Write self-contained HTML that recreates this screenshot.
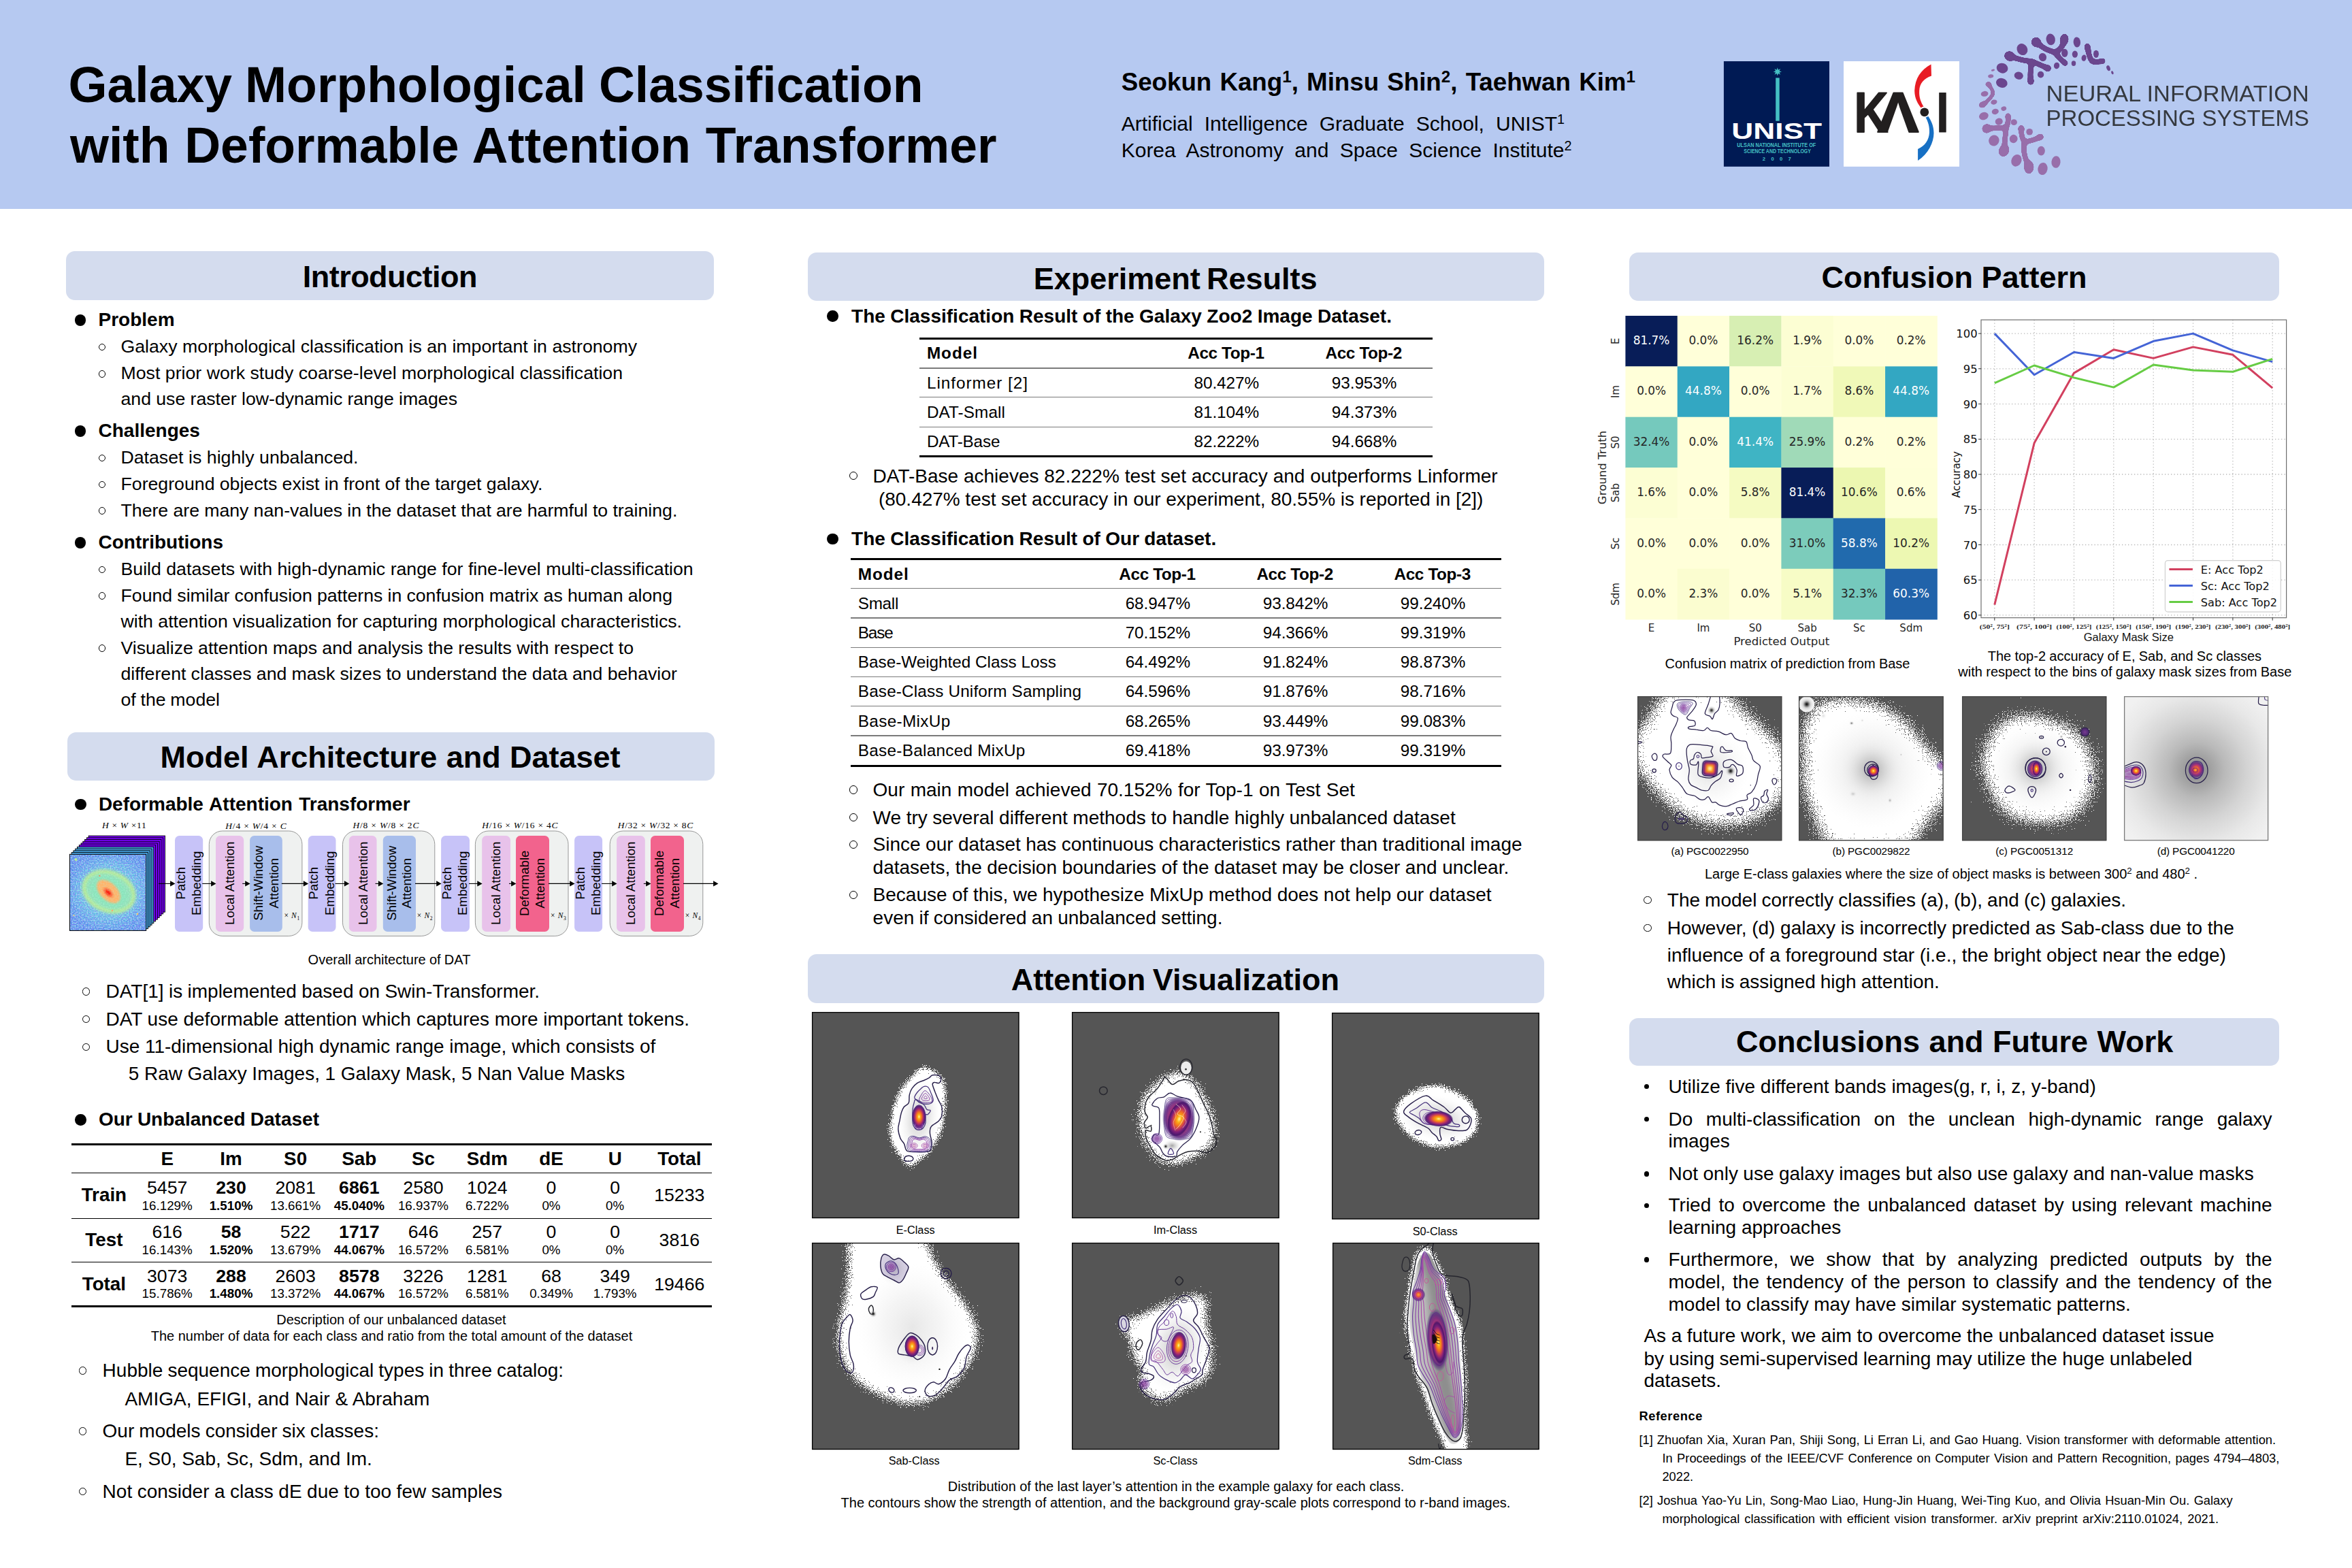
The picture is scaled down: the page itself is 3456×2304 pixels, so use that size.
<!DOCTYPE html>
<html lang="en"><head><meta charset="utf-8"><title>Galaxy Morphological Classification with Deformable Attention Transformer</title>
<style>
html,body{margin:0;padding:0;background:#fff;}
body{width:3456px;height:2304px;position:relative;overflow:hidden;font-family:'Liberation Sans',sans-serif;color:#000;}
.t{position:absolute;white-space:nowrap;line-height:1;}
.b{position:absolute;}
sup{font-size:66%;vertical-align:baseline;position:relative;top:-0.5em;line-height:0;}
svg{position:absolute;overflow:visible;}

</style></head><body>
<div class="b" style="left:0;top:0;width:3456px;height:307px;background:#b6c9f1"></div>
<div class="t" style="font-size:73.3px;top:89.10px;font-weight:bold;left:100.60px;word-spacing:-1.34px;">Galaxy Morphological Classification</div>
<div class="t" style="font-size:73.3px;top:177.50px;font-weight:bold;left:102.90px;word-spacing:1.37px;">with Deformable Attention Transformer</div>
<div class="t" style="font-size:36.7px;top:103.00px;font-weight:bold;left:1647.70px;word-spacing:2.04px;">Seokun Kang<sup>1</sup>, Minsu Shin<sup>2</sup>, Taehwan Kim<sup>1</sup></div>
<div class="t" style="font-size:30px;top:166.50px;left:1647.70px;word-spacing:8.75px;">Artificial Intelligence Graduate School, UNIST<sup>1</sup></div>
<div class="t" style="font-size:30px;top:205.70px;left:1647.70px;word-spacing:8.10px;">Korea Astronomy and Space Science Institute<sup>2</sup></div>
<div class="b" style="left:96.7px;top:369px;width:951.8999999999999px;height:71.5px;background:#d4dcee;border-radius:13px"></div>
<div class="t" style="font-size:45px;top:384.35px;font-weight:bold;left:444.80px;letter-spacing:-0.532px;">Introduction</div>
<div class="b" style="left:98.5px;top:1076.4px;width:951.0999999999999px;height:70.29999999999995px;background:#d4dcee;border-radius:13px"></div>
<div class="t" style="font-size:45px;top:1090.25px;font-weight:bold;left:235.50px;word-spacing:0.87px;">Model Architecture and Dataset</div>
<div class="b" style="left:1187.1px;top:371px;width:1081.9px;height:70.80000000000001px;background:#d4dcee;border-radius:13px"></div>
<div class="t" style="font-size:45px;top:386.55px;font-weight:bold;left:1518.70px;word-spacing:-3.34px;">Experiment Results</div>
<div class="b" style="left:1187.1px;top:1402.3px;width:1081.9px;height:71.29999999999995px;background:#d4dcee;border-radius:13px"></div>
<div class="t" style="font-size:45px;top:1417.35px;font-weight:bold;left:1485.70px;word-spacing:-1.90px;">Attention Visualization</div>
<div class="b" style="left:2394px;top:371.4px;width:954.6999999999998px;height:70.30000000000001px;background:#d4dcee;border-radius:13px"></div>
<div class="t" style="font-size:45px;top:384.85px;font-weight:bold;left:2676.60px;word-spacing:0.00px;">Confusion Pattern</div>
<div class="b" style="left:2394px;top:1495.5px;width:954.9000000000001px;height:70.0px;background:#d4dcee;border-radius:13px"></div>
<div class="t" style="font-size:45px;top:1507.85px;font-weight:bold;left:2551.10px;word-spacing:0.99px;">Conclusions and Future Work</div>
<div class="b" style="left:110.1px;top:462.2px;width:16.4px;height:16.4px;border-radius:50%;background:#000"></div>
<div class="t" style="font-size:28px;top:456.20px;font-weight:bold;left:144.50px;">Problem</div>
<div class="b" style="left:144.6px;top:504.7px;width:8.8px;height:8.8px;border-radius:50%;border:1.4px solid #000"></div>
<div class="t" style="font-size:26.7px;top:496.31px;left:177.50px;word-spacing:0.08px;">Galaxy morphological classification is an important in astronomy</div>
<div class="b" style="left:144.6px;top:543.8000000000001px;width:8.8px;height:8.8px;border-radius:50%;border:1.4px solid #000"></div>
<div class="t" style="font-size:26.7px;top:535.40px;left:177.50px;word-spacing:0.06px;">Most prior work study coarse-level morphological classification</div>
<div class="t" style="font-size:26.7px;top:573.00px;left:177.50px;word-spacing:-0.19px;">and use raster low-dynamic range images</div>
<div class="b" style="left:110.1px;top:625.1999999999999px;width:16.4px;height:16.4px;border-radius:50%;background:#000"></div>
<div class="t" style="font-size:28px;top:619.20px;font-weight:bold;left:144.50px;">Challenges</div>
<div class="b" style="left:144.6px;top:667.7px;width:8.8px;height:8.8px;border-radius:50%;border:1.4px solid #000"></div>
<div class="t" style="font-size:26.7px;top:659.30px;left:177.50px;word-spacing:0.11px;">Dataset is highly unbalanced.</div>
<div class="b" style="left:144.6px;top:706.7px;width:8.8px;height:8.8px;border-radius:50%;border:1.4px solid #000"></div>
<div class="t" style="font-size:26.7px;top:698.30px;left:177.50px;word-spacing:-0.15px;">Foreground objects exist in front of the target galaxy.</div>
<div class="b" style="left:144.6px;top:744.9000000000001px;width:8.8px;height:8.8px;border-radius:50%;border:1.4px solid #000"></div>
<div class="t" style="font-size:26.7px;top:736.50px;left:177.50px;word-spacing:-0.23px;">There are many nan-values in the dataset that are harmful to training.</div>
<div class="b" style="left:110.1px;top:789.1999999999999px;width:16.4px;height:16.4px;border-radius:50%;background:#000"></div>
<div class="t" style="font-size:28px;top:783.20px;font-weight:bold;left:144.50px;">Contributions</div>
<div class="b" style="left:144.6px;top:831.7px;width:8.8px;height:8.8px;border-radius:50%;border:1.4px solid #000"></div>
<div class="t" style="font-size:26.7px;top:823.30px;left:177.50px;word-spacing:0.02px;">Build datasets with high-dynamic range for fine-level multi-classification</div>
<div class="b" style="left:144.6px;top:870.2px;width:8.8px;height:8.8px;border-radius:50%;border:1.4px solid #000"></div>
<div class="t" style="font-size:26.7px;top:861.80px;left:177.50px;word-spacing:-0.27px;">Found similar confusion patterns in confusion matrix as human along</div>
<div class="t" style="font-size:26.7px;top:899.50px;left:177.50px;word-spacing:-0.04px;">with attention visualization for capturing morphological characteristics.</div>
<div class="b" style="left:144.6px;top:946.9000000000001px;width:8.8px;height:8.8px;border-radius:50%;border:1.4px solid #000"></div>
<div class="t" style="font-size:26.7px;top:938.50px;left:177.50px;word-spacing:-0.12px;">Visualize attention maps and analysis the results with respect to</div>
<div class="t" style="font-size:26.7px;top:976.60px;left:177.50px;word-spacing:-0.24px;">different classes and mask sizes to understand the data and behavior</div>
<div class="t" style="font-size:26.7px;top:1015.30px;left:177.50px;word-spacing:-0.69px;">of the model</div>
<div class="b" style="left:110.2px;top:1173.8px;width:16.4px;height:16.4px;border-radius:50%;background:#000"></div>
<div class="t" style="font-size:28px;top:1168.00px;font-weight:bold;left:144.90px;word-spacing:1.44px;">Deformable Attention Transformer</div>
<div class="t" style="font-size:20px;top:1400.30px;left:452.60px;word-spacing:-0.31px;">Overall architecture of DAT</div>
<div class="b" style="left:120.8px;top:1451.1999999999998px;width:9.600000000000001px;height:9.600000000000001px;border-radius:50%;border:1.6px solid #000"></div>
<div class="t" style="font-size:28px;top:1443.00px;left:155.50px;word-spacing:-0.40px;">DAT[1] is implemented based on Swin-Transformer.</div>
<div class="b" style="left:120.8px;top:1491.8999999999999px;width:9.600000000000001px;height:9.600000000000001px;border-radius:50%;border:1.6px solid #000"></div>
<div class="t" style="font-size:28px;top:1483.70px;left:155.50px;word-spacing:-0.08px;">DAT use deformable attention which captures more important tokens.</div>
<div class="b" style="left:120.8px;top:1532.6px;width:9.600000000000001px;height:9.600000000000001px;border-radius:50%;border:1.6px solid #000"></div>
<div class="t" style="font-size:28px;top:1524.40px;left:155.50px;word-spacing:-0.11px;">Use 11-dimensional high dynamic range image, which consists of</div>
<div class="t" style="font-size:28px;top:1563.70px;left:188.70px;word-spacing:-0.13px;">5 Raw Galaxy Images, 1 Galaxy Mask, 5 Nan Value Masks</div>
<div class="b" style="left:110.2px;top:1637.3999999999999px;width:16.4px;height:16.4px;border-radius:50%;background:#000"></div>
<div class="t" style="font-size:28px;top:1631.40px;font-weight:bold;left:144.90px;word-spacing:-0.55px;">Our Unbalanced Dataset</div>
<div class="b" style="left:105.1px;top:1679.9px;width:940.4999999999999px;height:3.2px;background:#000"></div>
<div class="b" style="left:105.1px;top:1722.85px;width:940.4999999999999px;height:1.3px;background:#000"></div>
<div class="b" style="left:105.1px;top:1790.05px;width:940.4999999999999px;height:1.3px;background:#000"></div>
<div class="b" style="left:105.1px;top:1854.1499999999999px;width:940.4999999999999px;height:1.3px;background:#000"></div>
<div class="b" style="left:105.1px;top:1917.8000000000002px;width:940.4999999999999px;height:3.2px;background:#000"></div>
<div class="t" style="font-size:27.8px;top:1689.27px;font-weight:bold;left:236.43px;">E</div>
<div class="t" style="font-size:27.8px;top:1689.27px;font-weight:bold;left:323.27px;">Im</div>
<div class="t" style="font-size:27.8px;top:1689.27px;font-weight:bold;left:417.10px;">S0</div>
<div class="t" style="font-size:27.8px;top:1689.27px;font-weight:bold;left:502.31px;">Sab</div>
<div class="t" style="font-size:27.8px;top:1689.27px;font-weight:bold;left:605.00px;">Sc</div>
<div class="t" style="font-size:27.8px;top:1689.27px;font-weight:bold;left:685.67px;">Sdm</div>
<div class="t" style="font-size:27.8px;top:1689.27px;font-weight:bold;left:792.23px;">dE</div>
<div class="t" style="font-size:27.8px;top:1689.27px;font-weight:bold;left:893.66px;">U</div>
<div class="t" style="font-size:27.8px;top:1689.27px;font-weight:bold;left:966.13px;">Total</div>
<div class="t" style="font-size:27.8px;top:1742.27px;font-weight:bold;left:119.68px;">Train</div>
<div class="t" style="font-size:26.7px;top:1732.21px;left:216.01px;">5457</div>
<div class="t" style="font-size:18.8px;top:1763.22px;left:208.62px;">16.129%</div>
<div class="t" style="font-size:26.7px;top:1732.21px;font-weight:bold;left:317.23px;">230</div>
<div class="t" style="font-size:18.8px;top:1763.22px;font-weight:bold;left:307.65px;">1.510%</div>
<div class="t" style="font-size:26.7px;top:1732.21px;left:404.41px;">2081</div>
<div class="t" style="font-size:18.8px;top:1763.22px;left:397.02px;">13.661%</div>
<div class="t" style="font-size:26.7px;top:1732.21px;font-weight:bold;left:498.11px;">6861</div>
<div class="t" style="font-size:18.8px;top:1763.22px;font-weight:bold;left:490.72px;">45.040%</div>
<div class="t" style="font-size:26.7px;top:1732.21px;left:592.31px;">2580</div>
<div class="t" style="font-size:18.8px;top:1763.22px;left:584.92px;">16.937%</div>
<div class="t" style="font-size:26.7px;top:1732.21px;left:686.11px;">1024</div>
<div class="t" style="font-size:18.8px;top:1763.22px;left:683.95px;">6.722%</div>
<div class="t" style="font-size:26.7px;top:1732.21px;left:802.58px;">0</div>
<div class="t" style="font-size:18.8px;top:1763.22px;left:796.42px;">0%</div>
<div class="t" style="font-size:26.7px;top:1732.21px;left:896.28px;">0</div>
<div class="t" style="font-size:18.8px;top:1763.22px;left:890.12px;">0%</div>
<div class="t" style="font-size:26.7px;top:1743.21px;left:961.19px;">15233</div>
<div class="t" style="font-size:27.8px;top:1807.77px;font-weight:bold;left:125.35px;">Test</div>
<div class="t" style="font-size:26.7px;top:1797.21px;left:223.43px;">616</div>
<div class="t" style="font-size:18.8px;top:1828.22px;left:208.62px;">16.143%</div>
<div class="t" style="font-size:26.7px;top:1797.21px;font-weight:bold;left:324.66px;">58</div>
<div class="t" style="font-size:18.8px;top:1828.22px;font-weight:bold;left:307.65px;">1.520%</div>
<div class="t" style="font-size:26.7px;top:1797.21px;left:411.83px;">522</div>
<div class="t" style="font-size:18.8px;top:1828.22px;left:397.02px;">13.679%</div>
<div class="t" style="font-size:26.7px;top:1797.21px;font-weight:bold;left:498.11px;">1717</div>
<div class="t" style="font-size:18.8px;top:1828.22px;font-weight:bold;left:490.72px;">44.067%</div>
<div class="t" style="font-size:26.7px;top:1797.21px;left:599.73px;">646</div>
<div class="t" style="font-size:18.8px;top:1828.22px;left:584.92px;">16.572%</div>
<div class="t" style="font-size:26.7px;top:1797.21px;left:693.53px;">257</div>
<div class="t" style="font-size:18.8px;top:1828.22px;left:683.95px;">6.581%</div>
<div class="t" style="font-size:26.7px;top:1797.21px;left:802.58px;">0</div>
<div class="t" style="font-size:18.8px;top:1828.22px;left:796.42px;">0%</div>
<div class="t" style="font-size:26.7px;top:1797.21px;left:896.28px;">0</div>
<div class="t" style="font-size:18.8px;top:1828.22px;left:890.12px;">0%</div>
<div class="t" style="font-size:26.7px;top:1808.71px;left:968.61px;">3816</div>
<div class="t" style="font-size:27.8px;top:1872.77px;font-weight:bold;left:120.73px;">Total</div>
<div class="t" style="font-size:26.7px;top:1861.71px;left:216.01px;">3073</div>
<div class="t" style="font-size:18.8px;top:1892.32px;left:208.62px;">15.786%</div>
<div class="t" style="font-size:26.7px;top:1861.71px;font-weight:bold;left:317.23px;">288</div>
<div class="t" style="font-size:18.8px;top:1892.32px;font-weight:bold;left:307.65px;">1.480%</div>
<div class="t" style="font-size:26.7px;top:1861.71px;left:404.41px;">2603</div>
<div class="t" style="font-size:18.8px;top:1892.32px;left:397.02px;">13.372%</div>
<div class="t" style="font-size:26.7px;top:1861.71px;font-weight:bold;left:498.11px;">8578</div>
<div class="t" style="font-size:18.8px;top:1892.32px;font-weight:bold;left:490.72px;">44.067%</div>
<div class="t" style="font-size:26.7px;top:1861.71px;left:592.31px;">3226</div>
<div class="t" style="font-size:18.8px;top:1892.32px;left:584.92px;">16.572%</div>
<div class="t" style="font-size:26.7px;top:1861.71px;left:686.11px;">1281</div>
<div class="t" style="font-size:18.8px;top:1892.32px;left:683.95px;">6.581%</div>
<div class="t" style="font-size:26.7px;top:1861.71px;left:795.16px;">68</div>
<div class="t" style="font-size:18.8px;top:1892.32px;left:778.15px;">0.349%</div>
<div class="t" style="font-size:26.7px;top:1861.71px;left:881.43px;">349</div>
<div class="t" style="font-size:18.8px;top:1892.32px;left:871.85px;">1.793%</div>
<div class="t" style="font-size:26.7px;top:1873.71px;left:961.19px;">19466</div>
<div class="t" style="font-size:20px;top:1929.30px;left:406.20px;word-spacing:0.13px;">Description of our unbalanced dataset</div>
<div class="t" style="font-size:20px;top:1953.20px;left:221.75px;word-spacing:-0.05px;">The number of data for each class and ratio from the total amount of the dataset</div>
<div class="b" style="left:115.89999999999999px;top:2008.1px;width:9.600000000000001px;height:9.600000000000001px;border-radius:50%;border:1.6px solid #000"></div>
<div class="t" style="font-size:28px;top:1999.90px;left:150.60px;word-spacing:-0.71px;">Hubble sequence morphological types in three catalog:</div>
<div class="t" style="font-size:28px;top:2041.90px;left:183.40px;word-spacing:0.26px;">AMIGA, EFIGI, and Nair &amp; Abraham</div>
<div class="b" style="left:115.89999999999999px;top:2097.4px;width:9.600000000000001px;height:9.600000000000001px;border-radius:50%;border:1.6px solid #000"></div>
<div class="t" style="font-size:28px;top:2089.20px;left:150.60px;word-spacing:-0.72px;">Our models consider six classes:</div>
<div class="t" style="font-size:28px;top:2129.50px;left:183.40px;word-spacing:-0.13px;">E, S0, Sab, Sc, Sdm, and Im.</div>
<div class="b" style="left:115.89999999999999px;top:2185.9px;width:9.600000000000001px;height:9.600000000000001px;border-radius:50%;border:1.6px solid #000"></div>
<div class="t" style="font-size:28px;top:2177.70px;left:150.60px;word-spacing:-0.28px;">Not consider a class dE due to too few samples</div>
<div class="b" style="left:1215.3px;top:456.40000000000003px;width:16.4px;height:16.4px;border-radius:50%;background:#000"></div>
<div class="t" style="font-size:28px;top:450.50px;font-weight:bold;left:1251.10px;word-spacing:-0.35px;">The Classification Result of the Galaxy Zoo2 Image Dataset.</div>
<div class="b" style="left:1350.9px;top:495.7px;width:754.1999999999998px;height:3px;background:#000"></div>
<div class="b" style="left:1350.9px;top:540.3px;width:754.1999999999998px;height:1.4px;background:#7a7a7a"></div>
<div class="b" style="left:1350.9px;top:583.0999999999999px;width:754.1999999999998px;height:1.4px;background:#7a7a7a"></div>
<div class="b" style="left:1350.9px;top:626.5px;width:754.1999999999998px;height:1.4px;background:#7a7a7a"></div>
<div class="b" style="left:1350.9px;top:669.2px;width:754.1999999999998px;height:3px;background:#000"></div>
<div class="t" style="font-size:24.3px;top:507.45px;font-weight:bold;left:1361.90px;letter-spacing:0.953px;">Model</div>
<div class="t" style="font-size:24.3px;top:507.45px;font-weight:bold;left:1745.20px;letter-spacing:-0.357px;">Acc Top-1</div>
<div class="t" style="font-size:24.3px;top:507.45px;font-weight:bold;left:1947.50px;letter-spacing:-0.357px;">Acc Top-2</div>
<div class="t" style="font-size:24.3px;top:550.55px;left:1361.90px;letter-spacing:0.984px;">Linformer [2]</div>
<div class="t" style="font-size:24.3px;top:550.55px;left:1754.55px;letter-spacing:-0.070px;">80.427%</div>
<div class="t" style="font-size:24.3px;top:550.55px;left:1956.85px;letter-spacing:-0.070px;">93.953%</div>
<div class="t" style="font-size:24.3px;top:593.64px;left:1361.90px;letter-spacing:0.088px;">DAT-Small</div>
<div class="t" style="font-size:24.3px;top:593.64px;left:1754.55px;letter-spacing:-0.070px;">81.104%</div>
<div class="t" style="font-size:24.3px;top:593.64px;left:1956.85px;letter-spacing:-0.070px;">94.373%</div>
<div class="t" style="font-size:24.3px;top:636.75px;left:1361.90px;letter-spacing:-0.203px;">DAT-Base</div>
<div class="t" style="font-size:24.3px;top:636.75px;left:1754.55px;letter-spacing:-0.070px;">82.222%</div>
<div class="t" style="font-size:24.3px;top:636.75px;left:1956.85px;letter-spacing:-0.070px;">94.668%</div>
<div class="b" style="left:1248.1px;top:693.1px;width:10.4px;height:10.4px;border-radius:50%;border:1.7px solid #000"></div>
<div class="t" style="font-size:28px;top:685.60px;left:1282.60px;word-spacing:0.05px;">DAT-Base achieves 82.222% test set accuracy and outperforms Linformer</div>
<div class="t" style="font-size:28px;top:719.50px;left:1290.90px;word-spacing:-0.16px;">(80.427% test set accuracy in our experiment, 80.55% is reported in [2])</div>
<div class="b" style="left:1215.3px;top:784.0px;width:16.4px;height:16.4px;border-radius:50%;background:#000"></div>
<div class="t" style="font-size:28px;top:778.20px;font-weight:bold;left:1251.10px;word-spacing:-0.45px;">The Classification Result of Our dataset.</div>
<div class="b" style="left:1250.2px;top:820.3px;width:955.8px;height:3px;background:#000"></div>
<div class="b" style="left:1250.2px;top:863.8px;width:955.8px;height:1.4px;background:#7a7a7a"></div>
<div class="b" style="left:1250.2px;top:907.4px;width:955.8px;height:1.4px;background:#7a7a7a"></div>
<div class="b" style="left:1250.2px;top:950.5px;width:955.8px;height:1.4px;background:#7a7a7a"></div>
<div class="b" style="left:1250.2px;top:993.6999999999999px;width:955.8px;height:1.4px;background:#7a7a7a"></div>
<div class="b" style="left:1250.2px;top:1036.7px;width:955.8px;height:1.4px;background:#7a7a7a"></div>
<div class="b" style="left:1250.2px;top:1080.3px;width:955.8px;height:1.4px;background:#7a7a7a"></div>
<div class="b" style="left:1250.2px;top:1123.5px;width:955.8px;height:3px;background:#000"></div>
<div class="t" style="font-size:24.3px;top:831.64px;font-weight:bold;left:1260.80px;letter-spacing:0.953px;">Model</div>
<div class="t" style="font-size:24.3px;top:831.64px;font-weight:bold;left:1644.30px;letter-spacing:-0.357px;">Acc Top-1</div>
<div class="t" style="font-size:24.3px;top:831.64px;font-weight:bold;left:1846.40px;letter-spacing:-0.357px;">Acc Top-2</div>
<div class="t" style="font-size:24.3px;top:831.64px;font-weight:bold;left:2048.50px;letter-spacing:-0.357px;">Acc Top-3</div>
<div class="t" style="font-size:24.3px;top:875.35px;left:1260.80px;letter-spacing:-0.316px;">Small</div>
<div class="t" style="font-size:24.3px;top:875.35px;left:1653.65px;letter-spacing:-0.070px;">68.947%</div>
<div class="t" style="font-size:24.3px;top:875.35px;left:1855.75px;letter-spacing:-0.070px;">93.842%</div>
<div class="t" style="font-size:24.3px;top:875.35px;left:2057.85px;letter-spacing:-0.070px;">99.240%</div>
<div class="t" style="font-size:24.3px;top:917.95px;left:1260.80px;letter-spacing:-1.130px;">Base</div>
<div class="t" style="font-size:24.3px;top:917.95px;left:1653.65px;letter-spacing:-0.070px;">70.152%</div>
<div class="t" style="font-size:24.3px;top:917.95px;left:1855.75px;letter-spacing:-0.070px;">94.366%</div>
<div class="t" style="font-size:24.3px;top:917.95px;left:2057.85px;letter-spacing:-0.070px;">99.319%</div>
<div class="t" style="font-size:24.3px;top:961.14px;left:1260.80px;letter-spacing:-0.012px;">Base-Weighted Class Loss</div>
<div class="t" style="font-size:24.3px;top:961.14px;left:1653.65px;letter-spacing:-0.070px;">64.492%</div>
<div class="t" style="font-size:24.3px;top:961.14px;left:1855.75px;letter-spacing:-0.070px;">91.824%</div>
<div class="t" style="font-size:24.3px;top:961.14px;left:2057.85px;letter-spacing:-0.070px;">98.873%</div>
<div class="t" style="font-size:24.3px;top:1004.35px;left:1260.80px;letter-spacing:0.155px;">Base-Class Uniform Sampling</div>
<div class="t" style="font-size:24.3px;top:1004.35px;left:1653.65px;letter-spacing:-0.070px;">64.596%</div>
<div class="t" style="font-size:24.3px;top:1004.35px;left:1855.75px;letter-spacing:-0.070px;">91.876%</div>
<div class="t" style="font-size:24.3px;top:1004.35px;left:2057.85px;letter-spacing:-0.070px;">98.716%</div>
<div class="t" style="font-size:24.3px;top:1047.64px;left:1260.80px;letter-spacing:0.352px;">Base-MixUp</div>
<div class="t" style="font-size:24.3px;top:1047.64px;left:1653.65px;letter-spacing:-0.070px;">68.265%</div>
<div class="t" style="font-size:24.3px;top:1047.64px;left:1855.75px;letter-spacing:-0.070px;">93.449%</div>
<div class="t" style="font-size:24.3px;top:1047.64px;left:2057.85px;letter-spacing:-0.070px;">99.083%</div>
<div class="t" style="font-size:24.3px;top:1091.35px;left:1260.80px;letter-spacing:0.284px;">Base-Balanced MixUp</div>
<div class="t" style="font-size:24.3px;top:1091.35px;left:1653.65px;letter-spacing:-0.070px;">69.418%</div>
<div class="t" style="font-size:24.3px;top:1091.35px;left:1855.75px;letter-spacing:-0.070px;">93.973%</div>
<div class="t" style="font-size:24.3px;top:1091.35px;left:2057.85px;letter-spacing:-0.070px;">99.319%</div>
<div class="t" style="font-size:28px;top:1146.80px;left:1282.60px;word-spacing:0.63px;">Our main model achieved 70.152% for Top-1 on Test Set</div>
<div class="t" style="font-size:28px;top:1187.50px;left:1282.60px;word-spacing:-0.23px;">We try several different methods to handle highly unbalanced dataset</div>
<div class="t" style="font-size:28px;top:1227.30px;left:1282.60px;word-spacing:-0.36px;">Since our dataset has continuous characteristics rather than traditional image</div>
<div class="t" style="font-size:28px;top:1261.20px;left:1282.60px;word-spacing:-0.22px;">datasets, the decision boundaries of the dataset may be closer and unclear.</div>
<div class="t" style="font-size:28px;top:1301.40px;left:1282.60px;word-spacing:-0.29px;">Because of this, we hypothesize MixUp method does not help our dataset</div>
<div class="t" style="font-size:28px;top:1335.40px;left:1282.60px;word-spacing:-0.60px;">even if considered an unbalanced setting.</div>
<div class="b" style="left:1248.1px;top:1154.2999999999997px;width:10.4px;height:10.4px;border-radius:50%;border:1.7px solid #000"></div>
<div class="b" style="left:1248.1px;top:1194.9999999999998px;width:10.4px;height:10.4px;border-radius:50%;border:1.7px solid #000"></div>
<div class="b" style="left:1248.1px;top:1234.7999999999997px;width:10.4px;height:10.4px;border-radius:50%;border:1.7px solid #000"></div>
<div class="b" style="left:1248.1px;top:1308.8999999999999px;width:10.4px;height:10.4px;border-radius:50%;border:1.7px solid #000"></div>
<div class="t" style="font-size:16.3px;top:1799.24px;left:1316.70px;">E-Class</div>
<div class="t" style="font-size:16.3px;top:1799.24px;left:1694.89px;">Im-Class</div>
<div class="t" style="font-size:16.3px;top:1801.35px;left:2075.67px;">S0-Class</div>
<div class="t" style="font-size:16.3px;top:2138.14px;left:1305.65px;">Sab-Class</div>
<div class="t" style="font-size:16.3px;top:2138.14px;left:1694.43px;">Sc-Class</div>
<div class="t" style="font-size:16.3px;top:2138.14px;left:2068.89px;">Sdm-Class</div>
<div class="t" style="font-size:20px;top:2173.80px;left:1392.75px;word-spacing:-0.11px;">Distribution of the last layer’s attention in the example galaxy for each class.</div>
<div class="t" style="font-size:20px;top:2198.30px;left:1235.55px;word-spacing:-0.08px;">The contours show the strength of attention, and the background gray-scale plots correspond to r-band images.</div>
<div class="t" style="font-size:20px;top:964.90px;left:2446.50px;word-spacing:-0.26px;">Confusion matrix of prediction from Base</div>
<div class="t" style="font-size:20px;top:953.60px;left:2920.70px;word-spacing:-0.28px;">The top-2 accuracy of E, Sab, and Sc classes</div>
<div class="t" style="font-size:20px;top:977.40px;left:2877.30px;word-spacing:-0.13px;">with respect to the bins of galaxy mask sizes from Base</div>
<div class="t" style="font-size:15.3px;top:1242.59px;left:2455.60px;letter-spacing:-0.127px;">(a) PGC0022950</div>
<div class="t" style="font-size:15.3px;top:1242.59px;left:2692.60px;letter-spacing:-0.127px;">(b) PGC0029822</div>
<div class="t" style="font-size:15.3px;top:1242.59px;left:2932.20px;letter-spacing:-0.061px;">(c) PGC0051312</div>
<div class="t" style="font-size:15.3px;top:1242.59px;left:3169.70px;letter-spacing:-0.127px;">(d) PGC0041220</div>
<div class="t" style="font-size:20px;top:1273.50px;left:2505.00px;word-spacing:0.00px;">Large E-class galaxies where the size of object masks is between 300<sup>2</sup> and 480<sup>2</sup> .</div>
<div class="b" style="left:2415.1px;top:1316.8px;width:9.600000000000001px;height:9.600000000000001px;border-radius:50%;border:1.6px solid #000"></div>
<div class="t" style="font-size:28px;top:1308.70px;left:2449.80px;word-spacing:-0.71px;">The model correctly classifies (a), (b), and (c) galaxies.</div>
<div class="b" style="left:2415.1px;top:1357.8999999999999px;width:9.600000000000001px;height:9.600000000000001px;border-radius:50%;border:1.6px solid #000"></div>
<div class="t" style="font-size:28px;top:1349.80px;left:2449.80px;word-spacing:-0.12px;">However, (d) galaxy is incorrectly predicted as Sab-class due to the</div>
<div class="t" style="font-size:28px;top:1389.60px;left:2449.80px;word-spacing:-0.21px;">influence of a foreground star (i.e., the bright object near the edge)</div>
<div class="t" style="font-size:28px;top:1429.40px;left:2449.80px;word-spacing:-0.76px;">which is assigned high attention.</div>
<div class="t" style="font-size:28px;top:1582.60px;left:2451.50px;word-spacing:-0.00px;">Utilize five different bands images(g, r, i, z, y-band)</div>
<div class="t" style="font-size:28px;top:1630.50px;left:2451.50px;word-spacing:11.78px;">Do multi-classification on the unclean high-dynamic range galaxy</div>
<div class="t" style="font-size:28px;top:1662.80px;left:2451.50px;">images</div>
<div class="t" style="font-size:28px;top:1710.70px;left:2451.50px;word-spacing:-0.33px;">Not only use galaxy images but also use galaxy and nan-value masks</div>
<div class="t" style="font-size:28px;top:1757.00px;left:2451.50px;word-spacing:3.39px;">Tried to overcome the unbalanced dataset by using relevant machine</div>
<div class="t" style="font-size:28px;top:1790.40px;left:2451.50px;">learning approaches</div>
<div class="t" style="font-size:28px;top:1836.70px;left:2451.50px;word-spacing:9.33px;">Furthermore, we show that by analyzing predicted outputs by the</div>
<div class="t" style="font-size:28px;top:1870.10px;left:2451.50px;word-spacing:2.71px;">model, the tendency of the person to classify and the tendency of the</div>
<div class="t" style="font-size:28px;top:1903.40px;left:2451.50px;word-spacing:-0.32px;">model to classify may have similar systematic patterns.</div>
<div class="b" style="left:2416.2000000000003px;top:1593.3000000000002px;width:7.2px;height:7.2px;border-radius:50%;background:#000"></div>
<div class="b" style="left:2416.2000000000003px;top:1641.2px;width:7.2px;height:7.2px;border-radius:50%;background:#000"></div>
<div class="b" style="left:2416.2000000000003px;top:1721.4px;width:7.2px;height:7.2px;border-radius:50%;background:#000"></div>
<div class="b" style="left:2416.2000000000003px;top:1767.7px;width:7.2px;height:7.2px;border-radius:50%;background:#000"></div>
<div class="b" style="left:2416.2000000000003px;top:1847.4px;width:7.2px;height:7.2px;border-radius:50%;background:#000"></div>
<div class="t" style="font-size:28px;top:1948.70px;left:2415.40px;word-spacing:-0.20px;">As a future work, we aim to overcome the unbalanced dataset issue</div>
<div class="t" style="font-size:28px;top:1982.60px;left:2415.40px;word-spacing:-0.43px;">by using semi-supervised learning may utilize the huge unlabeled</div>
<div class="t" style="font-size:28px;top:2015.40px;left:2415.40px;">datasets.</div>
<div class="t" style="font-size:18.3px;top:2071.55px;font-weight:bold;left:2408.40px;letter-spacing:0.585px;">Reference</div>
<div class="t" style="font-size:18.3px;top:2107.05px;left:2408.40px;word-spacing:1.02px;">[1] Zhuofan Xia, Xuran Pan, Shiji Song, Li Erran Li, and Gao Huang. Vision transformer with deformable attention.</div>
<div class="t" style="font-size:18.3px;top:2134.05px;left:2442.40px;word-spacing:1.39px;">In Proceedings of the IEEE/CVF Conference on Computer Vision and Pattern Recognition, pages 4794–4803,</div>
<div class="t" style="font-size:18.3px;top:2160.95px;left:2442.40px;">2022.</div>
<div class="t" style="font-size:18.3px;top:2196.45px;left:2408.40px;word-spacing:1.23px;">[2] Joshua Yao-Yu Lin, Song-Mao Liao, Hung-Jin Huang, Wei-Ting Kuo, and Olivia Hsuan-Min Ou. Galaxy</div>
<div class="t" style="font-size:18.3px;top:2222.85px;left:2442.40px;word-spacing:2.06px;">morphological classification with efficient vision transformer. arXiv preprint arXiv:2110.01024, 2021.</div>
<svg style="left:2520px;top:40px" width="936" height="240" viewBox="2520 40 936 240" font-family="Liberation Sans, sans-serif">
<rect x="2532.9" y="90" width="155.1" height="154.8" fill="#001a54"/>
<rect x="2609.2" y="114.4" width="5.5" height="63.3" fill="#45c0c4"/>
<polygon points="2611.80,99.20 2612.91,102.72 2616.18,101.02 2614.48,104.29 2618.00,105.40 2614.48,106.51 2616.18,109.78 2612.91,108.08 2611.80,111.60 2610.69,108.08 2607.42,109.78 2609.12,106.51 2605.60,105.40 2609.12,104.29 2607.42,101.02 2610.69,102.72" fill="#45c0c4"/>
<text x="2544.2" y="204.4" font-size="32.8" font-weight="bold" fill="#fff" textLength="133" lengthAdjust="spacingAndGlyphs">UNIST</text>
<text x="2552.3" y="215.7" font-size="8.2" font-weight="bold" fill="#45c0c4" textLength="116" lengthAdjust="spacingAndGlyphs">ULSAN NATIONAL INSTITUTE OF</text>
<text x="2562.3" y="224.9" font-size="8.2" font-weight="bold" fill="#45c0c4" textLength="98.6" lengthAdjust="spacingAndGlyphs">SCIENCE AND TECHNOLOGY</text>
<text x="2589.8" y="236.4" font-size="7.6" font-weight="bold" fill="#45c0c4" textLength="42" lengthAdjust="spacing">2 0 0 7</text>
<rect x="2709" y="90" width="170" height="154.8" fill="#fff"/>
<text x="2724.6" y="193.9" font-size="83.4" font-weight="bold" fill="#221f1f" stroke="#221f1f" stroke-width="1.8" stroke-linejoin="round" textLength="50" lengthAdjust="spacingAndGlyphs">K</text>
<text x="2758.5" y="193.9" font-size="83.4" font-weight="bold" fill="#221f1f" stroke="#221f1f" stroke-width="1.8" stroke-linejoin="round" textLength="61" lengthAdjust="spacingAndGlyphs">Λ</text>
<text x="2845.3" y="193.9" font-size="83.4" font-weight="bold" fill="#221f1f" stroke="#221f1f" stroke-width="1" textLength="18.4" lengthAdjust="spacingAndGlyphs">I</text>
<path d="M2837.5 94.5C2822.1 102.6 2814.0 115.5 2813.2 133.3C2813.2 144.6 2818.1 152.7 2823.4 159.5L2827.0 157.6C2822.1 149.5 2819.7 143.0 2820.2 133.3C2820.8 122.0 2827.0 115.5 2838.0 111.5Z" fill="#e81c24"/>
<path d="M2828.9 171.4C2833.4 178.6 2835.4 186.6 2835.0 194.7C2834.4 206.0 2828.6 214.1 2818.1 218.9L2818.1 235.9C2833.4 226.2 2841.5 209.3 2841.5 195.5C2841.5 185.0 2837.5 176.9 2832.6 169.8Z" fill="#1770c4"/>
<circle cx="2827.8" cy="164.8" r="8.2" fill="#fff"/><circle cx="2827.8" cy="164.8" r="6.4" fill="#221f1f"/>
<g transform="translate(2890,40) scale(0.14670)">
<defs><filter id="goo" x="-5%" y="-5%" width="110%" height="110%"><feGaussianBlur in="SourceGraphic" stdDeviation="13"/><feColorMatrix type="matrix" values="1 0 0 0 0  0 1 0 0 0  0 0 1 0 0  0 0 0 22 -9"/></filter></defs>
<ellipse cx="840" cy="122" rx="45" ry="58" transform="rotate(-10 840 122)" fill="#6b468e"/>
<ellipse cx="1103" cy="150" rx="35" ry="52" transform="rotate(-5 1103 150)" fill="#6b468e"/>
<ellipse cx="555" cy="222" rx="52" ry="60" transform="rotate(-30 555 222)" fill="#6b468e"/>
<ellipse cx="1295" cy="268" rx="27" ry="38" transform="rotate(0 1295 268)" fill="#6b468e"/>
<ellipse cx="980" cy="258" rx="32" ry="42" transform="rotate(0 980 258)" fill="#6b468e"/>
<ellipse cx="1083" cy="270" rx="28" ry="35" transform="rotate(0 1083 270)" fill="#6b468e"/>
<ellipse cx="760" cy="300" rx="38" ry="42" transform="rotate(-20 760 300)" fill="#6b468e"/>
<ellipse cx="1173" cy="308" rx="24" ry="32" transform="rotate(10 1173 308)" fill="#6b468e"/>
<ellipse cx="900" cy="385" rx="28" ry="33" transform="rotate(10 900 385)" fill="#6b468e"/>
<ellipse cx="1070" cy="362" rx="22" ry="27" transform="rotate(0 1070 362)" fill="#6b468e"/>
<ellipse cx="355" cy="410" rx="58" ry="50" transform="rotate(20 355 410)" fill="#6b468e"/>
<ellipse cx="520" cy="485" rx="45" ry="38" transform="rotate(15 520 485)" fill="#6b468e"/>
<ellipse cx="740" cy="475" rx="32" ry="33" transform="rotate(0 740 475)" fill="#6b468e"/>
<ellipse cx="350" cy="558" rx="58" ry="47" transform="rotate(15 350 558)" fill="#6b468e"/>
<ellipse cx="1418" cy="410" rx="18" ry="28" transform="rotate(-20 1418 410)" fill="#6b468e"/>
<ellipse cx="1458" cy="455" rx="11" ry="18" transform="rotate(-20 1458 455)" fill="#6b468e"/>
<g filter="url(#goo)">
<ellipse cx="975" cy="125" rx="42" ry="60" transform="rotate(10 975 125)" fill="#6b468e"/>
<ellipse cx="695" cy="150" rx="48" ry="50" transform="rotate(-30 695 150)" fill="#6b468e"/>
<ellipse cx="1210" cy="205" rx="30" ry="48" transform="rotate(-10 1210 205)" fill="#6b468e"/>
<ellipse cx="430" cy="290" rx="55" ry="48" transform="rotate(20 430 290)" fill="#6b468e"/>
<ellipse cx="985" cy="360" rx="28" ry="30" transform="rotate(0 985 360)" fill="#6b468e"/>
<ellipse cx="640" cy="540" rx="33" ry="38" transform="rotate(0 640 540)" fill="#6b468e"/>
<ellipse cx="1360" cy="340" rx="28" ry="30" transform="rotate(0 1360 340)" fill="#6b468e"/>
<ellipse cx="810" cy="410" rx="35" ry="35" transform="rotate(0 810 410)" fill="#6b468e"/>
<path d="M695 150Q780 230 880 250Q950 230 975 140M880 250Q940 330 985 360M430 290Q560 340 650 340Q740 380 810 410M650 340Q630 440 640 540M1210 205Q1230 330 1260 345Q1310 350 1360 340" fill="none" stroke="#6b468e" stroke-width="50" stroke-linecap="round" stroke-linejoin="round"/>
</g>
<ellipse cx="262" cy="430" rx="18" ry="10" transform="rotate(-15 262 430)" fill="#986eaa"/>
<ellipse cx="240" cy="490" rx="28" ry="18" transform="rotate(-10 240 490)" fill="#986eaa"/>
<ellipse cx="178" cy="667" rx="37" ry="27" transform="rotate(-10 178 667)" fill="#986eaa"/>
<ellipse cx="272" cy="750" rx="32" ry="24" transform="rotate(-15 272 750)" fill="#986eaa"/>
<ellipse cx="370" cy="815" rx="27" ry="22" transform="rotate(-15 370 815)" fill="#986eaa"/>
<ellipse cx="285" cy="845" rx="35" ry="28" transform="rotate(-15 285 845)" fill="#986eaa"/>
<ellipse cx="170" cy="890" rx="48" ry="38" transform="rotate(-20 170 890)" fill="#986eaa"/>
<ellipse cx="322" cy="945" rx="38" ry="35" transform="rotate(-15 322 945)" fill="#986eaa"/>
<ellipse cx="472" cy="952" rx="32" ry="30" transform="rotate(0 472 952)" fill="#986eaa"/>
<ellipse cx="628" cy="1048" rx="33" ry="33" transform="rotate(0 628 1048)" fill="#986eaa"/>
<ellipse cx="272" cy="1135" rx="52" ry="55" transform="rotate(30 272 1135)" fill="#986eaa"/>
<ellipse cx="468" cy="1118" rx="40" ry="42" transform="rotate(20 468 1118)" fill="#986eaa"/>
<ellipse cx="745" cy="1238" rx="38" ry="47" transform="rotate(0 745 1238)" fill="#986eaa"/>
<ellipse cx="497" cy="1335" rx="50" ry="62" transform="rotate(25 497 1335)" fill="#986eaa"/>
<ellipse cx="893" cy="1350" rx="45" ry="60" transform="rotate(5 893 1350)" fill="#986eaa"/>
<ellipse cx="760" cy="1418" rx="48" ry="62" transform="rotate(10 760 1418)" fill="#986eaa"/>
<g filter="url(#goo)">
<ellipse cx="215" cy="570" rx="32" ry="25" transform="rotate(-10 215 570)" fill="#986eaa"/>
<ellipse cx="160" cy="775" rx="42" ry="30" transform="rotate(-25 160 775)" fill="#986eaa"/>
<ellipse cx="413" cy="890" rx="28" ry="30" transform="rotate(0 413 890)" fill="#986eaa"/>
<ellipse cx="200" cy="1015" rx="48" ry="45" transform="rotate(-20 200 1015)" fill="#986eaa"/>
<ellipse cx="545" cy="1015" rx="32" ry="35" transform="rotate(0 545 1015)" fill="#986eaa"/>
<ellipse cx="735" cy="1100" rx="35" ry="33" transform="rotate(0 735 1100)" fill="#986eaa"/>
<ellipse cx="372" cy="1235" rx="50" ry="62" transform="rotate(25 372 1235)" fill="#986eaa"/>
<ellipse cx="622" cy="1400" rx="48" ry="68" transform="rotate(0 622 1400)" fill="#986eaa"/>
<path d="M215 570Q270 640 265 665Q220 740 160 775" fill="none" stroke="#986eaa" stroke-width="34" stroke-linecap="round"/>
<path d="M200 1015Q320 1010 395 1005Q420 960 413 890M395 1005Q380 1130 372 1235M545 1015Q545 1120 580 1150Q680 1130 735 1100M580 1150Q550 1250 622 1400" fill="none" stroke="#986eaa" stroke-width="48" stroke-linecap="round" stroke-linejoin="round"/>
</g>
</g>
<text x="3006.6" y="148.6" font-size="34" fill="#35393f" textLength="386.4" lengthAdjust="spacingAndGlyphs">NEURAL INFORMATION</text>
<text x="3006.6" y="184.5" font-size="34" fill="#35393f" textLength="386.4" lengthAdjust="spacingAndGlyphs">PROCESSING SYSTEMS</text>
</svg>
<svg style="left:90px;top:1195px" width="1000" height="200" viewBox="90 1195 1000 200" font-family="Liberation Sans, sans-serif">
<defs>
<filter id="jn" x="0" y="0" width="100%" height="100%"><feTurbulence type="fractalNoise" baseFrequency="0.6" numOctaves="2" seed="7" result="n"/>
<feColorMatrix in="n" type="matrix" values="0 0 0 0 0.36  0 0 0 0 0.22  0 0 0 0 0.95  3 0 0 0 -1.15"/></filter>
<filter id="jn2" x="0" y="0" width="100%" height="100%"><feTurbulence type="fractalNoise" baseFrequency="0.5" numOctaves="2" seed="23" result="n"/>
<feColorMatrix in="n" type="matrix" values="0 0 0 0 0.45  0 0 0 0 0.92  0 0 0 0 0.9  0 3 0 0 -1.2"/></filter>
<radialGradient id="jr"><stop offset="0" stop-color="#8ef0a0" stop-opacity="0"/><stop offset="0.62" stop-color="#8ef0a0" stop-opacity="0"/><stop offset="0.8" stop-color="#9cf59a" stop-opacity="0.75"/><stop offset="1" stop-color="#6fe0c8" stop-opacity="0"/></radialGradient>
<radialGradient id="jh"><stop offset="0" stop-color="#6ee8d0" stop-opacity="0.95"/><stop offset="0.65" stop-color="#60d8e0" stop-opacity="0.7"/><stop offset="1" stop-color="#58c0e8" stop-opacity="0"/></radialGradient>
<radialGradient id="jc"><stop offset="0" stop-color="#ff0a00"/><stop offset="0.25" stop-color="#ff2a10"/><stop offset="0.6" stop-color="#ff7040" stop-opacity="0.8"/><stop offset="1" stop-color="#ffa860" stop-opacity="0"/></radialGradient>
<filter id="jb"><feGaussianBlur stdDeviation="2.2"/></filter><filter id="jb2"><feGaussianBlur stdDeviation="1.4"/></filter>
<clipPath id="jclip"><rect x="102.4" y="1255.3" width="112.3" height="112.1"/></clipPath>
</defs>
<rect x="130.20" y="1228.10" width="112.3" height="112.1" fill="#7a00ff" stroke="#000" stroke-width="0.9"/>
<rect x="127.42" y="1230.82" width="112.3" height="112.1" fill="#7a00ff" stroke="#000" stroke-width="0.9"/>
<rect x="124.64" y="1233.54" width="112.3" height="112.1" fill="#7a00ff" stroke="#000" stroke-width="0.9"/>
<rect x="121.86" y="1236.26" width="112.3" height="112.1" fill="#7a00ff" stroke="#000" stroke-width="0.9"/>
<rect x="119.08" y="1238.98" width="112.3" height="112.1" fill="#7a00ff" stroke="#000" stroke-width="0.9"/>
<rect x="116.30" y="1241.70" width="112.3" height="112.1" fill="#7a00ff" stroke="#000" stroke-width="0.9"/>
<rect x="113.52" y="1244.42" width="112.3" height="112.1" fill="#48a6e6" stroke="#000" stroke-width="0.9"/>
<rect x="110.74" y="1247.14" width="112.3" height="112.1" fill="#48a6e6" stroke="#000" stroke-width="0.9"/>
<rect x="107.96" y="1249.86" width="112.3" height="112.1" fill="#48a6e6" stroke="#000" stroke-width="0.9"/>
<rect x="105.18" y="1252.58" width="112.3" height="112.1" fill="#48a6e6" stroke="#000" stroke-width="0.9"/>
<rect x="102.4" y="1255.3" width="112.3" height="112.1" fill="#4a8ee8"/>
<g clip-path="url(#jclip)">
<ellipse cx="160" cy="1311" rx="66" ry="60" fill="url(#jh)"/>
<rect x="102.4" y="1255.3" width="112.3" height="112.1" filter="url(#jn)" opacity="0.8"/>
<rect x="102.4" y="1255.3" width="112.3" height="112.1" filter="url(#jn2)" opacity="0.55"/>
<g filter="url(#jb)">
<ellipse cx="160" cy="1310" rx="41" ry="31" fill="#9cefa8" opacity="0.72" transform="rotate(22 160 1310)"/>
<ellipse cx="160" cy="1310" rx="38" ry="28" fill="none" stroke="#d2f27c" stroke-width="4.5" opacity="0.75" transform="rotate(22 160 1310)"/>
<ellipse cx="160" cy="1310" rx="27" ry="20" fill="#86e8c0" opacity="0.5" transform="rotate(30 160 1310)"/>
</g>
<g filter="url(#jb2)"><ellipse cx="159.5" cy="1310" rx="21" ry="12.5" fill="#ffb46a" transform="rotate(44 159.5 1310)"/></g>
<ellipse cx="159" cy="1311.5" rx="12" ry="7" fill="url(#jc)" transform="rotate(44 159 1311.5)"/>
<circle cx="111.5" cy="1263" r="2" fill="#b8f090"/><circle cx="165" cy="1338" r="1.3" fill="#ffa060"/><circle cx="202" cy="1343" r="1.3" fill="#ffc060"/><circle cx="108.5" cy="1345" r="1.1" fill="#ffd070"/><circle cx="146.5" cy="1287" r="1.1" fill="#ff8050"/>
</g>
<rect x="102.4" y="1255.3" width="112.3" height="112.1" filter="url(#jn2)" opacity="0.22"/>
<rect x="102.4" y="1255.3" width="112.3" height="112.1" fill="none" stroke="#000" stroke-width="1"/>
<rect x="307.3" y="1221" width="136.6" height="154.4" rx="19.5" fill="#eff1f0" stroke="#8c8c8c" stroke-width="0.9"/>
<rect x="503.5" y="1221" width="135.3" height="154.4" rx="19.5" fill="#eff1f0" stroke="#8c8c8c" stroke-width="0.9"/>
<rect x="698.4" y="1221" width="136.6" height="154.4" rx="19.5" fill="#eff1f0" stroke="#8c8c8c" stroke-width="0.9"/>
<rect x="896.2" y="1221" width="136.6" height="154.4" rx="19.5" fill="#eff1f0" stroke="#8c8c8c" stroke-width="0.9"/>
<rect x="257" y="1228" width="41.2" height="140.9" rx="6.5" fill="#c7c3f8"/>
<rect x="452.7" y="1228" width="40.8" height="140.9" rx="6.5" fill="#c7c3f8"/>
<rect x="648.1" y="1228" width="41.9" height="140.9" rx="6.5" fill="#c7c3f8"/>
<rect x="844.1" y="1228" width="41.0" height="140.9" rx="6.5" fill="#c7c3f8"/>
<rect x="317" y="1228" width="41.2" height="140.9" rx="6.5" fill="#e8c2ea"/>
<rect x="512.8" y="1228" width="40.7" height="140.9" rx="6.5" fill="#e8c2ea"/>
<rect x="708.2" y="1228" width="41.8" height="140.9" rx="6.5" fill="#e8c2ea"/>
<rect x="906.1" y="1228" width="41.7" height="140.9" rx="6.5" fill="#e8c2ea"/>
<rect x="367.1" y="1228" width="47.7" height="140.9" rx="6.5" fill="#a8beeb"/>
<rect x="562.8" y="1228" width="48.2" height="140.9" rx="6.5" fill="#a8beeb"/>
<rect x="758" y="1228" width="49.0" height="140.9" rx="6.5" fill="#f2638d"/>
<rect x="956" y="1228" width="49.0" height="140.9" rx="6.5" fill="#f2638d"/>
<path d="M233.0 1298.4H251.5" stroke="#000" stroke-width="1.1" fill="none"/><path d="M257.5 1298.4l-7.4 -4.1v8.2z" fill="#000"/>
<path d="M297.2 1298.4H311.5" stroke="#000" stroke-width="1.1" fill="none"/><path d="M317.5 1298.4l-7.4 -4.1v8.2z" fill="#000"/>
<path d="M356.2 1298.4H361.6" stroke="#000" stroke-width="1.1" fill="none"/><path d="M367.6 1298.4l-7.4 -4.1v8.2z" fill="#000"/>
<path d="M413.8 1298.4H447.2" stroke="#000" stroke-width="1.1" fill="none"/><path d="M453.2 1298.4l-7.4 -4.1v8.2z" fill="#000"/>
<path d="M492.5 1298.4H507.3" stroke="#000" stroke-width="1.1" fill="none"/><path d="M513.3 1298.4l-7.4 -4.1v8.2z" fill="#000"/>
<path d="M551.5 1298.4H557.3" stroke="#000" stroke-width="1.1" fill="none"/><path d="M563.3 1298.4l-7.4 -4.1v8.2z" fill="#000"/>
<path d="M610.0 1298.4H642.6" stroke="#000" stroke-width="1.1" fill="none"/><path d="M648.6 1298.4l-7.4 -4.1v8.2z" fill="#000"/>
<path d="M689.0 1298.4H702.7" stroke="#000" stroke-width="1.1" fill="none"/><path d="M708.7 1298.4l-7.4 -4.1v8.2z" fill="#000"/>
<path d="M748.0 1298.4H752.5" stroke="#000" stroke-width="1.1" fill="none"/><path d="M758.5 1298.4l-7.4 -4.1v8.2z" fill="#000"/>
<path d="M806.0 1298.4H838.6" stroke="#000" stroke-width="1.1" fill="none"/><path d="M844.6 1298.4l-7.4 -4.1v8.2z" fill="#000"/>
<path d="M884.1 1298.4H900.6" stroke="#000" stroke-width="1.1" fill="none"/><path d="M906.6 1298.4l-7.4 -4.1v8.2z" fill="#000"/>
<path d="M945.8 1298.4H950.5" stroke="#000" stroke-width="1.1" fill="none"/><path d="M956.5 1298.4l-7.4 -4.1v8.2z" fill="#000"/>
<path d="M1004.0 1298.4H1049.5" stroke="#000" stroke-width="1.1" fill="none"/><path d="M1055.5 1298.4l-7.4 -4.1v8.2z" fill="#000"/>
<text transform="translate(271.7,1297.8) rotate(-90)" font-size="18.7" text-anchor="middle">Patch</text>
<text transform="translate(294.9,1297.8) rotate(-90)" font-size="18.7" text-anchor="middle">Embedding</text>
<text transform="translate(467.4,1297.8) rotate(-90)" font-size="18.7" text-anchor="middle">Patch</text>
<text transform="translate(490.6,1297.8) rotate(-90)" font-size="18.7" text-anchor="middle">Embedding</text>
<text transform="translate(662.8,1297.8) rotate(-90)" font-size="18.7" text-anchor="middle">Patch</text>
<text transform="translate(686.0,1297.8) rotate(-90)" font-size="18.7" text-anchor="middle">Embedding</text>
<text transform="translate(858.8,1297.8) rotate(-90)" font-size="18.7" text-anchor="middle">Patch</text>
<text transform="translate(882.0,1297.8) rotate(-90)" font-size="18.7" text-anchor="middle">Embedding</text>
<text transform="translate(344.1,1297.8) rotate(-90)" font-size="18.7" text-anchor="middle">Local Attention</text>
<text transform="translate(539.9,1297.8) rotate(-90)" font-size="18.7" text-anchor="middle">Local Attention</text>
<text transform="translate(735.3,1297.8) rotate(-90)" font-size="18.7" text-anchor="middle">Local Attention</text>
<text transform="translate(933.2,1297.8) rotate(-90)" font-size="18.7" text-anchor="middle">Local Attention</text>
<text transform="translate(386.0,1297.8) rotate(-90)" font-size="18.7" text-anchor="middle">Shift-Window</text>
<text transform="translate(408.7,1297.8) rotate(-90)" font-size="18.7" text-anchor="middle">Attention</text>
<text transform="translate(581.7,1297.8) rotate(-90)" font-size="18.7" text-anchor="middle">Shift-Window</text>
<text transform="translate(604.4,1297.8) rotate(-90)" font-size="18.7" text-anchor="middle">Attention</text>
<text transform="translate(776.9,1297.8) rotate(-90)" font-size="18.7" text-anchor="middle">Deformable</text>
<text transform="translate(799.6,1297.8) rotate(-90)" font-size="18.7" text-anchor="middle">Attention</text>
<text transform="translate(974.9,1297.8) rotate(-90)" font-size="18.7" text-anchor="middle">Deformable</text>
<text transform="translate(997.6,1297.8) rotate(-90)" font-size="18.7" text-anchor="middle">Attention</text>
<text x="150" y="1216.7" font-size="13.5" font-style="italic" font-family="Liberation Serif, serif" textLength="64.7" lengthAdjust="spacing">H <tspan font-style="normal">×</tspan> W <tspan font-style="normal">×11</tspan></text>
<text x="331.3" y="1217.8" font-size="13.5" font-style="italic" font-family="Liberation Serif, serif" textLength="89.4" lengthAdjust="spacing">H<tspan font-style="normal">/4 ×</tspan> W<tspan font-style="normal">/4 ×</tspan> C</text>
<text x="518.5" y="1216.7" font-size="13.5" font-style="italic" font-family="Liberation Serif, serif" textLength="96.9" lengthAdjust="spacing">H<tspan font-style="normal">/8 ×</tspan> W<tspan font-style="normal">/8 × 2</tspan>C</text>
<text x="708.2" y="1216.7" font-size="13.5" font-style="italic" font-family="Liberation Serif, serif" textLength="111.2" lengthAdjust="spacing">H<tspan font-style="normal">/16 ×</tspan> W<tspan font-style="normal">/16 × 4</tspan>C</text>
<text x="907.7" y="1216.7" font-size="13.5" font-style="italic" font-family="Liberation Serif, serif" textLength="110.5" lengthAdjust="spacing">H<tspan font-style="normal">/32 ×</tspan> W<tspan font-style="normal">/32 × 8</tspan>C</text>
<text x="417.4" y="1349" font-size="11.5" font-family="Liberation Serif, serif" textLength="22.8" lengthAdjust="spacing">× <tspan font-style="italic">N</tspan><tspan font-size="7.5" dy="2.5">1</tspan></text>
<text x="612.8" y="1349" font-size="11.5" font-family="Liberation Serif, serif" textLength="22.8" lengthAdjust="spacing">× <tspan font-style="italic">N</tspan><tspan font-size="7.5" dy="2.5">2</tspan></text>
<text x="809" y="1349" font-size="11.5" font-family="Liberation Serif, serif" textLength="22.8" lengthAdjust="spacing">× <tspan font-style="italic">N</tspan><tspan font-size="7.5" dy="2.5">3</tspan></text>
<text x="1006.8" y="1349" font-size="11.5" font-family="Liberation Serif, serif" textLength="22.8" lengthAdjust="spacing">× <tspan font-style="italic">N</tspan><tspan font-size="7.5" dy="2.5">4</tspan></text>
</svg>
<svg style="left:2330px;top:455px" width="540" height="510" viewBox="2330 455 540 510" font-family="DejaVu Sans, sans-serif">
<rect x="2388.40" y="464.00" width="76.73" height="74.75" fill="#081d58"/>
<rect x="2464.73" y="464.00" width="76.73" height="74.75" fill="#ffffd9"/>
<rect x="2541.07" y="464.00" width="76.73" height="74.75" fill="#d7efb3"/>
<rect x="2617.40" y="464.00" width="76.73" height="74.75" fill="#fcfed3"/>
<rect x="2693.73" y="464.00" width="76.73" height="74.75" fill="#ffffd9"/>
<rect x="2770.07" y="464.00" width="76.73" height="74.75" fill="#ffffd9"/>
<rect x="2388.40" y="538.35" width="76.73" height="74.75" fill="#ffffd9"/>
<rect x="2464.73" y="538.35" width="76.73" height="74.75" fill="#33a7c2"/>
<rect x="2541.07" y="538.35" width="76.73" height="74.75" fill="#ffffd9"/>
<rect x="2617.40" y="538.35" width="76.73" height="74.75" fill="#fcfed3"/>
<rect x="2693.73" y="538.35" width="76.73" height="74.75" fill="#f0f9b8"/>
<rect x="2770.07" y="538.35" width="76.73" height="74.75" fill="#33a7c2"/>
<rect x="2388.40" y="612.70" width="76.73" height="74.75" fill="#75c9bd"/>
<rect x="2464.73" y="612.70" width="76.73" height="74.75" fill="#ffffd9"/>
<rect x="2541.07" y="612.70" width="76.73" height="74.75" fill="#3fb4c4"/>
<rect x="2617.40" y="612.70" width="76.73" height="74.75" fill="#a0dab8"/>
<rect x="2693.73" y="612.70" width="76.73" height="74.75" fill="#ffffd9"/>
<rect x="2770.07" y="612.70" width="76.73" height="74.75" fill="#ffffd9"/>
<rect x="2388.40" y="687.05" width="76.73" height="74.75" fill="#fcfed3"/>
<rect x="2464.73" y="687.05" width="76.73" height="74.75" fill="#ffffd9"/>
<rect x="2541.07" y="687.05" width="76.73" height="74.75" fill="#f5fbc2"/>
<rect x="2617.40" y="687.05" width="76.73" height="74.75" fill="#081d58"/>
<rect x="2693.73" y="687.05" width="76.73" height="74.75" fill="#ecf7b1"/>
<rect x="2770.07" y="687.05" width="76.73" height="74.75" fill="#feffd8"/>
<rect x="2388.40" y="761.40" width="76.73" height="74.75" fill="#ffffd9"/>
<rect x="2464.73" y="761.40" width="76.73" height="74.75" fill="#ffffd9"/>
<rect x="2541.07" y="761.40" width="76.73" height="74.75" fill="#ffffd9"/>
<rect x="2617.40" y="761.40" width="76.73" height="74.75" fill="#7cccbb"/>
<rect x="2693.73" y="761.40" width="76.73" height="74.75" fill="#216aad"/>
<rect x="2770.07" y="761.40" width="76.73" height="74.75" fill="#edf8b2"/>
<rect x="2388.40" y="835.75" width="76.73" height="74.75" fill="#ffffd9"/>
<rect x="2464.73" y="835.75" width="76.73" height="74.75" fill="#fbfdd0"/>
<rect x="2541.07" y="835.75" width="76.73" height="74.75" fill="#ffffd9"/>
<rect x="2617.40" y="835.75" width="76.73" height="74.75" fill="#f7fcc6"/>
<rect x="2693.73" y="835.75" width="76.73" height="74.75" fill="#75c9bd"/>
<rect x="2770.07" y="835.75" width="76.73" height="74.75" fill="#2163aa"/>
<text x="2426.6" y="506.1" font-size="16.9" text-anchor="middle" fill="#fff">81.7%</text>
<text x="2502.9" y="506.1" font-size="16.9" text-anchor="middle" fill="#262626">0.0%</text>
<text x="2579.2" y="506.1" font-size="16.9" text-anchor="middle" fill="#262626">16.2%</text>
<text x="2655.6" y="506.1" font-size="16.9" text-anchor="middle" fill="#262626">1.9%</text>
<text x="2731.9" y="506.1" font-size="16.9" text-anchor="middle" fill="#262626">0.0%</text>
<text x="2808.2" y="506.1" font-size="16.9" text-anchor="middle" fill="#262626">0.2%</text>
<text x="2426.6" y="580.4" font-size="16.9" text-anchor="middle" fill="#262626">0.0%</text>
<text x="2502.9" y="580.4" font-size="16.9" text-anchor="middle" fill="#fff">44.8%</text>
<text x="2579.2" y="580.4" font-size="16.9" text-anchor="middle" fill="#262626">0.0%</text>
<text x="2655.6" y="580.4" font-size="16.9" text-anchor="middle" fill="#262626">1.7%</text>
<text x="2731.9" y="580.4" font-size="16.9" text-anchor="middle" fill="#262626">8.6%</text>
<text x="2808.2" y="580.4" font-size="16.9" text-anchor="middle" fill="#fff">44.8%</text>
<text x="2426.6" y="654.8" font-size="16.9" text-anchor="middle" fill="#262626">32.4%</text>
<text x="2502.9" y="654.8" font-size="16.9" text-anchor="middle" fill="#262626">0.0%</text>
<text x="2579.2" y="654.8" font-size="16.9" text-anchor="middle" fill="#fff">41.4%</text>
<text x="2655.6" y="654.8" font-size="16.9" text-anchor="middle" fill="#262626">25.9%</text>
<text x="2731.9" y="654.8" font-size="16.9" text-anchor="middle" fill="#262626">0.2%</text>
<text x="2808.2" y="654.8" font-size="16.9" text-anchor="middle" fill="#262626">0.2%</text>
<text x="2426.6" y="729.1" font-size="16.9" text-anchor="middle" fill="#262626">1.6%</text>
<text x="2502.9" y="729.1" font-size="16.9" text-anchor="middle" fill="#262626">0.0%</text>
<text x="2579.2" y="729.1" font-size="16.9" text-anchor="middle" fill="#262626">5.8%</text>
<text x="2655.6" y="729.1" font-size="16.9" text-anchor="middle" fill="#fff">81.4%</text>
<text x="2731.9" y="729.1" font-size="16.9" text-anchor="middle" fill="#262626">10.6%</text>
<text x="2808.2" y="729.1" font-size="16.9" text-anchor="middle" fill="#262626">0.6%</text>
<text x="2426.6" y="803.5" font-size="16.9" text-anchor="middle" fill="#262626">0.0%</text>
<text x="2502.9" y="803.5" font-size="16.9" text-anchor="middle" fill="#262626">0.0%</text>
<text x="2579.2" y="803.5" font-size="16.9" text-anchor="middle" fill="#262626">0.0%</text>
<text x="2655.6" y="803.5" font-size="16.9" text-anchor="middle" fill="#262626">31.0%</text>
<text x="2731.9" y="803.5" font-size="16.9" text-anchor="middle" fill="#fff">58.8%</text>
<text x="2808.2" y="803.5" font-size="16.9" text-anchor="middle" fill="#262626">10.2%</text>
<text x="2426.6" y="877.8" font-size="16.9" text-anchor="middle" fill="#262626">0.0%</text>
<text x="2502.9" y="877.8" font-size="16.9" text-anchor="middle" fill="#262626">2.3%</text>
<text x="2579.2" y="877.8" font-size="16.9" text-anchor="middle" fill="#262626">0.0%</text>
<text x="2655.6" y="877.8" font-size="16.9" text-anchor="middle" fill="#262626">5.1%</text>
<text x="2731.9" y="877.8" font-size="16.9" text-anchor="middle" fill="#262626">32.3%</text>
<text x="2808.2" y="877.8" font-size="16.9" text-anchor="middle" fill="#fff">60.3%</text>
<text x="2426.6" y="928.3" font-size="15" text-anchor="middle" fill="#262626">E</text>
<text transform="translate(2379.2,501.2) rotate(-90)" font-size="15" text-anchor="middle" fill="#262626">E</text>
<text x="2502.9" y="928.3" font-size="15" text-anchor="middle" fill="#262626">Im</text>
<text transform="translate(2379.2,575.5) rotate(-90)" font-size="15" text-anchor="middle" fill="#262626">Im</text>
<text x="2579.2" y="928.3" font-size="15" text-anchor="middle" fill="#262626">S0</text>
<text transform="translate(2379.2,649.9) rotate(-90)" font-size="15" text-anchor="middle" fill="#262626">S0</text>
<text x="2655.6" y="928.3" font-size="15" text-anchor="middle" fill="#262626">Sab</text>
<text transform="translate(2379.2,724.2) rotate(-90)" font-size="15" text-anchor="middle" fill="#262626">Sab</text>
<text x="2731.9" y="928.3" font-size="15" text-anchor="middle" fill="#262626">Sc</text>
<text transform="translate(2379.2,798.6) rotate(-90)" font-size="15" text-anchor="middle" fill="#262626">Sc</text>
<text x="2808.2" y="928.3" font-size="15" text-anchor="middle" fill="#262626">Sdm</text>
<text transform="translate(2379.2,872.9) rotate(-90)" font-size="15" text-anchor="middle" fill="#262626">Sdm</text>
<text x="2617.8" y="947.5" font-size="16.6" text-anchor="middle" fill="#262626">Predicted Output</text>
<text transform="translate(2360.3,687) rotate(-90)" font-size="16.6" text-anchor="middle" fill="#262626">Ground Truth</text>
</svg>
<svg style="left:2860px;top:455px" width="540" height="500" viewBox="2860 455 540 500" font-family="DejaVu Sans, sans-serif">
<rect x="2911.0" y="470.0" width="448.5999999999999" height="437.70000000000005" fill="#fff"/>
<path d="M2930.8 470.0V907.7M2989.1 470.0V907.7M3047.5 470.0V907.7M3105.8 470.0V907.7M3164.2 470.0V907.7M3222.5 470.0V907.7M3280.9 470.0V907.7M3339.2 470.0V907.7M2911.0 903.9H3359.6M2911.0 852.2H3359.6M2911.0 800.5H3359.6M2911.0 748.7H3359.6M2911.0 697.0H3359.6M2911.0 645.3H3359.6M2911.0 593.6H3359.6M2911.0 541.8H3359.6M2911.0 490.1H3359.6" stroke="#b8b8b8" stroke-width="1.3" stroke-dasharray="1.3 3.2" fill="none"/>
<polyline points="2930.8,888.6 2989.1,651.1 3047.5,548.1 3105.8,513.7 3164.2,526.4 3222.5,509.9 3280.9,521.3 3339.2,570.1" fill="none" stroke="#d2405f" stroke-width="3" stroke-linejoin="round"/>
<polyline points="2930.8,490.1 2989.1,550.7 3047.5,517.5 3105.8,526.4 3164.2,501.3 3222.5,490.1 3280.9,514.9 3339.2,531.6" fill="none" stroke="#4464d6" stroke-width="3" stroke-linejoin="round"/>
<polyline points="2930.8,562.8 2989.1,537.0 3047.5,554.9 3105.8,569.1 3164.2,536.0 3222.5,544.0 3280.9,546.2 3339.2,527.4" fill="none" stroke="#66cc44" stroke-width="3" stroke-linejoin="round"/>
<rect x="2911.0" y="470.0" width="448.5999999999999" height="437.70000000000005" fill="none" stroke="#6e6e6e" stroke-width="1.2"/>
<path d="M2930.8 907.7v4M2989.1 907.7v4M3047.5 907.7v4M3105.8 907.7v4M3164.2 907.7v4M3222.5 907.7v4M3280.9 907.7v4M3339.2 907.7v4M2911.0 903.9h-4M2911.0 852.2h-4M2911.0 800.5h-4M2911.0 748.7h-4M2911.0 697.0h-4M2911.0 645.3h-4M2911.0 593.6h-4M2911.0 541.8h-4M2911.0 490.1h-4" stroke="#333" stroke-width="1" fill="none"/>
<text x="2905.6" y="909.9" font-size="16.4" text-anchor="end" fill="#111">60</text>
<text x="2905.6" y="858.2" font-size="16.4" text-anchor="end" fill="#111">65</text>
<text x="2905.6" y="806.5" font-size="16.4" text-anchor="end" fill="#111">70</text>
<text x="2905.6" y="754.7" font-size="16.4" text-anchor="end" fill="#111">75</text>
<text x="2905.6" y="703.0" font-size="16.4" text-anchor="end" fill="#111">80</text>
<text x="2905.6" y="651.3" font-size="16.4" text-anchor="end" fill="#111">85</text>
<text x="2905.6" y="599.6" font-size="16.4" text-anchor="end" fill="#111">90</text>
<text x="2905.6" y="547.8" font-size="16.4" text-anchor="end" fill="#111">95</text>
<text x="2905.6" y="496.1" font-size="16.4" text-anchor="end" fill="#111">100</text>
<text x="2930.8" y="923.7" font-size="8.8" font-weight="bold" font-family="Liberation Serif, serif" text-anchor="middle" fill="#222" textLength="44" lengthAdjust="spacingAndGlyphs">(50<tspan font-size="5.5" dy="-3">2</tspan><tspan dy="3">, 75</tspan><tspan font-size="5.5" dy="-3">2</tspan><tspan dy="3">]</tspan></text>
<text x="2989.1" y="923.7" font-size="8.8" font-weight="bold" font-family="Liberation Serif, serif" text-anchor="middle" fill="#222" textLength="52" lengthAdjust="spacingAndGlyphs">(75<tspan font-size="5.5" dy="-3">2</tspan><tspan dy="3">, 100</tspan><tspan font-size="5.5" dy="-3">2</tspan><tspan dy="3">]</tspan></text>
<text x="3047.5" y="923.7" font-size="8.8" font-weight="bold" font-family="Liberation Serif, serif" text-anchor="middle" fill="#222" textLength="52" lengthAdjust="spacingAndGlyphs">(100<tspan font-size="5.5" dy="-3">2</tspan><tspan dy="3">, 125</tspan><tspan font-size="5.5" dy="-3">2</tspan><tspan dy="3">]</tspan></text>
<text x="3105.8" y="923.7" font-size="8.8" font-weight="bold" font-family="Liberation Serif, serif" text-anchor="middle" fill="#222" textLength="52" lengthAdjust="spacingAndGlyphs">(125<tspan font-size="5.5" dy="-3">2</tspan><tspan dy="3">, 150</tspan><tspan font-size="5.5" dy="-3">2</tspan><tspan dy="3">]</tspan></text>
<text x="3164.2" y="923.7" font-size="8.8" font-weight="bold" font-family="Liberation Serif, serif" text-anchor="middle" fill="#222" textLength="52" lengthAdjust="spacingAndGlyphs">(150<tspan font-size="5.5" dy="-3">2</tspan><tspan dy="3">, 190</tspan><tspan font-size="5.5" dy="-3">2</tspan><tspan dy="3">]</tspan></text>
<text x="3222.5" y="923.7" font-size="8.8" font-weight="bold" font-family="Liberation Serif, serif" text-anchor="middle" fill="#222" textLength="52" lengthAdjust="spacingAndGlyphs">(190<tspan font-size="5.5" dy="-3">2</tspan><tspan dy="3">, 230</tspan><tspan font-size="5.5" dy="-3">2</tspan><tspan dy="3">]</tspan></text>
<text x="3280.9" y="923.7" font-size="8.8" font-weight="bold" font-family="Liberation Serif, serif" text-anchor="middle" fill="#222" textLength="52" lengthAdjust="spacingAndGlyphs">(230<tspan font-size="5.5" dy="-3">2</tspan><tspan dy="3">, 300</tspan><tspan font-size="5.5" dy="-3">2</tspan><tspan dy="3">]</tspan></text>
<text x="3339.2" y="923.7" font-size="8.8" font-weight="bold" font-family="Liberation Serif, serif" text-anchor="middle" fill="#222" textLength="52" lengthAdjust="spacingAndGlyphs">(300<tspan font-size="5.5" dy="-3">2</tspan><tspan dy="3">, 480</tspan><tspan font-size="5.5" dy="-3">2</tspan><tspan dy="3">]</tspan></text>
<text x="3127.8" y="942.2" font-size="16.5" font-family="Liberation Sans, sans-serif" text-anchor="middle" fill="#111">Galaxy Mask Size</text>
<text transform="translate(2879.5,697.3) rotate(-90)" font-size="15" text-anchor="middle" fill="#111">Accuracy</text>
<rect x="3181.4" y="823.6" width="169.9" height="75.5" rx="4" fill="#fff" fill-opacity="0.85" stroke="#d0d0d0" stroke-width="1.2"/>
<path d="M3187.4 836.6H3221.9" stroke="#d2405f" stroke-width="3"/>
<text x="3233.7" y="843" font-size="16.2" fill="#111">E: Acc Top2</text>
<path d="M3187.4 860.6H3221.9" stroke="#4464d6" stroke-width="3"/>
<text x="3233.7" y="866.9" font-size="16.2" fill="#111">Sc: Acc Top2</text>
<path d="M3187.4 884.5H3221.9" stroke="#66cc44" stroke-width="3"/>
<text x="3233.7" y="890.8" font-size="16.2" fill="#111">Sab: Acc Top2</text>
</svg>
<svg width="0" height="0" style="left:0;top:0"><defs><filter id="spkS" x="-15%" y="-15%" width="130%" height="130%" color-interpolation-filters="sRGB"><feGaussianBlur in="SourceAlpha" stdDeviation="3" result="a"/><feTurbulence type="fractalNoise" baseFrequency="0.85" numOctaves="1" seed="3" result="n"/><feColorMatrix in="n" type="matrix" values="0 0 0 0 1  0 0 0 0 1  0 0 0 0 1  1.4 0 0 0 -0.200" result="na"/><feComposite in="a" in2="na" operator="arithmetic" k1="0" k2="1" k3="1" k4="-1" result="s"/><feComponentTransfer in="s" result="t"><feFuncA type="linear" slope="40" intercept="0"/></feComponentTransfer><feFlood flood-color="#fff" result="w"/><feComposite in="w" in2="t" operator="in" result="o"/><feGaussianBlur in="o" stdDeviation="0.45"/></filter><filter id="spkM" x="-15%" y="-15%" width="130%" height="130%" color-interpolation-filters="sRGB"><feGaussianBlur in="SourceAlpha" stdDeviation="6.5" result="a"/><feTurbulence type="fractalNoise" baseFrequency="0.85" numOctaves="1" seed="5" result="n"/><feColorMatrix in="n" type="matrix" values="0 0 0 0 1  0 0 0 0 1  0 0 0 0 1  1.4 0 0 0 -0.200" result="na"/><feComposite in="a" in2="na" operator="arithmetic" k1="0" k2="1" k3="1" k4="-1" result="s"/><feComponentTransfer in="s" result="t"><feFuncA type="linear" slope="40" intercept="0"/></feComponentTransfer><feFlood flood-color="#fff" result="w"/><feComposite in="w" in2="t" operator="in" result="o"/><feGaussianBlur in="o" stdDeviation="0.45"/></filter><filter id="spkL" x="-15%" y="-15%" width="130%" height="130%" color-interpolation-filters="sRGB"><feGaussianBlur in="SourceAlpha" stdDeviation="12" result="a"/><feTurbulence type="fractalNoise" baseFrequency="0.85" numOctaves="1" seed="7" result="n"/><feColorMatrix in="n" type="matrix" values="0 0 0 0 1  0 0 0 0 1  0 0 0 0 1  1.4 0 0 0 -0.200" result="na"/><feComposite in="a" in2="na" operator="arithmetic" k1="0" k2="1" k3="1" k4="-1" result="s"/><feComponentTransfer in="s" result="t"><feFuncA type="linear" slope="40" intercept="0"/></feComponentTransfer><feFlood flood-color="#fff" result="w"/><feComposite in="w" in2="t" operator="in" result="o"/><feGaussianBlur in="o" stdDeviation="0.45"/></filter><filter id="spkX" x="-15%" y="-15%" width="130%" height="130%" color-interpolation-filters="sRGB"><feGaussianBlur in="SourceAlpha" stdDeviation="19" result="a"/><feTurbulence type="fractalNoise" baseFrequency="0.85" numOctaves="1" seed="11" result="n"/><feColorMatrix in="n" type="matrix" values="0 0 0 0 1  0 0 0 0 1  0 0 0 0 1  1.4 0 0 0 -0.200" result="na"/><feComposite in="a" in2="na" operator="arithmetic" k1="0" k2="1" k3="1" k4="-1" result="s"/><feComponentTransfer in="s" result="t"><feFuncA type="linear" slope="40" intercept="0"/></feComponentTransfer><feFlood flood-color="#fff" result="w"/><feComposite in="w" in2="t" operator="in" result="o"/><feGaussianBlur in="o" stdDeviation="0.45"/></filter><radialGradient id="hot"><stop offset="0" stop-color="#fdf6a0"/><stop offset="0.18" stop-color="#fcb116"/><stop offset="0.38" stop-color="#f2711f"/><stop offset="0.56" stop-color="#c23a5c"/><stop offset="0.74" stop-color="#7a1f7a"/><stop offset="0.9" stop-color="#43126a" stop-opacity="0.85"/><stop offset="1" stop-color="#2a0f55" stop-opacity="0"/></radialGradient><radialGradient id="hot2"><stop offset="0" stop-color="#fca636"/><stop offset="0.3" stop-color="#e8593a"/><stop offset="0.55" stop-color="#a8327a"/><stop offset="0.8" stop-color="#5a1f7a" stop-opacity="0.8"/><stop offset="1" stop-color="#3a1a6a" stop-opacity="0"/></radialGradient><radialGradient id="pur"><stop offset="0" stop-color="#8a3fa0" stop-opacity="0.75"/><stop offset="0.6" stop-color="#7a3a9a" stop-opacity="0.4"/><stop offset="1" stop-color="#6a3a9a" stop-opacity="0"/></radialGradient><radialGradient id="gry"><stop offset="0" stop-color="#9a9a9a" stop-opacity="0.9"/><stop offset="0.35" stop-color="#b8b8b8" stop-opacity="0.6"/><stop offset="0.7" stop-color="#d8d8d8" stop-opacity="0.3"/><stop offset="1" stop-color="#eee" stop-opacity="0"/></radialGradient><radialGradient id="gry2"><stop offset="0" stop-color="#c4c4c4" stop-opacity="0.9"/><stop offset="0.5" stop-color="#d6d6d6" stop-opacity="0.55"/><stop offset="1" stop-color="#eee" stop-opacity="0"/></radialGradient><radialGradient id="blk"><stop offset="0" stop-color="#000"/><stop offset="0.25" stop-color="#333" stop-opacity="0.8"/><stop offset="0.6" stop-color="#999" stop-opacity="0.35"/><stop offset="1" stop-color="#ccc" stop-opacity="0"/></radialGradient></defs></svg>
<svg style="left:1193.2px;top:1487.3px" width="304.5" height="303.1" viewBox="1193.2 1487.3 304.5 303.1">
<defs><clipPath id="cp1193_1487"><rect x="1193.2" y="1487.3" width="304.5" height="303.1"/></clipPath></defs>
<rect x="1193.2" y="1487.3" width="304.5" height="303.1" fill="#555"/>
<g clip-path="url(#cp1193_1487)">
<path d="M1356.6 1567.6C1362.5 1566.2 1369.5 1572.3 1374.3 1575.1C1379.1 1578.0 1382.8 1579.5 1385.4 1584.6C1387.9 1589.6 1389.2 1597.0 1389.6 1605.4C1390.0 1613.8 1388.8 1625.9 1387.9 1635.1C1387.0 1644.2 1386.3 1653.0 1384.2 1660.3C1382.1 1667.5 1378.3 1673.0 1375.4 1678.5C1372.5 1684.1 1371.1 1688.8 1366.5 1693.6C1362.0 1698.3 1353.3 1703.0 1348.2 1707.0C1343.1 1711.0 1339.5 1718.0 1336.1 1717.7C1332.7 1717.4 1331.3 1709.8 1327.8 1705.2C1324.3 1700.6 1318.3 1696.1 1315.0 1690.1C1311.7 1684.2 1309.1 1676.1 1308.0 1669.6C1306.9 1663.2 1307.4 1658.9 1308.4 1651.3C1309.4 1643.7 1311.5 1632.4 1313.9 1624.2C1316.3 1616.0 1318.4 1608.9 1322.6 1602.0C1326.8 1595.1 1333.3 1588.8 1338.9 1583.0C1344.6 1577.3 1350.7 1568.9 1356.6 1567.6Z" fill="#fff" filter="url(#spkM)"/>
<ellipse cx="1351.0" cy="1642.1" rx="29.09" ry="56.23" fill="url(#gry2)" transform="rotate(8 1351.0 1642.1)"/>
<ellipse cx="1351.0" cy="1641.2" rx="13.57" ry="23.27" fill="url(#gry)"/>
<path d="M1370.4 1580.1C1372.9 1579.6 1378.0 1580.1 1380.1 1581.0C1382.2 1582.0 1383.0 1584.1 1383.0 1585.9C1383.0 1587.7 1381.7 1590.9 1380.1 1591.7C1378.5 1592.5 1375.0 1590.4 1373.3 1590.7C1371.7 1591.1 1370.3 1591.2 1370.4 1593.7C1370.6 1596.1 1372.9 1601.4 1374.3 1605.3C1375.8 1609.2 1377.5 1613.4 1379.2 1616.9C1380.8 1620.5 1383.2 1622.7 1384.0 1626.6C1384.8 1630.5 1384.8 1636.6 1384.0 1640.2C1383.2 1643.7 1381.7 1645.4 1379.2 1647.9C1376.6 1650.5 1370.6 1652.8 1368.5 1655.7C1366.4 1658.6 1366.4 1661.5 1366.6 1665.4C1366.7 1669.3 1369.3 1674.9 1369.5 1679.0C1369.6 1683.0 1368.8 1687.4 1367.5 1689.6C1366.2 1691.9 1365.3 1692.0 1361.7 1692.5C1358.1 1693.1 1350.7 1693.0 1346.2 1692.9C1341.7 1692.9 1337.1 1692.9 1334.6 1692.2C1332.0 1691.4 1332.0 1690.5 1331.1 1688.7C1330.1 1686.8 1330.0 1683.5 1328.7 1680.9C1327.4 1678.3 1324.8 1676.7 1323.3 1673.2C1321.9 1669.6 1320.2 1663.8 1320.0 1659.6C1319.8 1655.4 1321.1 1652.1 1322.0 1647.9C1322.8 1643.7 1323.7 1637.9 1324.9 1634.4C1326.0 1630.8 1327.0 1628.9 1328.7 1626.6C1330.5 1624.4 1334.2 1623.7 1335.5 1620.8C1336.8 1617.9 1335.7 1612.7 1336.5 1609.2C1337.3 1605.6 1338.4 1602.4 1340.4 1599.5C1342.3 1596.6 1345.2 1593.7 1348.1 1591.7C1351.0 1589.8 1354.9 1589.1 1357.8 1587.8C1360.7 1586.5 1363.5 1585.2 1365.6 1584.0C1367.7 1582.7 1368.0 1580.6 1370.4 1580.1Z" fill="none" stroke="#271f4a" stroke-width="1.45" stroke-linejoin="round"/>
<path d="M1358.2 1596.6C1359.9 1596.3 1362.3 1596.1 1364.0 1597.9C1365.7 1599.7 1367.3 1604.1 1368.5 1607.2C1369.7 1610.4 1371.6 1614.5 1371.4 1616.9C1371.2 1619.3 1369.4 1620.8 1367.5 1621.8C1365.6 1622.7 1362.7 1622.9 1360.2 1622.7C1357.6 1622.6 1354.3 1621.9 1352.0 1620.8C1349.7 1619.7 1347.5 1617.3 1346.2 1616.0C1344.8 1614.6 1343.5 1614.4 1343.9 1612.7C1344.2 1610.9 1346.4 1607.5 1348.1 1605.3C1349.8 1603.1 1352.3 1600.9 1353.9 1599.5C1355.6 1598.0 1356.5 1596.8 1358.2 1596.6Z" fill="none" stroke="#43307a" stroke-width="1.25" stroke-linejoin="round"/>
<path d="M1359.8 1603.0C1362.0 1603.3 1365.9 1608.5 1367.5 1611.1C1369.1 1613.8 1370.8 1617.2 1369.5 1618.9C1368.2 1620.5 1362.8 1621.1 1359.8 1620.8C1356.7 1620.5 1352.0 1619.2 1351.0 1617.3C1350.1 1615.4 1352.5 1611.6 1353.9 1609.2C1355.4 1606.8 1357.5 1602.6 1359.8 1603.0Z" fill="none" stroke="#6a3a9a" stroke-width="1.0" stroke-linejoin="round"/>
<path d="M1359.9 1606.8C1361.3 1607.0 1363.7 1610.2 1364.7 1611.8C1365.7 1613.5 1366.7 1615.6 1365.9 1616.6C1365.1 1617.7 1361.8 1618.0 1359.9 1617.9C1358.0 1617.7 1355.1 1616.9 1354.5 1615.7C1353.9 1614.5 1355.4 1612.1 1356.3 1610.6C1357.2 1609.2 1358.5 1606.6 1359.9 1606.8Z" fill="none" stroke="#8b44a8" stroke-width="1.0" stroke-linejoin="round"/>
<path d="M1360.1 1610.5C1360.6 1610.6 1361.6 1611.9 1362.0 1612.6C1362.4 1613.2 1362.8 1614.1 1362.5 1614.5C1362.2 1614.9 1360.8 1615.0 1360.1 1615.0C1359.3 1614.9 1358.1 1614.6 1357.9 1614.1C1357.6 1613.6 1358.2 1612.7 1358.6 1612.1C1359.0 1611.5 1359.5 1610.4 1360.1 1610.5Z" fill="none" stroke="#8b44a8" stroke-width="1.0" stroke-linejoin="round"/>
<path d="M1343.3 1620.8C1344.1 1618.4 1343.8 1615.5 1346.2 1616.0C1348.6 1616.4 1355.2 1621.3 1357.8 1623.7C1360.5 1626.1 1360.5 1629.1 1362.1 1630.5C1363.7 1631.9 1367.3 1630.8 1367.5 1632.0C1367.8 1633.3 1364.9 1636.8 1363.6 1637.9C1362.4 1639.0 1360.7 1636.6 1360.2 1638.6C1359.6 1640.6 1360.7 1646.7 1360.2 1649.9C1359.6 1653.1 1358.5 1655.9 1356.9 1657.6C1355.2 1659.4 1352.2 1660.6 1350.1 1660.6C1348.0 1660.6 1345.7 1659.4 1344.3 1657.6C1342.8 1655.9 1341.8 1654.4 1341.3 1649.9C1340.9 1645.4 1341.0 1635.3 1341.3 1630.5C1341.7 1625.6 1342.5 1623.2 1343.3 1620.8Z" fill="none" stroke="#43307a" stroke-width="1.25" stroke-linejoin="round"/>
<ellipse cx="1350.6" cy="1641.2" rx="9.70" ry="17.06" fill="none" stroke="#6a3a9a" stroke-width="0.9"/>
<ellipse cx="1350.6" cy="1641.2" rx="8.73" ry="15.36" fill="none" stroke="#6a3a9a" stroke-width="0.9"/>
<ellipse cx="1350.6" cy="1641.2" rx="10.08" ry="17.84" fill="url(#hot)"/>
<path d="M1343.3 1651.8C1343.8 1653.0 1345.1 1657.2 1346.2 1658.6C1347.3 1660.0 1348.7 1660.2 1350.1 1660.2C1351.4 1660.2 1353.1 1660.0 1354.3 1658.6C1355.6 1657.2 1356.9 1653.0 1357.4 1651.8" fill="none" stroke="#6a3a9a" stroke-width="0.9" stroke-linejoin="round"/>
<path d="M1344.4 1651.8C1344.7 1652.7 1345.2 1655.9 1346.2 1657.0C1347.1 1658.1 1348.7 1658.3 1350.1 1658.3C1351.4 1658.3 1353.3 1658.1 1354.3 1657.0C1355.4 1655.9 1356.0 1652.7 1356.4 1651.8" fill="none" stroke="#8b44a8" stroke-width="0.9" stroke-linejoin="round"/>
<path d="M1345.3 1651.8C1345.4 1652.5 1345.4 1654.8 1346.2 1655.6C1347.0 1656.4 1348.7 1656.6 1350.1 1656.6C1351.4 1656.6 1353.4 1656.4 1354.3 1655.6C1355.2 1654.8 1355.2 1652.5 1355.4 1651.8" fill="none" stroke="#8b44a8" stroke-width="0.9" stroke-linejoin="round"/>
<path d="M1334.6 1676.1C1335.1 1673.8 1335.2 1672.3 1336.5 1671.2C1337.8 1670.1 1339.9 1669.5 1342.3 1669.7C1344.7 1669.8 1348.1 1672.1 1351.0 1672.2C1353.9 1672.3 1357.2 1669.9 1359.8 1670.2C1362.3 1670.6 1365.1 1672.0 1366.6 1674.1C1368.0 1676.2 1368.5 1680.1 1368.5 1682.9C1368.5 1685.6 1368.0 1689.0 1366.6 1690.6C1365.1 1692.2 1363.2 1692.2 1359.8 1692.5C1356.4 1692.9 1350.1 1693.1 1346.2 1692.9C1342.3 1692.8 1338.7 1692.9 1336.5 1691.6C1334.3 1690.2 1333.3 1687.4 1333.0 1684.8C1332.7 1682.2 1334.0 1678.3 1334.6 1676.1Z" fill="none" stroke="#43307a" stroke-width="0.9" stroke-linejoin="round"/>
<path d="M1336.5 1676.8C1337.0 1674.8 1337.1 1673.4 1338.2 1672.5C1339.4 1671.6 1341.2 1671.0 1343.4 1671.1C1345.5 1671.3 1348.5 1673.3 1351.0 1673.3C1353.6 1673.4 1356.4 1671.4 1358.7 1671.6C1361.0 1671.9 1363.4 1673.2 1364.7 1675.1C1366.0 1676.9 1366.4 1680.3 1366.4 1682.7C1366.4 1685.2 1366.0 1688.1 1364.7 1689.6C1363.4 1691.0 1361.7 1690.9 1358.7 1691.3C1355.7 1691.6 1350.2 1691.7 1346.8 1691.6C1343.4 1691.5 1340.2 1691.6 1338.2 1690.4C1336.3 1689.2 1335.5 1686.7 1335.2 1684.4C1334.9 1682.2 1336.0 1678.8 1336.5 1676.8Z" fill="none" stroke="#6a3a9a" stroke-width="0.9" stroke-linejoin="round"/>
<path d="M1338.5 1677.5C1339.0 1675.7 1339.0 1674.6 1340.0 1673.8C1341.0 1673.0 1342.6 1672.5 1344.4 1672.6C1346.2 1672.7 1348.8 1674.4 1351.0 1674.5C1353.2 1674.6 1355.7 1672.8 1357.7 1673.0C1359.6 1673.3 1361.7 1674.4 1362.8 1676.0C1363.9 1677.6 1364.3 1680.5 1364.3 1682.6C1364.3 1684.7 1363.9 1687.3 1362.8 1688.5C1361.7 1689.7 1360.2 1689.7 1357.7 1690.0C1355.1 1690.3 1350.3 1690.4 1347.4 1690.3C1344.4 1690.2 1341.7 1690.3 1340.0 1689.2C1338.3 1688.2 1337.6 1686.1 1337.3 1684.1C1337.1 1682.1 1338.1 1679.2 1338.5 1677.5Z" fill="none" stroke="#8b44a8" stroke-width="0.9" stroke-linejoin="round"/>
<path d="M1340.5 1678.2C1340.9 1676.7 1340.9 1675.7 1341.7 1675.1C1342.6 1674.4 1343.9 1674.0 1345.5 1674.1C1347.0 1674.2 1349.2 1675.6 1351.0 1675.7C1352.9 1675.7 1355.0 1674.2 1356.6 1674.4C1358.3 1674.6 1360.0 1675.6 1361.0 1676.9C1361.9 1678.3 1362.2 1680.7 1362.2 1682.5C1362.2 1684.3 1361.9 1686.4 1361.0 1687.5C1360.0 1688.5 1358.8 1688.5 1356.6 1688.7C1354.5 1689.0 1350.4 1689.1 1347.9 1689.0C1345.5 1688.9 1343.1 1689.0 1341.7 1688.1C1340.3 1687.2 1339.7 1685.4 1339.5 1683.7C1339.3 1682.1 1340.1 1679.6 1340.5 1678.2Z" fill="none" stroke="#8b44a8" stroke-width="0.9" stroke-linejoin="round"/>
<ellipse cx="1343.3" cy="1683.8" rx="5.04" ry="3.88" fill="none" stroke="#a850a8" stroke-width="0.8"/>
<ellipse cx="1343.3" cy="1683.8" rx="3.03" ry="2.33" fill="none" stroke="#a850a8" stroke-width="0.8"/>
<ellipse cx="1343.3" cy="1683.8" rx="1.26" ry="0.97" fill="none" stroke="#c25a9a" stroke-width="0.8"/>
<ellipse cx="1359.4" cy="1683.8" rx="5.04" ry="3.88" fill="none" stroke="#a850a8" stroke-width="0.8"/>
<ellipse cx="1359.4" cy="1683.8" rx="3.03" ry="2.33" fill="none" stroke="#a850a8" stroke-width="0.8"/>
<ellipse cx="1359.4" cy="1683.8" rx="1.26" ry="0.97" fill="none" stroke="#c25a9a" stroke-width="0.8"/>
<path d="M1328.7 1702.6C1329.1 1701.6 1330.2 1700.0 1331.6 1699.3C1333.1 1698.7 1335.8 1698.3 1337.5 1698.8C1339.2 1699.2 1341.4 1700.7 1341.9 1701.9C1342.4 1703.0 1341.8 1704.9 1340.4 1705.7C1339.0 1706.5 1335.4 1706.7 1333.6 1706.7C1331.8 1706.7 1330.5 1706.4 1329.7 1705.7C1328.9 1705.1 1328.4 1703.7 1328.7 1702.6Z" fill="none" stroke="#271f4a" stroke-width="1.45" stroke-linejoin="round"/>
</g>
<rect x="1193.8" y="1487.8999999999999" width="303.3" height="301.9" fill="none" stroke="#000" stroke-width="1.3"/>
</svg>
<svg style="left:1575.2px;top:1487.3px" width="304.6" height="303.1" viewBox="1575.2 1487.3 304.6 303.1">
<defs><clipPath id="cp1575_1487"><rect x="1575.2" y="1487.3" width="304.6" height="303.1"/></clipPath></defs>
<rect x="1575.2" y="1487.3" width="304.6" height="303.1" fill="#555"/>
<g clip-path="url(#cp1575_1487)">
<path d="M1739.5 1575.3C1744.2 1577.2 1750.3 1582.7 1754.3 1586.8C1758.3 1590.9 1760.1 1594.4 1763.4 1600.0C1766.7 1605.6 1770.9 1614.0 1774.1 1620.4C1777.3 1626.9 1780.7 1632.0 1782.4 1638.7C1784.1 1645.4 1783.9 1654.6 1784.4 1660.7C1785.0 1666.9 1786.7 1670.9 1785.7 1675.6C1784.7 1680.2 1782.1 1685.2 1778.4 1688.6C1774.6 1691.9 1768.4 1693.4 1763.5 1695.8C1758.5 1698.3 1754.2 1700.7 1748.7 1703.2C1743.2 1705.7 1736.4 1709.6 1730.2 1710.9C1724.1 1712.2 1717.2 1712.9 1711.7 1711.0C1706.1 1709.2 1701.5 1704.4 1696.9 1699.7C1692.3 1695.1 1687.4 1689.5 1684.0 1683.0C1680.7 1676.5 1678.5 1668.2 1676.8 1660.8C1675.1 1653.4 1673.7 1646.0 1674.0 1638.6C1674.2 1631.2 1675.6 1623.2 1678.5 1616.4C1681.4 1609.6 1686.1 1603.5 1691.4 1597.9C1696.6 1592.3 1704.0 1586.7 1709.8 1582.9C1715.7 1579.1 1721.6 1576.6 1726.5 1575.3C1731.5 1574.0 1734.9 1573.4 1739.5 1575.3Z" fill="#fff" filter="url(#spkL)"/>
<ellipse cx="1743.1" cy="1569.4" rx="7.76" ry="9.70" fill="#ececec"/>
<ellipse cx="1722.4" cy="1683.8" rx="13.57" ry="9.70" fill="url(#gry)"/>
<ellipse cx="1713.1" cy="1684.8" rx="4.27" ry="4.27" fill="url(#blk)"/>
<path d="M1712.7 1583.0C1714.9 1584.0 1719.1 1592.7 1722.4 1593.7C1725.6 1594.6 1728.5 1589.9 1732.1 1588.8C1735.6 1587.7 1740.1 1586.4 1743.7 1586.9C1747.3 1587.3 1750.5 1588.6 1753.4 1591.7C1756.3 1594.8 1758.6 1600.1 1761.2 1605.3C1763.7 1610.5 1766.3 1617.2 1768.9 1622.7C1771.5 1628.2 1774.6 1632.8 1776.7 1638.3C1778.8 1643.7 1780.2 1650.5 1781.5 1655.7C1782.8 1660.9 1783.3 1666.0 1784.4 1669.3C1785.6 1672.5 1788.1 1672.5 1788.3 1675.1C1788.5 1677.7 1787.7 1681.7 1785.4 1684.8C1783.1 1687.9 1778.8 1692.4 1774.7 1693.5C1770.7 1694.6 1766.0 1691.7 1761.2 1691.6C1756.3 1691.4 1750.2 1691.6 1745.6 1692.5C1741.1 1693.5 1737.9 1695.5 1734.0 1697.4C1730.1 1699.3 1725.9 1702.9 1722.4 1704.2C1718.8 1705.5 1716.6 1706.3 1712.7 1705.2C1708.8 1704.0 1702.7 1700.5 1699.1 1697.4C1695.5 1694.3 1693.8 1690.8 1691.3 1686.7C1688.9 1682.7 1685.9 1677.4 1684.6 1673.2C1683.3 1669.0 1682.5 1663.3 1683.6 1661.5C1684.7 1659.7 1690.1 1663.6 1691.3 1662.5C1692.6 1661.4 1692.3 1655.5 1691.0 1654.7C1689.7 1653.9 1685.1 1658.4 1683.6 1657.6C1682.0 1656.8 1681.2 1652.5 1681.7 1649.9C1682.1 1647.3 1686.3 1644.7 1686.5 1642.1C1686.7 1639.5 1683.1 1637.9 1682.6 1634.4C1682.1 1630.8 1682.5 1624.7 1683.6 1620.8C1684.7 1616.9 1686.5 1614.7 1689.4 1611.1C1692.3 1607.5 1697.8 1603.3 1701.0 1599.5C1704.3 1595.6 1706.9 1590.6 1708.8 1587.8C1710.7 1585.1 1710.4 1582.0 1712.7 1583.0Z" fill="none" stroke="#26262e" stroke-width="1.5" stroke-linejoin="round"/>
<ellipse cx="1743.1" cy="1568.1" rx="9.11" ry="11.63" fill="none" stroke="#26262e" stroke-width="1.4"/>
<ellipse cx="1742.7" cy="1571.5" rx="1.36" ry="1.36" fill="#333"/>
<ellipse cx="1621.5" cy="1603.0" rx="5.82" ry="5.82" fill="none" stroke="#26262e" stroke-width="1.5"/>
<path d="M1719.5 1606.3C1722.7 1606.1 1725.1 1609.3 1730.1 1611.1C1735.1 1612.9 1745.0 1613.7 1749.5 1616.9C1754.0 1620.2 1755.2 1626.3 1757.3 1630.5C1759.4 1634.7 1762.0 1637.6 1762.1 1642.1C1762.3 1646.7 1760.3 1652.5 1758.2 1657.6C1756.1 1662.8 1752.9 1669.0 1749.5 1673.2C1746.1 1677.4 1741.1 1679.6 1737.9 1682.9C1734.7 1686.1 1731.7 1689.8 1730.1 1692.5C1728.5 1695.3 1730.8 1698.2 1728.2 1699.3C1725.6 1700.5 1717.8 1700.1 1714.6 1699.3C1711.4 1698.5 1710.4 1696.6 1708.8 1694.5C1707.2 1692.4 1706.5 1689.0 1704.9 1686.7C1703.3 1684.5 1701.0 1682.9 1699.1 1680.9C1697.2 1679.0 1693.8 1677.4 1693.3 1675.1C1692.8 1672.8 1694.6 1668.8 1696.2 1667.3C1697.8 1665.9 1701.7 1670.6 1703.0 1666.4C1704.3 1662.2 1704.0 1648.4 1704.0 1642.1C1704.0 1635.8 1704.4 1631.3 1703.0 1628.6C1701.5 1625.8 1696.8 1626.6 1695.2 1625.6C1693.6 1624.7 1692.3 1624.7 1693.3 1622.7C1694.3 1620.8 1698.1 1615.8 1701.0 1614.0C1704.0 1612.2 1707.7 1613.4 1710.7 1612.1C1713.8 1610.8 1716.2 1606.4 1719.5 1606.3Z" fill="none" stroke="#271f4a" stroke-width="1.3" stroke-linejoin="round"/>
<path d="M1714.6 1615.0C1717.8 1611.6 1725.0 1614.1 1730.1 1614.0C1735.3 1613.9 1741.9 1613.5 1745.6 1614.6C1749.4 1615.7 1751.0 1616.9 1752.4 1620.8C1753.9 1624.7 1754.2 1632.1 1754.4 1638.3C1754.5 1644.4 1754.2 1652.1 1753.4 1657.6C1752.6 1663.1 1752.1 1668.5 1749.5 1671.2C1746.9 1674.0 1742.4 1673.7 1737.9 1674.1C1733.4 1674.5 1726.4 1674.4 1722.4 1673.5C1718.3 1672.7 1715.6 1672.6 1713.6 1669.3C1711.7 1666.0 1711.2 1659.6 1710.7 1653.8C1710.3 1647.9 1710.5 1640.8 1711.1 1634.4C1711.8 1627.9 1711.4 1618.4 1714.6 1615.0Z" fill="none" stroke="#43307a" stroke-width="0.8" stroke-linejoin="round"/>
<path d="M1715.8 1617.0C1718.8 1613.9 1725.5 1616.2 1730.3 1616.1C1735.1 1616.1 1741.2 1615.6 1744.7 1616.7C1748.1 1617.7 1749.7 1618.8 1751.0 1622.4C1752.4 1626.1 1752.7 1632.9 1752.8 1638.7C1753.0 1644.4 1752.7 1651.6 1751.9 1656.7C1751.2 1661.8 1750.7 1666.8 1748.3 1669.3C1745.9 1671.9 1741.7 1671.7 1737.5 1672.0C1733.3 1672.4 1726.8 1672.2 1723.1 1671.5C1719.3 1670.7 1716.7 1670.6 1714.9 1667.5C1713.1 1664.4 1712.6 1658.5 1712.2 1653.1C1711.8 1647.7 1712.0 1641.1 1712.6 1635.1C1713.2 1629.0 1712.9 1620.2 1715.8 1617.0Z" fill="none" stroke="#6a3a9a" stroke-width="0.8" stroke-linejoin="round"/>
<path d="M1717.1 1619.1C1719.8 1616.1 1726.0 1618.3 1730.4 1618.2C1734.8 1618.2 1740.5 1617.7 1743.7 1618.7C1746.9 1619.7 1748.3 1620.7 1749.6 1624.1C1750.8 1627.4 1751.1 1633.8 1751.2 1639.1C1751.4 1644.3 1751.1 1651.0 1750.4 1655.7C1749.7 1660.5 1749.3 1665.1 1747.1 1667.4C1744.9 1669.8 1741.0 1669.6 1737.1 1669.9C1733.2 1670.2 1727.2 1670.1 1723.7 1669.4C1720.3 1668.7 1717.9 1668.6 1716.2 1665.7C1714.6 1662.9 1714.1 1657.4 1713.7 1652.4C1713.4 1647.4 1713.5 1641.3 1714.1 1635.7C1714.6 1630.2 1714.3 1622.0 1717.1 1619.1Z" fill="none" stroke="#6a3a9a" stroke-width="0.8" stroke-linejoin="round"/>
<path d="M1718.3 1621.1C1720.8 1618.4 1726.5 1620.4 1730.5 1620.3C1734.6 1620.3 1739.9 1619.9 1742.8 1620.8C1745.7 1621.7 1747.0 1622.6 1748.2 1625.7C1749.3 1628.8 1749.6 1634.6 1749.7 1639.5C1749.8 1644.3 1749.6 1650.5 1748.9 1654.8C1748.3 1659.1 1747.9 1663.3 1745.9 1665.5C1743.8 1667.7 1740.2 1667.5 1736.7 1667.8C1733.1 1668.1 1727.6 1668.0 1724.4 1667.4C1721.2 1666.7 1719.0 1666.6 1717.5 1664.0C1716.0 1661.4 1715.5 1656.3 1715.2 1651.7C1714.9 1647.1 1715.0 1641.5 1715.5 1636.4C1716.0 1631.3 1715.8 1623.8 1718.3 1621.1Z" fill="none" stroke="#8b44a8" stroke-width="0.8" stroke-linejoin="round"/>
<path d="M1719.5 1623.1C1721.8 1620.7 1726.9 1622.5 1730.7 1622.4C1734.4 1622.4 1739.2 1622.0 1741.8 1622.8C1744.5 1623.7 1745.7 1624.5 1746.7 1627.3C1747.8 1630.2 1748.0 1635.5 1748.1 1639.9C1748.2 1644.3 1748.0 1649.9 1747.4 1653.8C1746.8 1657.8 1746.5 1661.6 1744.6 1663.6C1742.8 1665.6 1739.5 1665.4 1736.3 1665.7C1733.0 1666.0 1728.0 1665.9 1725.1 1665.3C1722.2 1664.7 1720.2 1664.6 1718.8 1662.2C1717.4 1659.8 1717.0 1655.2 1716.7 1651.0C1716.4 1646.9 1716.5 1641.7 1717.0 1637.1C1717.5 1632.4 1717.2 1625.6 1719.5 1623.1Z" fill="none" stroke="#8b44a8" stroke-width="0.8" stroke-linejoin="round"/>
<path d="M1720.7 1625.2C1722.8 1623.0 1727.4 1624.6 1730.8 1624.5C1734.2 1624.5 1738.5 1624.2 1740.9 1624.9C1743.3 1625.6 1744.4 1626.4 1745.3 1628.9C1746.2 1631.5 1746.5 1636.3 1746.6 1640.3C1746.7 1644.3 1746.5 1649.3 1745.9 1652.9C1745.4 1656.5 1745.1 1659.9 1743.4 1661.7C1741.7 1663.5 1738.8 1663.4 1735.8 1663.6C1732.9 1663.9 1728.4 1663.8 1725.8 1663.2C1723.1 1662.7 1721.4 1662.6 1720.1 1660.5C1718.8 1658.3 1718.5 1654.2 1718.2 1650.4C1717.9 1646.6 1718.0 1642.0 1718.5 1637.8C1718.9 1633.6 1718.7 1627.4 1720.7 1625.2Z" fill="none" stroke="#a850a8" stroke-width="0.8" stroke-linejoin="round"/>
<path d="M1721.9 1627.2C1723.8 1625.2 1727.9 1626.7 1730.9 1626.6C1733.9 1626.6 1737.8 1626.3 1739.9 1627.0C1742.1 1627.6 1743.0 1628.3 1743.9 1630.6C1744.7 1632.9 1744.9 1637.1 1745.0 1640.7C1745.1 1644.3 1744.9 1648.8 1744.4 1651.9C1744.0 1655.1 1743.7 1658.2 1742.2 1659.8C1740.7 1661.4 1738.1 1661.3 1735.4 1661.5C1732.8 1661.7 1728.8 1661.6 1726.4 1661.2C1724.1 1660.7 1722.5 1660.6 1721.4 1658.7C1720.3 1656.8 1719.9 1653.1 1719.7 1649.7C1719.5 1646.3 1719.5 1642.2 1719.9 1638.4C1720.3 1634.7 1720.1 1629.2 1721.9 1627.2Z" fill="none" stroke="#a850a8" stroke-width="0.8" stroke-linejoin="round"/>
<ellipse cx="1732.1" cy="1644.1" rx="24.24" ry="33.35" fill="url(#hot2)" transform="rotate(-5 1732.1 1644.1)"/>
<ellipse cx="1733.0" cy="1644.5" rx="16.29" ry="27.15" fill="url(#hot)" transform="rotate(18 1733.0 1644.5)"/>
<path d="M1728.2 1622.7C1729.3 1623.9 1734.7 1627.1 1735.0 1629.5C1735.3 1631.9 1729.5 1635.2 1730.1 1637.3C1730.8 1639.4 1738.0 1639.7 1738.9 1642.1C1739.7 1644.6 1736.8 1648.9 1735.0 1651.8C1733.2 1654.7 1729.3 1658.3 1728.2 1659.6" fill="none" stroke="#fff6d8" stroke-width="0.9" stroke-linejoin="round" opacity="0.75"/>
<path d="M1736.9 1623.7C1737.8 1625.2 1741.9 1629.7 1742.2 1632.4C1742.4 1635.2 1738.1 1637.4 1738.3 1640.2C1738.5 1642.9 1743.4 1646.0 1743.3 1648.9C1743.3 1651.8 1738.8 1656.2 1737.9 1657.6" fill="none" stroke="#fff6d8" stroke-width="0.8" stroke-linejoin="round" opacity="0.65"/>
<path d="M1724.3 1630.5C1725.0 1632.1 1728.2 1637.0 1728.2 1640.2C1728.2 1643.4 1724.5 1646.3 1724.3 1649.9C1724.2 1653.4 1726.7 1659.6 1727.2 1661.5" fill="none" stroke="#fff6d8" stroke-width="0.8" stroke-linejoin="round" opacity="0.55"/>
<ellipse cx="1700.1" cy="1673.5" rx="7.76" ry="7.76" fill="none" stroke="#6a3a9a" stroke-width="0.8"/>
<ellipse cx="1700.1" cy="1673.5" rx="6.05" ry="6.05" fill="none" stroke="#6a3a9a" stroke-width="0.8"/>
<ellipse cx="1700.1" cy="1673.5" rx="4.34" ry="4.34" fill="none" stroke="#8b44a8" stroke-width="0.8"/>
<ellipse cx="1700.1" cy="1673.5" rx="2.64" ry="2.64" fill="none" stroke="#8b44a8" stroke-width="0.8"/>
<ellipse cx="1700.1" cy="1673.5" rx="1.09" ry="1.09" fill="none" stroke="#a850a8" stroke-width="0.8"/>
<ellipse cx="1700.1" cy="1673.5" rx="7.76" ry="7.76" fill="url(#pur)"/>
<path d="M1720.4 1687.7C1721.8 1687.6 1725.3 1694.1 1724.7 1695.5C1724.1 1696.8 1717.3 1697.1 1716.6 1695.8C1715.8 1694.5 1719.1 1687.8 1720.4 1687.7Z" fill="none" stroke="#43307a" stroke-width="1.25" stroke-linejoin="round"/>
<ellipse cx="1691.9" cy="1653.8" rx="0.78" ry="0.78" fill="#111"/>
<ellipse cx="1764.1" cy="1663.5" rx="0.97" ry="0.97" fill="#111"/>
</g>
<rect x="1575.8" y="1487.8999999999999" width="303.4" height="301.9" fill="none" stroke="#000" stroke-width="1.3"/>
</svg>
<svg style="left:1957.1px;top:1488.1px" width="304.7" height="303.6" viewBox="1957.1 1488.1 304.7 303.6">
<defs><clipPath id="cp1957_1488"><rect x="1957.1" y="1488.1" width="304.7" height="303.6"/></clipPath></defs>
<rect x="1957.1" y="1488.1" width="304.7" height="303.6" fill="#555"/>
<g clip-path="url(#cp1957_1488)">
<path d="M2108.4 1594.7C2117.1 1594.4 2123.9 1597.9 2130.7 1600.4C2137.5 1602.8 2143.8 1605.5 2149.4 1609.5C2155.0 1613.5 2160.7 1618.8 2164.5 1624.4C2168.3 1629.9 2171.5 1636.8 2172.2 1643.1C2172.8 1649.3 2171.6 1656.2 2168.4 1661.8C2165.3 1667.4 2159.6 1673.0 2153.3 1676.7C2147.0 1680.4 2138.2 1682.5 2130.7 1684.0C2123.2 1685.5 2115.8 1686.7 2108.4 1685.7C2101.0 1684.8 2093.0 1681.7 2086.1 1678.3C2079.3 1675.0 2072.7 1670.4 2067.4 1665.5C2062.0 1660.5 2056.9 1654.3 2054.0 1648.7C2051.1 1643.1 2049.2 1637.4 2050.1 1631.8C2051.1 1626.2 2054.9 1619.9 2059.6 1614.9C2064.4 1610.0 2070.4 1605.4 2078.5 1602.0C2086.7 1598.6 2099.7 1595.0 2108.4 1594.7Z" fill="#fff" filter="url(#spkM)"/>
<ellipse cx="2112.1" cy="1643.1" rx="58.17" ry="32.96" fill="url(#gry2)" transform="rotate(12 2112.1 1643.1)"/>
<ellipse cx="2114.1" cy="1643.1" rx="29.09" ry="15.51" fill="url(#gry)" transform="rotate(10 2114.1 1643.1)"/>
<path d="M2062.7 1633.4C2063.3 1630.2 2068.0 1625.7 2073.3 1621.8C2078.7 1617.9 2089.2 1611.0 2094.7 1610.2C2100.2 1609.4 2101.8 1614.2 2106.3 1617.0C2110.8 1619.7 2117.6 1623.6 2121.8 1626.6C2126.0 1629.7 2128.8 1634.7 2131.5 1635.4C2134.3 1636.0 2136.2 1632.0 2138.3 1630.5C2140.4 1629.1 2141.7 1625.8 2144.1 1626.6C2146.5 1627.5 2149.9 1632.6 2152.9 1635.4C2155.8 1638.1 2160.3 1640.2 2161.6 1643.1C2162.9 1646.0 2161.7 1649.9 2160.6 1652.8C2159.5 1655.7 2157.7 1659.1 2154.8 1660.6C2151.9 1662.0 2147.7 1661.7 2143.2 1661.6C2138.6 1661.4 2132.0 1660.4 2127.6 1659.6C2123.3 1658.8 2118.9 1655.6 2117.0 1656.7C2115.0 1657.8 2115.8 1663.5 2116.0 1666.4C2116.2 1669.3 2118.3 1672.5 2117.9 1674.2C2117.6 1675.8 2115.2 1676.7 2114.1 1676.1C2112.9 1675.4 2112.8 1672.2 2111.2 1670.3C2109.5 1668.3 2106.3 1666.4 2104.4 1664.5C2102.4 1662.5 2101.5 1660.3 2099.5 1658.6C2097.6 1657.0 2095.8 1656.4 2092.7 1654.8C2089.7 1653.1 2085.0 1651.2 2081.1 1648.9C2077.2 1646.7 2072.5 1643.8 2069.5 1641.2C2066.4 1638.6 2062.0 1636.7 2062.7 1633.4Z" fill="none" stroke="#271f4a" stroke-width="1.45" stroke-linejoin="round"/>
<path d="M2071.4 1634.4C2072.1 1632.8 2077.2 1631.0 2081.1 1628.6C2085.0 1626.2 2090.8 1620.0 2094.7 1619.9C2098.6 1619.7 2100.5 1625.4 2104.4 1627.6C2108.3 1629.9 2113.4 1630.8 2117.9 1633.4C2122.5 1636.0 2128.4 1640.2 2131.5 1643.1C2134.6 1646.0 2134.3 1649.3 2136.4 1650.9C2138.5 1652.5 2143.0 1652.0 2144.1 1652.8C2145.3 1653.6 2145.3 1655.4 2143.2 1655.7C2141.1 1656.1 2134.8 1655.2 2131.5 1654.8C2128.3 1654.3 2126.3 1653.3 2123.8 1652.8C2121.2 1652.3 2119.2 1651.9 2116.0 1651.9C2112.8 1651.9 2108.3 1653.0 2104.4 1652.8C2100.5 1652.7 2096.0 1652.5 2092.7 1650.9C2089.5 1649.3 2087.6 1645.2 2085.0 1643.1C2082.4 1641.0 2079.5 1639.7 2077.2 1638.3C2075.0 1636.8 2070.8 1636.0 2071.4 1634.4Z" fill="none" stroke="#43307a" stroke-width="1.25" stroke-linejoin="round"/>
<path d="M2086.0 1635.4C2086.6 1632.6 2089.0 1630.7 2092.7 1630.5C2096.5 1630.4 2103.1 1633.1 2108.3 1634.4C2113.4 1635.7 2120.0 1636.5 2123.8 1638.3C2127.5 1640.1 2130.2 1643.0 2130.6 1645.1C2130.9 1647.2 2128.8 1649.6 2125.7 1650.9C2122.6 1652.2 2117.0 1652.7 2112.1 1652.8C2107.3 1653.0 2100.5 1652.8 2096.6 1651.9C2092.7 1650.9 2090.6 1649.8 2088.9 1647.0C2087.1 1644.3 2085.3 1638.1 2086.0 1635.4Z" fill="none" stroke="#6a3a9a" stroke-width="1.0" stroke-linejoin="round"/>
<ellipse cx="2101.5" cy="1643.1" rx="10.67" ry="8.73" fill="none" stroke="#6a3a9a" stroke-width="0.8"/>
<ellipse cx="2101.5" cy="1643.1" rx="8.53" ry="6.98" fill="none" stroke="#8b44a8" stroke-width="0.8"/>
<ellipse cx="2101.5" cy="1643.1" rx="6.40" ry="5.24" fill="none" stroke="#8b44a8" stroke-width="0.8"/>
<ellipse cx="2101.5" cy="1643.1" rx="4.27" ry="3.49" fill="none" stroke="#a850a8" stroke-width="0.8"/>
<ellipse cx="2101.5" cy="1643.1" rx="2.13" ry="1.75" fill="none" stroke="#a850a8" stroke-width="0.8"/>
<ellipse cx="2114.1" cy="1644.1" rx="21.33" ry="11.63" fill="url(#hot)" transform="rotate(3 2114.1 1644.1)"/>
<ellipse cx="2153.8" cy="1645.5" rx="5.43" ry="5.43" fill="none" stroke="#271f4a" stroke-width="1.45"/>
<ellipse cx="2084.0" cy="1664.1" rx="4.85" ry="3.30" fill="none" stroke="#271f4a" stroke-width="1.45" transform="rotate(-15 2084.0 1664.1)"/>
<ellipse cx="2134.4" cy="1673.8" rx="2.33" ry="2.13" fill="none" stroke="#271f4a" stroke-width="1.3"/>
</g>
<rect x="1957.6999999999998" y="1488.6999999999998" width="303.5" height="302.4" fill="none" stroke="#000" stroke-width="1.3"/>
</svg>
<svg style="left:1193.2px;top:1826.4px" width="304.6" height="304.1" viewBox="1193.2 1826.4 304.6 304.1">
<defs><clipPath id="cp1193_1826"><rect x="1193.2" y="1826.4" width="304.6" height="304.1"/></clipPath></defs>
<rect x="1193.2" y="1826.4" width="304.6" height="304.1" fill="#555"/>
<g clip-path="url(#cp1193_1826)">
<path d="M1252.8 1816.9C1270.9 1811.2 1336.8 1812.7 1355.9 1817.3C1374.9 1821.9 1362.8 1836.0 1367.1 1844.4C1371.5 1852.8 1376.5 1859.2 1382.1 1867.5C1387.7 1875.8 1394.6 1885.6 1400.8 1894.1C1407.1 1902.6 1414.4 1910.4 1419.8 1918.6C1425.2 1926.7 1430.3 1935.2 1433.2 1943.1C1436.0 1950.9 1437.3 1957.9 1437.0 1965.8C1436.7 1973.6 1434.5 1982.2 1431.4 1990.4C1428.2 1998.5 1423.8 2007.1 1418.1 2014.9C1412.4 2022.8 1404.2 2031.3 1397.3 2037.6C1390.4 2043.9 1383.8 2048.7 1376.5 2052.8C1369.3 2056.9 1361.7 2060.7 1353.8 2062.3C1345.9 2063.9 1337.7 2063.5 1329.2 2062.3C1320.7 2061.0 1311.6 2058.1 1302.8 2054.6C1293.9 2051.1 1284.5 2046.4 1276.3 2041.3C1268.1 2036.3 1259.9 2031.3 1253.6 2024.4C1247.3 2017.4 1242.3 2008.3 1238.5 1999.8C1234.7 1991.3 1231.9 1982.1 1231.0 1973.3C1230.0 1964.5 1231.4 1956.6 1232.9 1946.9C1234.5 1937.1 1238.3 1925.5 1240.5 1914.8C1242.6 1904.0 1244.7 1892.9 1245.9 1882.4C1247.0 1871.9 1246.2 1862.6 1247.4 1851.7C1248.6 1840.8 1234.8 1822.7 1252.8 1816.9Z" fill="#fff" filter="url(#spkL)"/>
<ellipse cx="1340.8" cy="1950.5" rx="81.70" ry="93.37" fill="url(#gry2)" opacity="0.45"/>
<ellipse cx="1313.6" cy="1864.9" rx="21.40" ry="23.34" fill="url(#gry)" opacity="0.8"/>
<ellipse cx="1340.8" cy="1979.7" rx="23.34" ry="27.23" fill="url(#gry)" opacity="0.6"/>
<path d="M1299.0 1843.5C1300.8 1842.9 1303.4 1844.2 1305.8 1845.5C1308.2 1846.7 1311.0 1850.6 1313.6 1851.3C1316.2 1851.9 1318.8 1848.7 1321.4 1849.3C1324.0 1850.0 1326.9 1853.1 1329.2 1855.2C1331.4 1857.3 1334.5 1859.4 1335.0 1862.0C1335.5 1864.6 1333.4 1867.7 1332.1 1870.7C1330.8 1873.8 1329.0 1878.0 1327.2 1880.5C1325.4 1882.9 1323.6 1885.2 1321.4 1885.3C1319.1 1885.5 1316.5 1882.9 1313.6 1881.4C1310.7 1880.0 1306.6 1878.2 1303.9 1876.6C1301.1 1875.0 1298.7 1874.3 1297.1 1871.7C1295.4 1869.1 1294.5 1864.7 1294.1 1861.0C1293.8 1857.3 1294.3 1852.3 1295.1 1849.3C1295.9 1846.4 1297.2 1844.2 1299.0 1843.5Z" fill="#a79ac0" fill-opacity="0.45" stroke="#271f4a" stroke-width="1.45" stroke-linejoin="round"/>
<path d="M1301.9 1857.1C1303.2 1855.2 1307.1 1852.9 1309.7 1853.2C1312.3 1853.6 1315.7 1856.1 1317.5 1859.1C1319.3 1862.0 1320.7 1868.3 1320.4 1870.7C1320.1 1873.2 1317.7 1873.5 1315.5 1873.7C1313.4 1873.8 1310.0 1873.2 1307.8 1871.7C1305.5 1870.3 1302.9 1867.3 1301.9 1864.9C1301.0 1862.5 1300.6 1859.1 1301.9 1857.1Z" fill="none" stroke="#43307a" stroke-width="1.15" stroke-linejoin="round"/>
<ellipse cx="1309.7" cy="1862.0" rx="7.00" ry="7.00" fill="none" stroke="#6a3a9a" stroke-width="0.9"/>
<ellipse cx="1309.7" cy="1862.0" rx="4.34" ry="4.34" fill="none" stroke="#8b44a8" stroke-width="0.9"/>
<ellipse cx="1309.7" cy="1862.0" rx="2.10" ry="2.10" fill="none" stroke="#8b44a8" stroke-width="0.9"/>
<ellipse cx="1309.7" cy="1862.0" rx="8.75" ry="8.75" fill="url(#pur)"/>
<ellipse cx="1390.4" cy="1871.7" rx="7.78" ry="7.78" fill="none" stroke="#271f4a" stroke-width="1.45"/>
<ellipse cx="1390.4" cy="1871.7" rx="3.89" ry="3.89" fill="none" stroke="#271f4a" stroke-width="1.3"/>
<path d="M1265.0 1901.9C1265.6 1899.9 1268.2 1898.8 1270.8 1897.0C1273.4 1895.2 1277.5 1892.0 1280.5 1891.2C1283.6 1890.4 1288.3 1890.7 1289.3 1892.1C1290.3 1893.6 1287.3 1897.6 1286.4 1899.9C1285.4 1902.2 1285.7 1904.1 1283.4 1905.8C1281.2 1907.4 1275.5 1909.2 1272.8 1909.6C1270.0 1910.1 1268.2 1910.0 1266.9 1908.7C1265.6 1907.4 1264.3 1903.8 1265.0 1901.9Z" fill="none" stroke="#271f4a" stroke-width="1.45" stroke-linejoin="round"/>
<path d="M1276.6 1923.3C1277.0 1921.3 1279.4 1918.4 1280.5 1918.4C1281.7 1918.4 1283.1 1921.2 1283.4 1923.3C1283.8 1925.4 1283.3 1929.9 1282.5 1931.0C1281.7 1932.2 1279.6 1931.4 1278.6 1930.1C1277.6 1928.8 1276.3 1925.2 1276.6 1923.3Z" fill="none" stroke="#26262e" stroke-width="1.5" stroke-linejoin="round"/>
<ellipse cx="1283.4" cy="1931.0" rx="5.45" ry="5.45" fill="url(#blk)"/>
<path d="M1249.4 1932.0C1250.9 1932.8 1253.3 1937.4 1253.3 1940.8C1253.3 1944.2 1250.4 1947.2 1249.4 1952.4C1248.4 1957.6 1247.5 1965.4 1247.5 1971.9C1247.5 1978.4 1248.3 1985.8 1249.4 1991.3C1250.5 1996.8 1253.6 2000.9 1254.3 2005.0C1254.9 2009.0 1254.4 2013.5 1253.3 2015.7C1252.2 2017.8 1249.6 2018.4 1247.5 2017.6C1245.4 2016.8 1242.6 2014.2 1240.7 2010.8C1238.7 2007.4 1236.9 2002.7 1235.8 1997.2C1234.7 1991.7 1234.0 1984.2 1233.8 1977.7C1233.7 1971.2 1234.2 1963.8 1234.8 1958.3C1235.5 1952.8 1236.1 1948.4 1237.7 1944.7C1239.4 1940.9 1242.6 1938.0 1244.5 1935.9C1246.5 1933.8 1248.0 1931.2 1249.4 1932.0Z" fill="none" stroke="#271f4a" stroke-width="1.45" stroke-linejoin="round"/>
<path d="M1320.4 1981.6C1321.5 1978.4 1324.5 1973.7 1327.2 1969.9C1330.0 1966.2 1333.7 1960.5 1336.9 1959.2C1340.2 1957.9 1343.7 1960.4 1346.7 1962.2C1349.6 1963.9 1352.3 1967.0 1354.4 1969.9C1356.6 1972.9 1358.7 1976.1 1359.3 1979.7C1360.0 1983.2 1360.1 1988.3 1358.3 1991.3C1356.6 1994.4 1351.5 1997.8 1348.6 1998.1C1345.7 1998.5 1344.1 1994.4 1340.8 1993.3C1337.6 1992.1 1332.6 1992.0 1329.2 1991.3C1325.8 1990.7 1321.9 1991.0 1320.4 1989.4C1318.9 1987.8 1319.3 1984.9 1320.4 1981.6Z" fill="none" stroke="#271f4a" stroke-width="1.45" stroke-linejoin="round"/>
<ellipse cx="1351.5" cy="1984.5" rx="7.00" ry="7.78" fill="none" stroke="#6a3a9a" stroke-width="0.8"/>
<ellipse cx="1351.5" cy="1984.5" rx="5.25" ry="5.84" fill="none" stroke="#8b44a8" stroke-width="0.8"/>
<ellipse cx="1351.5" cy="1984.5" rx="3.50" ry="3.89" fill="none" stroke="#8b44a8" stroke-width="0.8"/>
<ellipse cx="1340.4" cy="1978.7" rx="10.11" ry="15.17" fill="none" stroke="#43307a" stroke-width="0.9"/>
<ellipse cx="1340.4" cy="1978.7" rx="9.10" ry="13.65" fill="none" stroke="#6a3a9a" stroke-width="0.9"/>
<ellipse cx="1340.4" cy="1978.7" rx="10.89" ry="16.34" fill="url(#hot)"/>
<ellipse cx="1370.4" cy="1978.7" rx="7.39" ry="12.64" fill="none" stroke="#271f4a" stroke-width="1.45"/>
<ellipse cx="1370.4" cy="1981.6" rx="0.97" ry="2.33" fill="#3a2a5a"/>
<path d="M1422.5 1976.7C1424.1 1977.1 1426.7 1978.9 1426.4 1981.6C1426.1 1984.4 1422.2 1988.4 1420.6 1993.3C1419.0 1998.1 1419.0 2005.9 1416.7 2010.8C1414.4 2015.7 1410.5 2019.5 1407.0 2022.5C1403.4 2025.4 1398.9 2025.4 1395.3 2028.3C1391.7 2031.2 1388.8 2036.4 1385.6 2040.0C1382.3 2043.5 1379.4 2047.7 1375.8 2049.7C1372.3 2051.6 1366.9 2052.6 1364.2 2051.6C1361.4 2050.7 1359.3 2046.6 1359.3 2043.9C1359.3 2041.1 1362.1 2037.2 1364.2 2035.1C1366.3 2033.0 1369.4 2031.4 1372.0 2031.2C1374.5 2031.1 1376.8 2034.9 1379.7 2034.1C1382.7 2033.3 1386.9 2029.9 1389.5 2026.4C1392.1 2022.8 1393.0 2016.9 1395.3 2012.7C1397.6 2008.5 1400.8 2005.0 1403.1 2001.1C1405.3 1997.2 1406.6 1993.0 1408.9 1989.4C1411.2 1985.8 1414.4 1981.8 1416.7 1979.7C1419.0 1977.6 1420.9 1976.4 1422.5 1976.7Z" fill="none" stroke="#271f4a" stroke-width="1.45" stroke-linejoin="round"/>
<ellipse cx="1310.1" cy="2042.9" rx="4.28" ry="3.31" fill="none" stroke="#271f4a" stroke-width="1.45" transform="rotate(30 1310.1 2042.9)"/>
<ellipse cx="1336.9" cy="2043.5" rx="9.73" ry="3.70" fill="none" stroke="#271f4a" stroke-width="1.45"/>
<ellipse cx="1380.7" cy="2012.3" rx="1.17" ry="1.17" fill="#111"/>
<ellipse cx="1351.5" cy="2052.6" rx="0.97" ry="0.97" fill="#111"/>
<ellipse cx="1410.9" cy="2003.0" rx="0.58" ry="0.58" fill="#111"/>
</g>
<rect x="1193.8" y="1827.0" width="303.4" height="302.9" fill="none" stroke="#000" stroke-width="1.3"/>
</svg>
<svg style="left:1575.4px;top:1826.4px" width="304.6" height="304.1" viewBox="1575.4 1826.4 304.6 304.1">
<defs><clipPath id="cp1575_1826"><rect x="1575.4" y="1826.4" width="304.6" height="304.1"/></clipPath></defs>
<rect x="1575.4" y="1826.4" width="304.6" height="304.1" fill="#555"/>
<g clip-path="url(#cp1575_1826)">
<path d="M1737.1 1907.6C1744.0 1905.6 1753.4 1902.2 1759.7 1901.4C1766.0 1900.6 1772.2 1899.6 1774.8 1903.0C1777.4 1906.5 1776.1 1916.4 1775.3 1922.1C1774.6 1927.8 1769.9 1931.1 1770.2 1937.3C1770.5 1943.6 1775.6 1952.1 1777.4 1959.5C1779.2 1966.9 1780.4 1974.2 1781.1 1981.5C1781.7 1988.9 1782.1 1996.6 1781.3 2003.7C1780.4 2010.7 1779.0 2019.1 1776.0 2024.1C1772.9 2029.0 1767.5 2031.1 1762.9 2033.2C1758.2 2035.3 1752.9 2034.5 1747.9 2036.6C1743.0 2038.7 1737.6 2042.7 1733.3 2045.9C1729.0 2049.0 1726.6 2053.2 1722.3 2055.4C1718.0 2057.7 1712.5 2059.3 1707.5 2059.3C1702.6 2059.3 1697.0 2057.8 1692.7 2055.6C1688.4 2053.3 1684.8 2049.9 1681.7 2046.1C1678.7 2042.3 1674.8 2037.6 1674.6 2032.8C1674.4 2028.1 1679.9 2021.9 1680.7 2017.5C1681.5 2013.1 1680.8 2009.4 1679.3 2006.4C1677.8 2003.4 1675.1 2001.7 1672.0 1999.4C1668.9 1997.0 1661.8 1995.9 1660.6 1992.4C1659.4 1988.8 1664.6 1982.7 1664.6 1977.9C1664.6 1973.1 1663.1 1967.1 1660.5 1963.4C1657.9 1959.7 1651.6 1958.9 1648.8 1955.8C1646.0 1952.7 1642.5 1947.6 1643.7 1944.5C1644.9 1941.5 1651.7 1938.5 1656.0 1937.3C1660.3 1936.2 1664.9 1938.9 1669.3 1937.7C1673.6 1936.6 1677.0 1933.3 1682.1 1930.6C1687.3 1927.8 1694.2 1924.2 1700.3 1921.3C1706.4 1918.5 1712.5 1915.9 1718.6 1913.6C1724.7 1911.3 1730.3 1909.6 1737.1 1907.6Z" fill="#fff" filter="url(#spkL)"/>
<ellipse cx="1728.7" cy="1981.6" rx="44.74" ry="64.19" fill="url(#gry2)" transform="rotate(15 1728.7 1981.6)"/>
<ellipse cx="1730.6" cy="1979.7" rx="23.34" ry="38.90" fill="url(#gry)" transform="rotate(10 1730.6 1979.7)"/>
<path d="M1740.3 1903.8C1743.9 1903.5 1747.1 1905.1 1750.1 1907.7C1753.0 1910.3 1756.2 1915.5 1757.8 1919.4C1759.5 1923.3 1760.4 1927.5 1759.8 1931.0C1759.1 1934.6 1753.6 1937.5 1754.0 1940.8C1754.3 1944.0 1759.1 1946.3 1761.7 1950.5C1764.3 1954.7 1766.9 1960.9 1769.5 1966.1C1772.1 1971.2 1776.6 1976.4 1777.3 1981.6C1777.9 1986.8 1775.0 1992.0 1773.4 1997.2C1771.8 2002.4 1768.7 2008.8 1767.6 2012.7C1766.4 2016.6 1768.2 2018.2 1766.6 2020.5C1765.0 2022.8 1760.9 2024.4 1757.8 2026.4C1754.8 2028.3 1752.0 2030.2 1748.1 2032.2C1744.2 2034.1 1738.7 2035.1 1734.5 2038.0C1730.3 2040.9 1726.7 2046.6 1722.8 2049.7C1718.9 2052.8 1715.7 2055.5 1711.2 2056.5C1706.6 2057.5 1700.1 2056.7 1695.6 2055.5C1691.1 2054.4 1687.2 2052.3 1683.9 2049.7C1680.7 2047.1 1677.1 2042.9 1676.1 2040.0C1675.2 2037.0 1675.5 2034.1 1678.1 2032.2C1680.7 2030.2 1688.8 2029.9 1691.7 2028.3C1694.6 2026.7 1696.2 2024.1 1695.6 2022.5C1695.0 2020.8 1690.4 2019.4 1687.8 2018.6C1685.2 2017.8 1681.8 2018.6 1680.0 2017.6C1678.3 2016.6 1676.5 2015.5 1677.1 2012.7C1677.8 2010.0 1682.5 2005.3 1683.9 2001.1C1685.4 1996.8 1684.6 1992.6 1685.9 1987.4C1687.2 1982.3 1690.4 1975.5 1691.7 1969.9C1693.0 1964.4 1692.0 1959.6 1693.7 1954.4C1695.3 1949.2 1697.9 1944.0 1701.4 1938.8C1705.0 1933.6 1710.5 1928.1 1715.1 1923.3C1719.6 1918.4 1724.5 1912.9 1728.7 1909.6C1732.9 1906.4 1736.8 1904.1 1740.3 1903.8Z" fill="none" stroke="#271f4a" stroke-width="1.45" stroke-linejoin="round"/>
<path d="M1730.6 1917.4C1733.2 1918.1 1735.8 1923.9 1736.4 1927.1C1737.1 1930.4 1733.2 1934.3 1734.5 1936.9C1735.8 1939.5 1740.7 1940.1 1744.2 1942.7C1747.8 1945.3 1752.7 1948.5 1755.9 1952.4C1759.1 1956.3 1762.7 1961.2 1763.7 1966.1C1764.7 1970.9 1762.4 1975.8 1761.7 1981.6C1761.1 1987.4 1759.3 1995.9 1759.8 2001.1C1760.3 2006.3 1765.0 2009.2 1764.7 2012.7C1764.3 2016.3 1760.0 2020.2 1757.8 2022.5C1755.7 2024.7 1754.6 2026.7 1752.0 2026.4C1749.4 2026.0 1745.2 2020.2 1742.3 2020.5C1739.4 2020.8 1737.1 2026.4 1734.5 2028.3C1731.9 2030.2 1730.0 2032.2 1726.7 2032.2C1723.5 2032.2 1718.9 2030.2 1715.1 2028.3C1711.2 2026.4 1706.6 2023.8 1703.4 2020.5C1700.1 2017.3 1698.0 2011.4 1695.6 2008.8C1693.2 2006.3 1689.8 2007.9 1688.8 2005.0C1687.8 2002.0 1689.0 1995.9 1689.8 1991.3C1690.6 1986.8 1692.0 1982.6 1693.7 1977.7C1695.3 1972.9 1698.2 1967.3 1699.5 1962.2C1700.8 1957.0 1699.5 1951.1 1701.4 1946.6C1703.4 1942.1 1707.9 1938.8 1711.2 1934.9C1714.4 1931.0 1717.6 1926.2 1720.9 1923.3C1724.1 1920.3 1728.0 1916.8 1730.6 1917.4Z" fill="none" stroke="#43307a" stroke-width="1.25" stroke-linejoin="round"/>
<path d="M1722.8 1927.1C1725.7 1925.9 1727.4 1931.7 1728.7 1934.9C1730.0 1938.2 1728.3 1943.4 1730.6 1946.6C1732.9 1949.8 1738.7 1951.1 1742.3 1954.4C1745.8 1957.6 1750.1 1961.5 1752.0 1966.1C1754.0 1970.6 1754.3 1977.4 1754.0 1981.6C1753.6 1985.8 1750.4 1988.1 1750.1 1991.3C1749.7 1994.6 1753.0 1998.5 1752.0 2001.1C1751.0 2003.7 1746.8 2004.3 1744.2 2006.9C1741.6 2009.5 1738.7 2014.0 1736.4 2016.6C1734.2 2019.2 1732.9 2022.5 1730.6 2022.5C1728.3 2022.5 1725.4 2016.9 1722.8 2016.6C1720.2 2016.3 1717.3 2021.2 1715.1 2020.5C1712.8 2019.9 1711.8 2016.0 1709.2 2012.7C1706.6 2009.5 1702.4 2003.3 1699.5 2001.1C1696.6 1998.8 1692.7 2001.7 1691.7 1999.1C1690.7 1996.5 1692.0 1989.7 1693.7 1985.5C1695.3 1981.3 1699.2 1977.1 1701.4 1973.8C1703.7 1970.6 1707.3 1968.3 1707.3 1966.1C1707.3 1963.8 1702.1 1962.8 1701.4 1960.2C1700.8 1957.6 1701.8 1953.4 1703.4 1950.5C1705.0 1947.6 1707.9 1946.6 1711.2 1942.7C1714.4 1938.8 1719.9 1928.4 1722.8 1927.1Z" fill="none" stroke="#6a3a9a" stroke-width="1.0" stroke-linejoin="round"/>
<path d="M1701.4 1955.4C1702.7 1952.8 1711.2 1954.2 1715.1 1953.4C1718.9 1952.6 1724.0 1949.0 1724.8 1950.5C1725.6 1951.9 1721.5 1958.8 1719.9 1962.2C1718.3 1965.6 1717.2 1969.8 1715.1 1970.9C1712.9 1972.0 1709.5 1971.6 1707.3 1969.0C1705.0 1966.4 1700.1 1957.9 1701.4 1955.4Z" fill="none" stroke="#6a3a9a" stroke-width="1.0" stroke-linejoin="round"/>
<path d="M1702.4 1980.4C1705.6 1980.8 1710.8 1989.7 1712.0 1993.3C1713.3 1996.8 1712.7 2000.6 1709.9 2001.8C1707.0 2003.1 1697.8 2002.6 1694.9 2000.8C1692.1 1999.0 1691.5 1994.5 1692.8 1991.1C1694.0 1987.8 1699.2 1980.1 1702.4 1980.4Z" fill="none" stroke="#8b44a8" stroke-width="0.9" stroke-linejoin="round"/>
<path d="M1702.4 1985.1C1704.4 1985.3 1707.7 1991.0 1708.5 1993.3C1709.3 1995.6 1709.0 1997.9 1707.2 1998.7C1705.4 1999.5 1699.5 1999.2 1697.6 1998.0C1695.8 1996.9 1695.5 1994.1 1696.3 1991.9C1697.1 1989.8 1700.4 1984.9 1702.4 1985.1Z" fill="none" stroke="#a850a8" stroke-width="0.9" stroke-linejoin="round"/>
<path d="M1702.4 1989.2C1703.4 1989.3 1705.1 1992.1 1705.5 1993.3C1705.9 1994.4 1705.7 1995.6 1704.8 1996.0C1703.9 1996.4 1700.9 1996.2 1700.0 1995.7C1699.1 1995.1 1698.9 1993.7 1699.3 1992.6C1699.7 1991.5 1701.4 1989.1 1702.4 1989.2Z" fill="none" stroke="#c25a9a" stroke-width="0.9" stroke-linejoin="round"/>
<ellipse cx="1730.6" cy="1979.7" rx="15.56" ry="25.29" fill="none" stroke="#6a3a9a" stroke-width="0.9" transform="rotate(8 1730.6 1979.7)"/>
<ellipse cx="1730.6" cy="1979.7" rx="13.23" ry="21.49" fill="none" stroke="#8b44a8" stroke-width="0.9" transform="rotate(8 1730.6 1979.7)"/>
<ellipse cx="1730.6" cy="1979.7" rx="10.89" ry="17.70" fill="none" stroke="#8b44a8" stroke-width="0.9" transform="rotate(8 1730.6 1979.7)"/>
<ellipse cx="1732.2" cy="1977.3" rx="11.28" ry="20.42" fill="url(#hot)" transform="rotate(5 1732.2 1977.3)"/>
<ellipse cx="1742.7" cy="2012.7" rx="7.39" ry="7.39" fill="none" stroke="#8b44a8" stroke-width="0.9"/>
<ellipse cx="1742.7" cy="2012.7" rx="5.17" ry="5.17" fill="none" stroke="#a850a8" stroke-width="0.9"/>
<ellipse cx="1742.7" cy="2012.7" rx="2.96" ry="2.96" fill="none" stroke="#c25a9a" stroke-width="0.9"/>
<ellipse cx="1742.7" cy="2012.7" rx="6.61" ry="6.61" fill="url(#pur)"/>
<ellipse cx="1681.6" cy="2034.1" rx="7.39" ry="7.39" fill="none" stroke="#6a3a9a" stroke-width="0.9"/>
<ellipse cx="1681.6" cy="2034.1" rx="5.32" ry="5.32" fill="none" stroke="#8b44a8" stroke-width="0.9"/>
<ellipse cx="1681.6" cy="2034.1" rx="3.33" ry="3.33" fill="none" stroke="#8b44a8" stroke-width="0.9"/>
<ellipse cx="1681.6" cy="2034.1" rx="1.48" ry="1.48" fill="none" stroke="#a850a8" stroke-width="0.9"/>
<ellipse cx="1681.6" cy="2034.1" rx="7.39" ry="7.39" fill="url(#pur)"/>
<ellipse cx="1754.9" cy="2013.7" rx="2.92" ry="3.50" fill="#fff" stroke="#271f4a" stroke-width="1.3"/>
<ellipse cx="1651.8" cy="1945.6" rx="7.78" ry="11.67" fill="#d8d6e0" stroke="#271f4a" stroke-width="1.45" transform="rotate(-8 1651.8 1945.6)"/>
<ellipse cx="1651.8" cy="1945.6" rx="3.89" ry="7.78" fill="none" stroke="#43307a" stroke-width="1.15" transform="rotate(-8 1651.8 1945.6)"/>
<path d="M1670.3 1973.8C1671.3 1971.7 1674.7 1968.8 1676.1 1969.0C1677.6 1969.1 1679.4 1972.4 1679.1 1974.8C1678.7 1977.2 1675.7 1982.4 1674.2 1983.6C1672.7 1984.7 1671.0 1983.2 1670.3 1981.6C1669.7 1980.0 1669.3 1975.9 1670.3 1973.8Z" fill="none" stroke="#26262e" stroke-width="1.5" stroke-linejoin="round"/>
<path d="M1732.9 1876.2C1734.8 1876.2 1738.8 1880.3 1738.8 1882.4C1738.8 1884.5 1734.8 1888.6 1732.9 1888.6C1731.1 1888.6 1727.5 1884.5 1727.5 1882.4C1727.5 1880.3 1731.1 1876.2 1732.9 1876.2Z" fill="none" stroke="#26262e" stroke-width="1.6" stroke-linejoin="round"/>
<ellipse cx="1740.3" cy="1912.6" rx="4.28" ry="1.95" fill="none" stroke="#271f4a" stroke-width="1.0"/>
<ellipse cx="1714.5" cy="1943.7" rx="3.50" ry="4.28" fill="none" stroke="#6a3a9a" stroke-width="1.0"/>
<ellipse cx="1722.2" cy="1933.4" rx="1.95" ry="3.50" fill="none" stroke="#6a3a9a" stroke-width="1.0"/>
<ellipse cx="1743.3" cy="1992.9" rx="0.78" ry="0.78" fill="#111"/>
<ellipse cx="1764.1" cy="2003.0" rx="0.58" ry="0.58" fill="#111"/>
</g>
<rect x="1576.0" y="1827.0" width="303.4" height="302.9" fill="none" stroke="#000" stroke-width="1.3"/>
</svg>
<svg style="left:1958.1px;top:1826.4px" width="303.7" height="304.1" viewBox="1958.1 1826.4 303.7 304.1">
<defs><clipPath id="cp1958_1826"><rect x="1958.1" y="1826.4" width="303.7" height="304.1"/></clipPath><clipPath id="sdmc"><path d="M2091.2 1841.6C2094.3 1839.0 2097.7 1839.9 2100.9 1843.5C2104.2 1847.1 2107.7 1856.5 2110.7 1863.0C2113.6 1869.4 2116.2 1875.6 2118.4 1882.4C2120.7 1889.2 2122.2 1897.0 2124.3 1903.8C2126.4 1910.6 2128.5 1916.1 2131.1 1923.3C2133.7 1930.4 2137.7 1938.8 2139.8 1946.6C2142.0 1954.4 2142.8 1961.8 2143.7 1969.9C2144.7 1978.0 2145.0 1986.8 2145.7 1995.2C2146.3 2003.7 2147.1 2012.4 2147.6 2020.5C2148.1 2028.6 2148.6 2035.4 2148.6 2043.9C2148.6 2052.3 2147.9 2062.0 2147.6 2071.1C2147.3 2080.2 2147.3 2090.5 2146.7 2098.3C2146.0 2106.1 2146.2 2113.9 2143.7 2117.8C2141.3 2121.7 2135.6 2123.6 2132.1 2121.7C2128.5 2119.7 2125.6 2111.9 2122.3 2106.1C2119.1 2100.3 2115.7 2093.5 2112.6 2086.6C2109.5 2079.8 2106.6 2072.7 2103.9 2065.3C2101.1 2057.8 2098.8 2049.0 2096.1 2041.9C2093.3 2034.8 2089.8 2029.6 2087.3 2022.5C2084.9 2015.3 2083.3 2006.9 2081.5 1999.1C2079.7 1991.3 2078.2 1983.9 2076.6 1975.8C2075.0 1967.7 2072.7 1958.6 2071.8 1950.5C2070.8 1942.4 2070.5 1934.9 2070.8 1927.1C2071.1 1919.4 2072.6 1911.3 2073.7 1903.8C2074.8 1896.3 2076.1 1889.9 2077.6 1882.4C2079.1 1875.0 2080.2 1865.9 2082.5 1859.1C2084.7 1852.3 2088.1 1844.2 2091.2 1841.6Z"/></clipPath><filter id="sdmb"><feGaussianBlur stdDeviation="3"/></filter></defs>
<rect x="1958.1" y="1826.4" width="303.7" height="304.1" fill="#555"/>
<g clip-path="url(#cp1958_1826)">
<path d="M2085.4 1835.7C2089.4 1831.8 2096.4 1830.5 2100.9 1833.8C2105.5 1837.0 2109.0 1848.0 2112.6 1855.2C2116.2 1862.3 2119.7 1869.1 2122.3 1876.6C2124.9 1884.0 2125.9 1892.8 2128.2 1899.9C2130.4 1907.0 2133.0 1912.2 2136.0 1919.4C2138.9 1926.5 2143.4 1934.9 2145.7 1942.7C2147.9 1950.5 2148.6 1957.9 2149.6 1966.1C2150.5 1974.2 2150.9 1982.9 2151.5 1991.3C2152.2 1999.8 2153.0 2008.5 2153.5 2016.6C2153.9 2024.7 2154.4 2031.2 2154.4 2040.0C2154.4 2048.7 2153.6 2059.4 2153.5 2069.1C2153.3 2078.9 2153.1 2087.0 2153.5 2098.3C2153.8 2109.7 2159.6 2130.7 2155.4 2137.2C2151.2 2143.7 2134.3 2141.1 2128.2 2137.2C2122.0 2133.3 2121.7 2121.0 2118.4 2113.9C2115.2 2106.7 2112.0 2101.9 2108.7 2094.4C2105.5 2087.0 2101.9 2077.2 2099.0 2069.1C2096.1 2061.0 2094.1 2053.3 2091.2 2045.8C2088.3 2038.3 2084.1 2031.9 2081.5 2024.4C2078.9 2016.9 2077.4 2008.8 2075.7 2001.1C2073.9 1993.3 2072.4 1985.8 2070.8 1977.7C2069.2 1969.6 2066.9 1960.9 2065.9 1952.4C2065.0 1944.0 2064.6 1935.3 2065.0 1927.1C2065.3 1919.0 2066.7 1911.6 2067.9 1903.8C2069.0 1896.0 2070.3 1888.2 2071.8 1880.5C2073.2 1872.7 2074.4 1864.6 2076.6 1857.1C2078.9 1849.7 2081.3 1839.6 2085.4 1835.7Z" fill="#f6f6f6" filter="url(#spkM)"/>
<g clip-path="url(#sdmc)"><g filter="url(#sdmb)">
<path d="M2091.2 1841.6C2094.3 1839.0 2097.7 1839.9 2100.9 1843.5C2104.2 1847.1 2107.7 1856.5 2110.7 1863.0C2113.6 1869.4 2116.2 1875.6 2118.4 1882.4C2120.7 1889.2 2122.2 1897.0 2124.3 1903.8C2126.4 1910.6 2128.5 1916.1 2131.1 1923.3C2133.7 1930.4 2137.7 1938.8 2139.8 1946.6C2142.0 1954.4 2142.8 1961.8 2143.7 1969.9C2144.7 1978.0 2145.0 1986.8 2145.7 1995.2C2146.3 2003.7 2147.1 2012.4 2147.6 2020.5C2148.1 2028.6 2148.6 2035.4 2148.6 2043.9C2148.6 2052.3 2147.9 2062.0 2147.6 2071.1C2147.3 2080.2 2147.3 2090.5 2146.7 2098.3C2146.0 2106.1 2146.2 2113.9 2143.7 2117.8C2141.3 2121.7 2135.6 2123.6 2132.1 2121.7C2128.5 2119.7 2125.6 2111.9 2122.3 2106.1C2119.1 2100.3 2115.7 2093.5 2112.6 2086.6C2109.5 2079.8 2106.6 2072.7 2103.9 2065.3C2101.1 2057.8 2098.8 2049.0 2096.1 2041.9C2093.3 2034.8 2089.8 2029.6 2087.3 2022.5C2084.9 2015.3 2083.3 2006.9 2081.5 1999.1C2079.7 1991.3 2078.2 1983.9 2076.6 1975.8C2075.0 1967.7 2072.7 1958.6 2071.8 1950.5C2070.8 1942.4 2070.5 1934.9 2070.8 1927.1C2071.1 1919.4 2072.6 1911.3 2073.7 1903.8C2074.8 1896.3 2076.1 1889.9 2077.6 1882.4C2079.1 1875.0 2080.2 1865.9 2082.5 1859.1C2084.7 1852.3 2088.1 1844.2 2091.2 1841.6Z" fill="#bdbdbd" stroke="none" stroke-width="0" stroke-linejoin="round"/>
<path d="M2091.2 1843.5C2093.5 1848.7 2101.3 1863.0 2104.8 1874.6C2108.4 1886.3 2111.0 1898.9 2112.6 1913.5C2114.2 1928.1 2113.6 1946.0 2114.6 1962.2C2115.5 1978.4 2116.2 1994.6 2118.4 2010.8C2120.7 2027.0 2124.9 2043.2 2128.2 2059.4C2131.4 2075.6 2136.3 2099.9 2137.9 2108.0" fill="none" stroke="#9c9c9c" stroke-width="33.067496595993" stroke-linejoin="round" opacity="0.8"/>
<path d="M2091.2 1843.5C2093.5 1848.7 2101.3 1863.0 2104.8 1874.6C2108.4 1886.3 2111.0 1898.9 2112.6 1913.5C2114.2 1928.1 2113.6 1946.0 2114.6 1962.2C2115.5 1978.4 2116.2 1994.6 2118.4 2010.8C2120.7 2027.0 2124.9 2043.2 2128.2 2059.4C2131.4 2075.6 2136.3 2099.9 2137.9 2108.0" fill="none" stroke="#858585" stroke-width="17.50632172729041" stroke-linejoin="round" opacity="0.7"/>
</g></g>
<path d="M2106.8 1822.1C2108.1 1823.4 2104.5 1832.5 2104.8 1837.7C2105.2 1842.9 2106.8 1847.7 2108.7 1853.2C2110.7 1858.7 2113.6 1867.2 2116.5 1870.7C2119.4 1874.3 2121.7 1873.7 2126.2 1874.6C2130.8 1875.6 2138.5 1875.3 2143.7 1876.6C2148.9 1877.9 2154.6 1877.9 2157.4 1882.4C2160.1 1886.9 2159.9 1896.3 2160.3 1903.8C2160.6 1911.3 2160.1 1920.0 2159.3 1927.1C2158.5 1934.3 2157.0 1940.8 2155.4 1946.6C2153.8 1952.4 2150.5 1955.7 2149.6 1962.2C2148.6 1968.6 2149.2 1977.4 2149.6 1985.5C2149.9 1993.6 2151.0 2001.7 2151.5 2010.8C2152.0 2019.9 2152.5 2030.2 2152.5 2040.0C2152.5 2049.7 2152.0 2059.4 2151.5 2069.1C2151.0 2078.9 2150.5 2090.9 2149.6 2098.3C2148.6 2105.8 2147.9 2110.6 2145.7 2113.9C2143.4 2117.1 2139.5 2119.1 2136.0 2117.8C2132.4 2116.5 2127.8 2111.3 2124.3 2106.1C2120.7 2100.9 2117.8 2093.8 2114.6 2086.6C2111.3 2079.5 2107.7 2071.1 2104.8 2063.3C2101.9 2055.5 2100.3 2046.4 2097.1 2040.0C2093.8 2033.5 2088.5 2028.9 2085.4 2024.4C2082.3 2019.9 2080.2 2017.3 2078.6 2012.7C2077.0 2008.2 2077.9 1999.8 2075.7 1997.2C2073.4 1994.6 2066.9 1998.0 2065.0 1997.2C2063.0 1996.4 2062.8 1993.9 2064.0 1992.3C2065.1 1990.7 2070.8 1990.9 2071.8 1987.4C2072.7 1984.0 2070.5 1977.7 2069.8 1971.9C2069.2 1966.1 2068.0 1959.2 2067.9 1952.4C2067.7 1945.6 2068.4 1938.2 2068.8 1931.0C2069.3 1923.9 2070.0 1916.4 2070.8 1909.6C2071.6 1902.8 2072.6 1897.0 2073.7 1890.2C2074.8 1883.4 2076.3 1875.6 2077.6 1868.8C2078.9 1862.0 2079.9 1854.5 2081.5 1849.3C2083.1 1844.2 2084.7 1840.9 2087.3 1837.7C2089.9 1834.4 2093.8 1832.5 2097.1 1829.9C2100.3 1827.3 2105.5 1820.8 2106.8 1822.1Z" fill="none" stroke="#26262e" stroke-width="1.5" stroke-linejoin="round"/>
<path d="M2134.0 1901.9C2134.3 1901.9 2137.4 1915.8 2139.8 1919.4C2142.3 1922.9 2147.1 1921.0 2148.6 1923.3C2150.1 1925.5 2149.4 1931.4 2148.6 1933.0C2147.8 1934.6 2145.5 1935.3 2143.7 1933.0C2142.0 1930.7 2139.5 1924.6 2137.9 1919.4C2136.3 1914.2 2133.7 1901.9 2134.0 1901.9Z" fill="none" stroke="#26262e" stroke-width="1.5" stroke-linejoin="round"/>
<path d="M2063.0 1849.3C2064.5 1847.2 2067.4 1847.1 2068.8 1848.4C2070.3 1849.7 2071.6 1854.0 2071.8 1857.1C2071.9 1860.2 2071.3 1865.1 2069.8 1866.8C2068.4 1868.6 2064.6 1868.8 2063.0 1867.8C2061.4 1866.8 2060.1 1864.1 2060.1 1861.0C2060.1 1857.9 2061.6 1851.4 2063.0 1849.3Z" fill="none" stroke="#26262e" stroke-width="1.3" stroke-linejoin="round"/>
<path d="M2093.2 1839.6C2094.8 1839.3 2096.7 1843.2 2099.0 1847.4C2101.3 1851.6 2102.9 1859.7 2106.8 1864.9C2110.7 1870.1 2119.4 1874.0 2122.3 1878.5C2125.3 1883.1 2124.3 1887.9 2124.3 1892.1C2124.3 1896.3 2121.4 1898.6 2122.3 1903.8C2123.3 1909.0 2127.5 1916.1 2130.1 1923.3C2132.7 1930.4 2136.0 1938.5 2137.9 1946.6C2139.8 1954.7 2140.8 1962.8 2141.8 1971.9C2142.8 1981.0 2142.9 1991.3 2143.7 2001.1C2144.5 2010.8 2145.8 2020.5 2146.7 2030.2C2147.5 2040.0 2148.3 2049.7 2148.6 2059.4C2148.9 2069.1 2149.4 2080.5 2148.6 2088.6C2147.8 2096.7 2145.8 2104.2 2143.7 2108.0C2141.6 2111.9 2138.5 2113.6 2136.0 2111.9C2133.4 2110.3 2131.1 2103.8 2128.2 2098.3C2125.3 2092.8 2121.7 2086.0 2118.4 2078.9C2115.2 2071.7 2111.6 2062.7 2108.7 2055.5C2105.8 2048.4 2103.9 2041.9 2100.9 2036.1C2098.0 2030.2 2094.1 2025.7 2091.2 2020.5C2088.3 2015.3 2085.1 2010.8 2083.4 2005.0C2081.8 1999.1 2082.5 1992.6 2081.5 1985.5C2080.5 1978.4 2078.6 1970.6 2077.6 1962.2C2076.6 1953.7 2075.7 1943.4 2075.7 1934.9C2075.7 1926.5 2077.6 1917.4 2077.6 1911.6C2077.6 1905.8 2075.0 1904.5 2075.7 1899.9C2076.3 1895.4 2079.5 1890.2 2081.5 1884.4C2083.4 1878.5 2086.0 1870.7 2087.3 1864.9C2088.6 1859.1 2088.3 1853.6 2089.3 1849.3C2090.2 1845.1 2091.5 1839.9 2093.2 1839.6Z" fill="none" stroke="#6a3a9a" stroke-width="1.15" stroke-linejoin="round"/>
<path d="M2092.8 1841.5C2094.2 1841.2 2095.9 1845.0 2098.0 1849.2C2100.1 1853.3 2101.7 1861.3 2105.1 1866.4C2108.6 1871.5 2116.2 1875.4 2118.8 1879.9C2121.5 1884.3 2120.7 1889.1 2120.9 1893.3C2121.0 1897.4 2118.5 1899.7 2119.5 1904.8C2120.4 1909.9 2124.2 1916.9 2126.6 1924.0C2129.0 1931.0 2132.0 1939.0 2133.9 1947.0C2135.8 1955.0 2136.8 1963.0 2137.9 1971.9C2138.9 1980.9 2139.3 1991.1 2140.3 2000.7C2141.2 2010.3 2142.6 2019.9 2143.5 2029.5C2144.4 2039.0 2145.4 2048.6 2145.9 2058.2C2146.4 2067.8 2147.1 2079.0 2146.6 2087.0C2146.1 2095.0 2144.6 2102.3 2142.9 2106.2C2141.2 2110.0 2138.6 2111.6 2136.3 2110.0C2134.0 2108.4 2131.9 2102.0 2129.3 2096.6C2126.6 2091.1 2123.4 2084.4 2120.4 2077.4C2117.5 2070.4 2114.2 2061.4 2111.5 2054.4C2108.8 2047.4 2107.0 2041.0 2104.3 2035.2C2101.7 2029.5 2098.2 2025.0 2095.6 2019.9C2092.9 2014.7 2090.0 2010.3 2088.5 2004.5C2087.0 1998.8 2087.4 1992.4 2086.3 1985.3C2085.3 1978.3 2083.5 1970.6 2082.4 1962.3C2081.4 1954.0 2080.3 1943.8 2080.1 1935.5C2079.9 1927.2 2081.3 1918.2 2081.2 1912.5C2081.0 1906.7 2078.8 1905.4 2079.2 1901.0C2079.7 1896.5 2082.3 1891.4 2083.9 1885.6C2085.4 1879.9 2087.4 1872.2 2088.4 1866.4C2089.4 1860.7 2089.0 1855.2 2089.7 1851.1C2090.4 1846.9 2091.4 1841.8 2092.8 1841.5Z" fill="none" stroke="#8b44a8" stroke-width="1.15" stroke-linejoin="round"/>
<path d="M2092.4 1843.4C2093.6 1843.1 2095.2 1846.8 2097.0 1850.9C2098.9 1855.0 2100.4 1862.9 2103.5 1868.0C2106.5 1873.0 2113.0 1876.8 2115.3 1881.2C2117.7 1885.6 2117.2 1890.3 2117.4 1894.4C2117.6 1898.5 2115.6 1900.7 2116.6 1905.8C2117.6 1910.8 2120.9 1917.7 2123.2 1924.7C2125.4 1931.6 2128.1 1939.5 2129.9 1947.4C2131.7 1955.2 2132.8 1963.1 2134.0 1971.9C2135.1 1980.8 2135.7 1990.8 2136.8 2000.3C2137.9 2009.8 2139.3 2019.2 2140.3 2028.7C2141.4 2038.1 2142.5 2047.6 2143.2 2057.0C2143.9 2066.5 2144.8 2077.5 2144.6 2085.4C2144.4 2093.3 2143.4 2100.5 2142.1 2104.3C2140.7 2108.1 2138.6 2109.6 2136.7 2108.1C2134.7 2106.5 2132.8 2100.2 2130.4 2094.8C2128.0 2089.5 2125.1 2082.9 2122.4 2075.9C2119.7 2069.0 2116.7 2060.2 2114.3 2053.2C2111.8 2046.3 2110.1 2040.0 2107.7 2034.3C2105.3 2028.7 2102.3 2024.2 2099.9 2019.2C2097.6 2014.2 2095.0 2009.8 2093.6 2004.1C2092.1 1998.4 2092.3 1992.1 2091.2 1985.2C2090.2 1978.2 2088.4 1970.7 2087.3 1962.5C2086.1 1954.3 2084.9 1944.2 2084.5 1936.0C2084.1 1927.8 2085.1 1919.0 2084.8 1913.3C2084.5 1907.7 2082.5 1906.4 2082.8 1902.0C2083.0 1897.6 2085.1 1892.5 2086.2 1886.9C2087.3 1881.2 2088.8 1873.6 2089.5 1868.0C2090.1 1862.3 2089.6 1856.9 2090.1 1852.8C2090.6 1848.7 2091.3 1843.7 2092.4 1843.4Z" fill="none" stroke="#8b44a8" stroke-width="1.15" stroke-linejoin="round"/>
<path d="M2092.1 1845.3C2093.0 1844.9 2094.4 1848.7 2096.0 1852.7C2097.6 1856.7 2099.2 1864.5 2101.8 1869.5C2104.5 1874.4 2109.8 1878.2 2111.9 1882.5C2113.9 1886.9 2113.7 1891.5 2114.0 1895.6C2114.3 1899.6 2112.8 1901.8 2113.7 1906.7C2114.7 1911.7 2117.6 1918.5 2119.7 1925.4C2121.7 1932.2 2124.2 1940.0 2125.9 1947.7C2127.6 1955.5 2128.8 1963.3 2130.0 1972.0C2131.3 1980.7 2132.1 1990.6 2133.3 1999.9C2134.5 2009.2 2136.0 2018.6 2137.2 2027.9C2138.4 2037.2 2139.5 2046.5 2140.5 2055.8C2141.4 2065.1 2142.5 2076.0 2142.6 2083.8C2142.7 2091.5 2142.2 2098.7 2141.2 2102.4C2140.3 2106.1 2138.6 2107.7 2137.0 2106.1C2135.4 2104.6 2133.6 2098.4 2131.5 2093.1C2129.4 2087.8 2126.8 2081.3 2124.4 2074.5C2122.0 2067.6 2119.3 2058.9 2117.0 2052.1C2114.8 2045.3 2113.2 2039.1 2111.1 2033.5C2109.0 2027.9 2106.4 2023.5 2104.3 2018.6C2102.2 2013.6 2100.0 2009.2 2098.6 2003.6C2097.3 1998.1 2097.2 1991.8 2096.1 1985.0C2095.0 1978.2 2093.3 1970.7 2092.1 1962.7C2090.9 1954.6 2089.6 1944.6 2088.9 1936.6C2088.3 1928.5 2088.8 1919.8 2088.4 1914.2C2087.9 1908.6 2086.3 1907.4 2086.4 1903.0C2086.4 1898.7 2087.9 1893.7 2088.6 1888.1C2089.3 1882.5 2090.2 1875.1 2090.5 1869.5C2090.9 1863.9 2090.3 1858.6 2090.5 1854.6C2090.8 1850.5 2091.1 1845.6 2092.1 1845.3Z" fill="none" stroke="#a850a8" stroke-width="1.15" stroke-linejoin="round"/>
<path d="M2091.7 1847.1C2092.4 1846.8 2093.6 1850.5 2095.0 1854.5C2096.4 1858.5 2097.9 1866.1 2100.2 1871.0C2102.4 1875.9 2106.6 1879.6 2108.4 1883.9C2110.1 1888.1 2110.1 1892.7 2110.6 1896.7C2111.0 1900.7 2109.9 1902.8 2110.9 1907.7C2111.8 1912.6 2114.3 1919.4 2116.2 1926.1C2118.0 1932.8 2120.3 1940.5 2121.9 1948.1C2123.6 1955.8 2124.8 1963.4 2126.1 1972.0C2127.4 1980.6 2128.5 1990.4 2129.9 1999.5C2131.2 2008.7 2132.7 2017.9 2134.0 2027.1C2135.3 2036.3 2136.6 2045.4 2137.7 2054.6C2138.8 2063.8 2140.2 2074.5 2140.6 2082.2C2141.1 2089.8 2140.9 2096.9 2140.4 2100.5C2139.9 2104.2 2138.7 2105.7 2137.4 2104.2C2136.1 2102.7 2134.4 2096.6 2132.6 2091.3C2130.8 2086.1 2128.5 2079.7 2126.4 2073.0C2124.3 2066.3 2121.8 2057.7 2119.8 2051.0C2117.8 2044.2 2116.3 2038.1 2114.5 2032.6C2112.6 2027.1 2110.5 2022.8 2108.7 2017.9C2106.9 2013.0 2105.0 2008.7 2103.7 2003.2C2102.4 1997.7 2102.1 1991.6 2100.9 1984.8C2099.8 1978.1 2098.2 1970.8 2096.9 1962.8C2095.7 1954.9 2094.2 1945.1 2093.4 1937.1C2092.5 1929.1 2092.5 1920.6 2091.9 1915.1C2091.4 1909.6 2090.1 1908.3 2089.9 1904.1C2089.8 1899.8 2090.7 1894.9 2091.0 1889.4C2091.2 1883.9 2091.6 1876.5 2091.6 1871.0C2091.6 1865.5 2090.9 1860.3 2090.9 1856.3C2090.9 1852.3 2091.0 1847.4 2091.7 1847.1Z" fill="none" stroke="#a850a8" stroke-width="1.15" stroke-linejoin="round"/>
<ellipse cx="2084.4" cy="1902.8" rx="10.11" ry="10.11" fill="url(#hot2)"/>
<ellipse cx="2084.4" cy="1902.8" rx="7.00" ry="7.78" fill="none" stroke="#8b44a8" stroke-width="0.9"/>
<ellipse cx="2084.4" cy="1902.8" rx="4.55" ry="5.06" fill="none" stroke="#a850a8" stroke-width="0.9"/>
<ellipse cx="2112.6" cy="1968.0" rx="12.84" ry="38.90" fill="none" stroke="#6a3a9a" stroke-width="0.9" transform="rotate(-4 2112.6 1968.0)"/>
<ellipse cx="2112.6" cy="1968.0" rx="10.27" ry="31.12" fill="none" stroke="#8b44a8" stroke-width="0.9" transform="rotate(-4 2112.6 1968.0)"/>
<ellipse cx="2112.2" cy="1969.0" rx="16.73" ry="46.68" fill="url(#hot2)" transform="rotate(-4 2112.2 1969.0)"/>
<ellipse cx="2113.8" cy="1972.9" rx="10.50" ry="32.09" fill="url(#hot)" transform="rotate(-5 2113.8 1972.9)"/>
<path d="M2106.4 1954.4C2107.1 1955.4 2109.1 1958.9 2110.7 1960.2C2112.2 1961.5 2114.7 1961.8 2115.5 1962.2" fill="none" stroke="#1a0a10" stroke-width="1.0" stroke-linejoin="round"/>
<path d="M2106.4 1958.7C2107.1 1959.6 2109.1 1963.2 2110.7 1964.5C2112.2 1965.8 2114.7 1966.1 2115.5 1966.4" fill="none" stroke="#1a0a10" stroke-width="1.0" stroke-linejoin="round"/>
<path d="M2106.4 1962.9C2107.1 1963.9 2109.1 1967.5 2110.7 1968.8C2112.2 1970.1 2114.7 1970.4 2115.5 1970.7" fill="none" stroke="#1a0a10" stroke-width="1.0" stroke-linejoin="round"/>
<path d="M2106.4 1967.2C2107.1 1968.2 2109.1 1971.8 2110.7 1973.1C2112.2 1974.3 2114.7 1974.7 2115.5 1975.0" fill="none" stroke="#1a0a10" stroke-width="1.0" stroke-linejoin="round"/>
<path d="M2105.8 1962.2C2106.5 1961.2 2110.5 1966.1 2110.7 1968.0C2110.8 1969.9 2107.6 1974.8 2106.8 1973.8C2106.0 1972.9 2105.2 1963.1 2105.8 1962.2Z" fill="#1a0a10" stroke="#1a0a10" stroke-width="2.2" stroke-linejoin="round"/>
<ellipse cx="2113.6" cy="1884.4" rx="4.86" ry="4.28" fill="none" stroke="#c25a9a" stroke-width="1.0"/>
<ellipse cx="2096.1" cy="1882.4" rx="2.72" ry="3.50" fill="none" stroke="#c25a9a" stroke-width="1.0"/>
<ellipse cx="2134.0" cy="1955.4" rx="3.31" ry="4.86" fill="none" stroke="#c25a9a" stroke-width="1.0"/>
<ellipse cx="2116.5" cy="2022.5" rx="4.67" ry="7.00" fill="none" stroke="#c25a9a" stroke-width="1.0"/>
<ellipse cx="2135.0" cy="2088.6" rx="2.72" ry="9.73" fill="none" stroke="#c25a9a" stroke-width="1.0"/>
<ellipse cx="2104.8" cy="1921.3" rx="4.28" ry="5.84" fill="none" stroke="#c25a9a" stroke-width="1.0"/>
<path d="M2124.3 2001.1C2124.4 2003.0 2124.4 2009.5 2125.3 2012.7C2126.1 2016.0 2127.5 2019.9 2129.1 2020.5C2130.8 2021.2 2133.8 2019.9 2135.0 2016.6C2136.1 2013.4 2135.8 2003.7 2136.0 2001.1" fill="none" stroke="#a850a8" stroke-width="1.0" stroke-linejoin="round"/>
<path d="M2137.9 2053.6C2136.3 2053.3 2130.8 2050.7 2128.2 2051.6C2125.6 2052.6 2122.3 2056.2 2122.3 2059.4C2122.3 2062.7 2125.6 2068.2 2128.2 2071.1C2130.8 2074.0 2136.3 2076.0 2137.9 2076.9" fill="none" stroke="#a850a8" stroke-width="1.0" stroke-linejoin="round"/>
<path d="M2113.6 2121.7C2113.9 2123.0 2114.7 2129.1 2115.5 2129.4C2116.3 2129.8 2118.0 2124.6 2118.4 2123.6" fill="none" stroke="#26262e" stroke-width="1.3" stroke-linejoin="round"/>
</g>
<rect x="1958.6999999999998" y="1827.0" width="302.5" height="302.9" fill="none" stroke="#000" stroke-width="1.3"/>
</svg>
<svg style="left:2405.5px;top:1023.4px" width="212.3" height="212.3" viewBox="2405.5 1023.4 212.3 212.3">
<defs><clipPath id="cp2405_1023"><rect x="2405.5" y="1023.4" width="212.3" height="212.3"/></clipPath><filter id="cb"><feGaussianBlur stdDeviation="1.3"/></filter></defs>
<rect x="2405.5" y="1023.4" width="212.3" height="212.3" fill="#555"/>
<g clip-path="url(#cp2405_1023)">
<path d="M2448.5 1009.4C2464.8 1003.4 2509.9 1004.0 2527.8 1009.2C2545.7 1014.4 2546.6 1032.0 2555.9 1040.8C2565.2 1049.5 2575.7 1054.1 2583.9 1061.8C2592.0 1069.5 2597.4 1079.6 2604.7 1087.1C2612.1 1094.5 2624.2 1094.6 2628.0 1106.7C2631.9 1118.8 2630.7 1147.3 2628.0 1159.6C2625.2 1171.9 2617.7 1174.0 2611.4 1180.6C2605.2 1187.1 2598.8 1193.7 2590.7 1198.8C2582.6 1204.0 2573.3 1209.1 2562.9 1211.6C2552.4 1214.1 2538.5 1214.7 2528.0 1214.1C2517.5 1213.5 2507.8 1210.2 2499.8 1208.0C2491.8 1205.8 2485.7 1203.2 2480.0 1201.1C2474.4 1198.9 2470.9 1198.7 2465.9 1195.4C2461.0 1192.1 2456.5 1187.2 2450.4 1181.3C2444.3 1175.4 2435.6 1167.1 2429.4 1160.0C2423.2 1152.9 2418.4 1145.9 2412.9 1138.8C2407.4 1131.8 2399.3 1126.4 2396.6 1117.8C2393.9 1109.2 2394.0 1095.8 2396.7 1087.2C2399.5 1078.6 2407.8 1073.2 2413.4 1066.2C2418.9 1059.2 2424.3 1054.7 2430.1 1045.3C2436.0 1035.8 2432.2 1015.5 2448.5 1009.4Z" fill="#fff" filter="url(#spkX)"/>
<ellipse cx="2512.3" cy="1130.3" rx="57.05" ry="57.05" fill="url(#gry2)" opacity="0.5"/>
<ellipse cx="2512.3" cy="1130.3" rx="23.09" ry="23.09" fill="url(#gry)" opacity="0.6"/>
<ellipse cx="2542.5" cy="1133.3" rx="8.15" ry="8.15" fill="url(#blk)"/>
<ellipse cx="2514.4" cy="1044.1" rx="6.79" ry="6.79" fill="url(#blk)" opacity="0.9"/>
<path d="M2458.7 1032.5C2460.0 1030.8 2460.1 1029.7 2464.8 1029.1C2469.4 1028.5 2482.0 1028.1 2486.5 1029.1C2491.0 1030.1 2491.9 1032.6 2491.9 1035.2C2491.9 1037.8 2488.8 1041.6 2486.5 1044.7C2484.2 1047.9 2479.3 1052.0 2478.4 1054.2C2477.4 1056.5 2479.3 1057.4 2481.1 1058.3C2482.9 1059.2 2487.8 1058.3 2489.2 1059.7C2490.7 1061.0 2491.3 1065.0 2489.9 1066.5C2488.5 1067.9 2482.5 1067.7 2481.1 1068.5C2479.6 1069.3 2479.3 1070.5 2481.1 1071.2C2482.9 1071.9 2488.3 1072.1 2491.9 1072.6C2495.6 1073.0 2500.1 1074.4 2502.8 1073.9C2505.5 1073.5 2506.4 1069.9 2508.2 1069.9C2510.1 1069.9 2511.0 1073.0 2513.7 1073.9C2516.4 1074.8 2520.9 1074.3 2524.5 1075.3C2528.2 1076.3 2532.2 1079.6 2535.4 1080.1C2538.6 1080.5 2541.3 1077.1 2543.6 1078.0C2545.8 1078.9 2546.7 1083.7 2549.0 1085.5C2551.3 1087.3 2554.4 1088.1 2557.1 1088.9C2559.9 1089.7 2563.5 1088.5 2565.3 1090.2C2567.1 1091.9 2566.7 1095.8 2568.0 1099.1C2569.4 1102.4 2572.1 1106.8 2573.4 1109.9C2574.8 1113.1 2574.1 1115.4 2576.2 1118.1C2578.2 1120.8 2584.5 1122.8 2585.7 1126.2C2586.8 1129.6 2583.9 1134.2 2583.0 1138.5C2582.0 1142.8 2581.8 1147.7 2580.2 1152.0C2578.7 1156.4 2575.7 1161.6 2573.4 1164.3C2571.2 1167.0 2567.8 1166.5 2566.7 1168.4C2565.5 1170.2 2568.7 1173.6 2566.7 1175.1C2564.6 1176.7 2558.0 1176.7 2554.4 1177.9C2550.8 1179.0 2548.1 1180.7 2544.9 1181.9C2541.7 1183.2 2538.6 1185.1 2535.4 1185.3C2532.2 1185.6 2528.4 1184.3 2525.9 1183.3C2523.4 1182.3 2522.3 1179.9 2520.5 1179.2C2518.7 1178.5 2516.8 1180.6 2515.0 1179.2C2513.2 1177.9 2511.4 1171.7 2509.6 1171.1C2507.8 1170.4 2506.2 1174.5 2504.2 1175.1C2502.1 1175.8 2499.9 1176.0 2497.4 1175.1C2494.9 1174.2 2492.4 1171.1 2489.2 1169.7C2486.1 1168.4 2481.3 1169.0 2478.4 1167.0C2475.4 1165.0 2473.8 1160.4 2471.6 1157.5C2469.3 1154.5 2467.3 1151.8 2464.8 1149.3C2462.3 1146.8 2458.7 1145.5 2456.6 1142.5C2454.6 1139.6 2452.8 1134.6 2452.5 1131.7C2452.3 1128.7 2455.7 1126.9 2455.3 1124.9C2454.8 1122.8 2451.9 1121.5 2449.8 1119.4C2447.8 1117.4 2443.9 1114.5 2443.0 1112.7C2442.1 1110.8 2442.6 1109.5 2444.4 1108.6C2446.2 1107.7 2452.1 1109.7 2453.9 1107.2C2455.7 1104.7 2455.1 1097.7 2455.3 1093.6C2455.4 1089.6 2454.1 1086.2 2454.6 1082.8C2455.0 1079.4 2456.7 1076.2 2458.0 1073.3C2459.2 1070.3 2460.9 1068.1 2462.1 1065.1C2463.2 1062.2 2465.4 1057.8 2464.8 1055.6C2464.1 1053.5 2459.7 1053.6 2458.0 1052.2C2456.3 1050.8 2454.8 1049.6 2454.6 1047.5C2454.4 1045.3 2455.9 1041.8 2456.6 1039.3C2457.3 1036.8 2457.3 1034.2 2458.7 1032.5Z" fill="none" stroke="#271f4a" stroke-width="1.25" stroke-linejoin="round"/>
<path d="M2513.7 1021.6C2513.0 1023.9 2511.1 1030.7 2509.6 1035.2C2508.1 1039.8 2504.4 1045.9 2504.8 1048.8C2505.3 1051.8 2510.5 1051.5 2512.3 1052.9C2514.1 1054.2 2514.6 1057.6 2515.7 1057.0C2516.8 1056.3 2517.6 1051.1 2519.1 1048.8C2520.6 1046.5 2523.3 1045.9 2524.5 1043.4C2525.8 1040.9 2526.4 1037.5 2526.6 1033.9C2526.8 1030.2 2526.0 1023.7 2525.9 1021.6" fill="none" stroke="#271f4a" stroke-width="1.25" stroke-linejoin="round"/>
<path d="M2478.4 1099.1C2479.4 1096.9 2480.2 1095.0 2483.8 1094.3C2487.4 1093.6 2494.9 1094.5 2500.1 1095.0C2505.3 1095.4 2512.4 1096.4 2515.0 1097.0C2517.6 1097.7 2515.9 1097.8 2515.7 1099.1C2515.5 1100.3 2513.6 1102.5 2513.7 1104.5C2513.8 1106.5 2517.3 1109.8 2516.4 1111.3C2515.5 1112.8 2511.0 1112.9 2508.2 1113.3C2505.5 1113.8 2501.7 1114.8 2500.1 1114.0C2498.5 1113.2 2499.9 1109.9 2498.7 1108.6C2497.6 1107.2 2494.9 1105.6 2493.3 1105.9C2491.7 1106.1 2490.1 1108.4 2489.2 1109.9C2488.3 1111.5 2488.9 1114.0 2487.9 1115.4C2486.8 1116.7 2483.8 1116.7 2483.1 1118.1C2482.4 1119.4 2482.3 1122.5 2483.8 1123.5C2485.3 1124.5 2490.1 1124.9 2491.9 1124.2C2493.8 1123.5 2494.1 1119.6 2494.7 1119.4C2495.2 1119.3 2495.3 1120.4 2495.3 1123.5C2495.3 1126.7 2493.4 1135.3 2494.7 1138.5C2495.9 1141.6 2499.6 1141.7 2502.8 1142.5C2506.0 1143.3 2510.1 1143.9 2513.7 1143.2C2517.3 1142.5 2521.9 1140.2 2524.5 1138.5C2527.1 1136.8 2528.4 1133.5 2529.3 1133.0C2530.2 1132.6 2530.3 1133.9 2530.0 1135.7C2529.6 1137.6 2529.1 1141.6 2527.3 1143.9C2525.4 1146.2 2521.4 1147.5 2519.1 1149.3C2516.8 1151.1 2515.3 1152.7 2513.7 1154.8C2512.1 1156.8 2511.9 1160.4 2509.6 1161.6C2507.3 1162.7 2503.0 1162.2 2500.1 1161.6C2497.1 1160.9 2494.7 1158.8 2491.9 1157.5C2489.2 1156.1 2485.7 1155.4 2483.8 1153.4C2481.9 1151.4 2480.7 1148.9 2480.4 1145.3C2480.1 1141.6 2482.0 1136.2 2481.8 1131.7C2481.5 1127.1 2479.7 1122.2 2479.0 1118.1C2478.4 1114.0 2477.8 1110.4 2477.7 1107.2C2477.6 1104.1 2477.3 1101.2 2478.4 1099.1Z" fill="none" stroke="#271f4a" stroke-width="1.25" stroke-linejoin="round"/>
<path d="M2532.7 1119.4C2534.5 1117.6 2540.2 1116.1 2543.6 1116.7C2547.0 1117.4 2550.4 1121.9 2553.1 1123.5C2555.8 1125.1 2558.6 1124.2 2559.9 1126.2C2561.1 1128.3 2561.2 1133.5 2560.5 1135.7C2559.9 1138.0 2557.4 1139.1 2555.8 1139.8C2554.2 1140.5 2551.7 1141.2 2551.0 1139.8C2550.4 1138.5 2552.3 1134.2 2551.7 1131.7C2551.1 1129.2 2549.0 1126.1 2547.6 1124.9C2546.3 1123.6 2544.7 1123.7 2543.6 1124.2C2542.4 1124.7 2542.7 1127.0 2540.8 1127.6C2539.0 1128.2 2534.0 1129.0 2532.7 1127.6C2531.3 1126.2 2530.9 1121.3 2532.7 1119.4Z" fill="none" stroke="#271f4a" stroke-width="1.25" stroke-linejoin="round"/>
<path d="M2527.9 1099.1C2528.3 1097.7 2529.4 1097.0 2530.7 1097.7C2531.9 1098.4 2533.3 1102.2 2535.4 1103.1C2537.6 1104.1 2542.2 1102.8 2543.6 1103.1C2544.9 1103.5 2546.0 1104.7 2543.6 1105.2C2541.1 1105.6 2531.2 1106.9 2528.6 1105.9C2526.0 1104.8 2527.6 1100.4 2527.9 1099.1Z" fill="none" stroke="#271f4a" stroke-width="1.25" stroke-linejoin="round"/>
<ellipse cx="2494.4" cy="1112.0" rx="1.90" ry="1.90" fill="none" stroke="#43307a" stroke-width="1.1"/>
<ellipse cx="2466.5" cy="1126.2" rx="4.35" ry="5.16" fill="none" stroke="#43307a" stroke-width="1.2"/>
<ellipse cx="2466.5" cy="1126.2" rx="0.68" ry="0.68" fill="#3a2a5a"/>
<path d="M2426.7 1111.3C2427.0 1109.6 2429.6 1107.6 2430.8 1107.5C2432.1 1107.4 2433.8 1109.1 2434.2 1110.6C2434.7 1112.2 2434.3 1115.6 2433.5 1116.7C2432.7 1117.9 2430.6 1118.3 2429.5 1117.4C2428.3 1116.5 2426.5 1112.9 2426.7 1111.3Z" fill="none" stroke="#271f4a" stroke-width="1.25" stroke-linejoin="round"/>
<ellipse cx="2430.1" cy="1132.8" rx="2.72" ry="2.45" fill="none" stroke="#271f4a" stroke-width="1.25"/>
<ellipse cx="2543.6" cy="1147.3" rx="2.99" ry="1.90" fill="none" stroke="#271f4a" stroke-width="1.25"/>
<ellipse cx="2571.8" cy="1154.1" rx="0.68" ry="0.68" fill="#3a2a5a"/>
<ellipse cx="2600.2" cy="1118.5" rx="0.68" ry="0.68" fill="#222"/>
<path d="M2592.5 1162.9C2593.5 1161.6 2596.8 1160.2 2597.2 1160.9C2597.7 1161.6 2595.1 1164.8 2595.2 1167.0C2595.3 1169.1 2597.9 1171.7 2597.9 1173.8C2597.9 1175.8 2596.5 1178.3 2595.2 1179.2C2593.8 1180.1 2591.1 1180.4 2589.7 1179.2C2588.4 1178.1 2586.8 1174.1 2587.0 1172.4C2587.3 1170.7 2590.2 1170.6 2591.1 1169.0C2592.0 1167.4 2591.4 1164.3 2592.5 1162.9Z" fill="none" stroke="#271f4a" stroke-width="1.25" stroke-linejoin="round"/>
<path d="M2576.2 1173.8C2577.3 1172.4 2581.6 1174.2 2583.0 1175.1C2584.3 1176.0 2584.8 1177.0 2584.3 1179.2C2583.9 1181.5 2582.0 1186.7 2580.2 1188.7C2578.4 1190.8 2575.1 1191.3 2573.4 1191.4C2571.7 1191.6 2569.6 1190.8 2570.0 1189.4C2570.5 1188.0 2575.1 1185.9 2576.2 1183.3C2577.2 1180.7 2575.0 1175.1 2576.2 1173.8Z" fill="none" stroke="#271f4a" stroke-width="1.25" stroke-linejoin="round"/>
<path d="M2551.0 1188.0C2551.9 1187.0 2556.8 1186.8 2558.5 1187.4C2560.2 1187.9 2561.3 1189.7 2561.2 1191.4C2561.1 1193.1 2559.2 1197.2 2557.8 1197.6C2556.5 1197.9 2554.2 1195.1 2553.1 1193.5C2551.9 1191.9 2550.1 1189.1 2551.0 1188.0Z" fill="none" stroke="#271f4a" stroke-width="1.25" stroke-linejoin="round"/>
<path d="M2537.4 1196.2C2538.7 1195.7 2545.0 1194.6 2546.3 1194.8C2547.5 1195.1 2546.2 1197.1 2544.9 1197.6C2543.7 1198.0 2540.0 1197.8 2538.8 1197.6C2537.6 1197.3 2536.2 1196.7 2537.4 1196.2Z" fill="none" stroke="#271f4a" stroke-width="1.25" stroke-linejoin="round"/>
<path d="M2604.0 1145.3C2604.8 1144.4 2607.7 1143.9 2608.8 1144.6C2609.8 1145.3 2610.5 1147.9 2610.1 1149.3C2609.8 1150.8 2607.7 1153.3 2606.7 1153.4C2605.7 1153.5 2604.5 1151.4 2604.0 1150.0C2603.6 1148.7 2603.2 1146.2 2604.0 1145.3Z" fill="none" stroke="#271f4a" stroke-width="1.25" stroke-linejoin="round"/>
<path d="M2460.7 1202.3C2460.7 1200.2 2462.3 1198.3 2463.4 1196.9C2464.5 1195.4 2465.9 1193.3 2467.5 1193.5C2469.1 1193.7 2471.1 1197.0 2472.9 1198.2C2474.7 1199.5 2477.3 1199.6 2478.4 1201.0C2479.4 1202.3 2479.5 1204.9 2479.0 1206.4C2478.6 1207.9 2478.2 1209.2 2475.6 1209.8C2473.0 1210.3 2465.9 1211.0 2463.4 1209.8C2460.9 1208.5 2460.7 1204.5 2460.7 1202.3Z" fill="none" stroke="#271f4a" stroke-width="1.25" stroke-linejoin="round"/>
<ellipse cx="2469.9" cy="1203.7" rx="4.35" ry="1.22" fill="none" stroke="#43307a" stroke-width="1.1"/>
<path d="M2442.4 1211.8C2442.9 1210.2 2444.5 1207.9 2445.8 1207.7C2447.0 1207.6 2449.1 1209.6 2449.8 1211.1C2450.5 1212.7 2450.5 1215.8 2449.8 1217.3C2449.1 1218.7 2447.0 1220.0 2445.8 1220.0C2444.5 1220.0 2442.9 1218.6 2442.4 1217.3C2441.8 1215.9 2441.8 1213.4 2442.4 1211.8Z" fill="none" stroke="#271f4a" stroke-width="1.25" stroke-linejoin="round"/>
<path d="M2403.6 1089.6C2404.9 1089.7 2410.0 1089.8 2411.1 1090.2C2412.2 1090.7 2411.7 1091.8 2410.4 1092.3C2409.2 1092.7 2404.8 1092.8 2403.6 1093.0" fill="none" stroke="#271f4a" stroke-width="1.25" stroke-linejoin="round"/>
<path d="M2464.8 1033.9C2466.6 1032.3 2472.0 1031.3 2475.6 1031.2C2479.3 1031.0 2485.4 1031.6 2486.5 1033.2C2487.6 1034.8 2484.0 1037.8 2482.4 1040.7C2480.8 1043.5 2479.0 1049.0 2477.0 1050.2C2475.0 1051.3 2472.2 1049.0 2470.2 1047.5C2468.2 1045.9 2465.7 1042.9 2464.8 1040.7C2463.9 1038.4 2463.0 1035.5 2464.8 1033.9Z" fill="none" stroke="#43307a" stroke-width="0.8" stroke-linejoin="round"/>
<path d="M2466.5 1035.2C2468.0 1034.0 2472.3 1033.1 2475.2 1033.1C2478.1 1033.0 2483.0 1033.4 2483.9 1034.7C2484.8 1036.0 2481.9 1038.4 2480.7 1040.7C2479.4 1042.9 2477.9 1047.4 2476.3 1048.3C2474.7 1049.2 2472.5 1047.4 2470.9 1046.1C2469.3 1044.8 2467.3 1042.5 2466.5 1040.7C2465.8 1038.8 2465.1 1036.5 2466.5 1035.2Z" fill="none" stroke="#6a3a9a" stroke-width="0.8" stroke-linejoin="round"/>
<path d="M2468.3 1036.6C2469.4 1035.6 2472.6 1035.0 2474.8 1035.0C2477.0 1034.9 2480.7 1035.2 2481.3 1036.2C2482.0 1037.1 2479.8 1039.0 2478.9 1040.7C2477.9 1042.4 2476.9 1045.7 2475.6 1046.4C2474.4 1047.0 2472.8 1045.7 2471.6 1044.7C2470.3 1043.8 2468.8 1042.0 2468.3 1040.7C2467.8 1039.3 2467.2 1037.5 2468.3 1036.6Z" fill="none" stroke="#6a3a9a" stroke-width="0.8" stroke-linejoin="round"/>
<path d="M2469.9 1037.8C2470.7 1037.1 2472.9 1036.7 2474.5 1036.7C2476.0 1036.6 2478.5 1036.9 2479.0 1037.5C2479.5 1038.2 2478.0 1039.5 2477.3 1040.7C2476.6 1041.8 2475.9 1044.2 2475.0 1044.7C2474.2 1045.1 2473.0 1044.2 2472.2 1043.5C2471.3 1042.8 2470.3 1041.6 2469.9 1040.7C2469.5 1039.7 2469.1 1038.5 2469.9 1037.8Z" fill="none" stroke="#8b44a8" stroke-width="0.8" stroke-linejoin="round"/>
<path d="M2471.4 1039.0C2471.8 1038.6 2473.2 1038.3 2474.1 1038.3C2475.0 1038.3 2476.5 1038.4 2476.8 1038.8C2477.1 1039.2 2476.2 1040.0 2475.8 1040.7C2475.4 1041.4 2475.0 1042.8 2474.4 1043.0C2473.9 1043.3 2473.3 1042.8 2472.8 1042.4C2472.2 1042.0 2471.6 1041.2 2471.4 1040.7C2471.2 1040.1 2470.9 1039.4 2471.4 1039.0Z" fill="none" stroke="#8b44a8" stroke-width="0.8" stroke-linejoin="round"/>
<path d="M2472.7 1040.0C2472.9 1039.8 2473.4 1039.7 2473.8 1039.7C2474.2 1039.7 2474.8 1039.8 2474.9 1039.9C2475.0 1040.1 2474.6 1040.4 2474.5 1040.7C2474.3 1040.9 2474.1 1041.5 2473.9 1041.6C2473.7 1041.7 2473.5 1041.5 2473.3 1041.3C2473.1 1041.2 2472.8 1040.9 2472.7 1040.7C2472.6 1040.4 2472.5 1040.1 2472.7 1040.0Z" fill="none" stroke="#a850a8" stroke-width="0.8" stroke-linejoin="round"/>
<ellipse cx="2472.9" cy="1040.7" rx="6.11" ry="8.15" fill="url(#pur)"/>
<g transform="rotate(4 2512.0 1129.6)"><g filter="url(#cb)">
<rect x="2501.2" y="1118.8" width="21.7" height="21.7" rx="4.9" fill="#2f1560"/>
<rect x="2502.3" y="1119.9" width="19.6" height="19.6" rx="4.4" fill="#5a1a78"/>
<rect x="2503.6" y="1121.2" width="17.0" height="17.0" rx="3.8" fill="#9a2a70"/>
<rect x="2504.9" y="1122.5" width="14.3" height="14.3" rx="3.2" fill="#d4484a"/>
<rect x="2506.2" y="1123.8" width="11.7" height="11.7" rx="2.6" fill="#f47a20"/>
<rect x="2507.7" y="1125.3" width="8.7" height="8.7" rx="2.0" fill="#fcb01a"/>
<rect x="2509.7" y="1127.2" width="4.8" height="4.8" rx="1.1" fill="#fdf0a0"/>
</g><rect x="2501.2" y="1118.8" width="21.7" height="21.7" rx="4.6" fill="none" stroke="#33195f" stroke-width="1.1"/></g>
</g>
<rect x="2406.1" y="1024.0" width="211.1" height="211.1" fill="none" stroke="#444" stroke-width="1.3"/>
</svg>
<svg style="left:2643.4px;top:1023.4px" width="212.7" height="212.3" viewBox="2643.4 1023.4 212.7 212.3">
<defs><clipPath id="cp2643_1023"><rect x="2643.4" y="1023.4" width="212.7" height="212.3"/></clipPath></defs>
<rect x="2643.4" y="1023.4" width="212.7" height="212.3" fill="#555"/>
<g clip-path="url(#cp2643_1023)">
<path d="M2651.2 1054.2C2652.5 1045.2 2655.5 1052.7 2657.9 1050.2C2660.4 1047.7 2663.4 1042.9 2666.1 1039.3C2668.8 1035.7 2662.5 1030.2 2674.2 1028.4C2686.0 1026.6 2721.6 1026.8 2736.8 1028.4C2751.9 1030.0 2755.5 1033.6 2765.3 1037.9C2775.0 1042.2 2786.3 1047.0 2795.2 1054.2C2804.0 1061.5 2811.7 1073.3 2818.3 1081.4C2824.8 1089.6 2826.7 1094.8 2834.6 1103.2C2842.5 1111.5 2860.6 1120.1 2865.8 1131.7C2871.0 1143.2 2870.1 1161.8 2865.8 1172.5C2861.5 1183.1 2847.3 1187.6 2840.0 1195.6C2832.8 1203.5 2827.1 1211.6 2822.3 1220.0C2817.6 1228.4 2833.9 1241.5 2811.5 1245.8C2789.1 1250.1 2711.2 1251.7 2687.8 1245.8C2664.5 1239.9 2676.3 1220.9 2671.5 1210.5C2666.8 1200.1 2662.9 1191.9 2659.3 1183.3C2655.7 1174.7 2651.4 1172.0 2649.8 1158.9C2648.2 1145.7 2649.6 1122.0 2649.8 1104.5C2650.0 1087.1 2649.8 1063.3 2651.2 1054.2Z" fill="#fff" filter="url(#spkX)"/>
<ellipse cx="2750.3" cy="1131.7" rx="86.96" ry="86.96" fill="url(#gry2)" opacity="0.55"/>
<ellipse cx="2750.3" cy="1131.7" rx="44.84" ry="44.84" fill="url(#gry)" opacity="0.9"/>
<ellipse cx="2655.2" cy="1035.2" rx="11.55" ry="11.55" fill="#f2f2f2"/>
<ellipse cx="2655.2" cy="1035.2" rx="9.51" ry="9.51" fill="url(#blk)"/>
<ellipse cx="2849.5" cy="1130.3" rx="7.07" ry="7.07" fill="#fff"/>
<ellipse cx="2721.1" cy="1063.1" rx="3.80" ry="3.26" fill="url(#blk)" opacity="0.55"/>
<ellipse cx="2777.5" cy="1176.5" rx="3.53" ry="4.08" fill="url(#blk)" opacity="0.3"/>
<ellipse cx="2723.2" cy="1167.0" rx="6.11" ry="4.76" fill="url(#blk)" opacity="0.18"/>
<ellipse cx="2793.8" cy="1109.3" rx="2.17" ry="2.17" fill="url(#blk)" opacity="0.25"/>
<ellipse cx="2736.8" cy="1059.0" rx="2.72" ry="2.72" fill="url(#blk)" opacity="0.15"/>
<ellipse cx="2679.7" cy="1052.2" rx="5.43" ry="5.43" fill="url(#blk)" opacity="0.12"/>
<ellipse cx="2750.3" cy="1130.3" rx="10.33" ry="10.87" fill="none" stroke="#271f4a" stroke-width="1.25"/>
<ellipse cx="2752.4" cy="1131.7" rx="8.15" ry="8.42" fill="none" stroke="#271f4a" stroke-width="1.25" transform="rotate(20 2752.4 1131.7)"/>
<path d="M2746.9 1138.5C2747.5 1139.5 2748.9 1143.5 2750.3 1144.6C2751.8 1145.7 2754.3 1145.8 2755.8 1145.3C2757.2 1144.7 2758.7 1143.7 2759.2 1141.2C2759.6 1138.7 2759.7 1133.2 2758.5 1130.3C2757.2 1127.5 2752.8 1125.2 2751.7 1124.2" fill="none" stroke="#271f4a" stroke-width="1.25" stroke-linejoin="round"/>
<ellipse cx="2753.1" cy="1133.1" rx="8.42" ry="8.42" fill="url(#hot)"/>
<ellipse cx="2852.9" cy="1125.6" rx="6.11" ry="6.52" fill="none" stroke="#43307a" stroke-width="0.9"/>
<ellipse cx="2852.9" cy="1125.6" rx="4.28" ry="4.57" fill="none" stroke="#6a3a9a" stroke-width="0.9"/>
<ellipse cx="2852.9" cy="1125.6" rx="2.45" ry="2.61" fill="none" stroke="#8b44a8" stroke-width="0.9"/>
<ellipse cx="2852.9" cy="1125.6" rx="5.71" ry="5.71" fill="url(#pur)"/>
</g>
<rect x="2644.0" y="1024.0" width="211.5" height="211.1" fill="none" stroke="#444" stroke-width="1.3"/>
</svg>
<svg style="left:2883.1px;top:1023.4px" width="212.3" height="212.3" viewBox="2883.1 1023.4 212.3 212.3">
<defs><clipPath id="cp2883_1023"><rect x="2883.1" y="1023.4" width="212.3" height="212.3"/></clipPath></defs>
<rect x="2883.1" y="1023.4" width="212.3" height="212.3" fill="#555"/>
<g clip-path="url(#cp2883_1023)">
<path d="M2967.1 1048.5C2973.2 1048.8 2983.4 1052.6 2991.8 1054.2C3000.2 1055.8 3009.0 1055.5 3017.6 1058.0C3026.2 1060.6 3036.5 1065.9 3043.5 1069.6C3050.4 1073.2 3054.8 1074.6 3059.1 1079.8C3063.5 1084.9 3066.2 1092.7 3069.4 1100.5C3072.7 1108.3 3076.9 1119.0 3078.7 1126.4C3080.5 1133.7 3081.2 1137.2 3080.1 1144.5C3079.1 1151.9 3076.2 1162.3 3072.4 1170.5C3068.5 1178.8 3062.7 1187.7 3056.8 1194.0C3051.0 1200.3 3044.9 1205.8 3037.3 1208.3C3029.7 1210.8 3019.9 1209.3 3011.2 1209.3C3002.6 1209.2 2993.8 1208.3 2985.3 1207.8C2976.9 1207.4 2967.4 1208.7 2960.7 1206.8C2954.0 1204.9 2949.6 1201.4 2945.1 1196.4C2940.6 1191.4 2937.8 1183.2 2933.7 1176.7C2929.6 1170.2 2924.4 1164.9 2920.7 1157.4C2917.0 1149.9 2912.6 1140.2 2911.4 1131.5C2910.3 1122.9 2911.9 1114.7 2914.0 1105.6C2916.1 1096.5 2919.9 1084.4 2924.3 1077.0C2928.6 1069.6 2934.6 1065.5 2939.8 1061.4C2945.0 1057.3 2950.9 1054.5 2955.4 1052.4C2960.0 1050.2 2961.1 1048.2 2967.1 1048.5Z" fill="#fff" filter="url(#spkX)"/>
<ellipse cx="2991.7" cy="1130.3" rx="70.64" ry="67.92" fill="url(#gry2)" opacity="0.6"/>
<ellipse cx="2991.7" cy="1129.0" rx="40.75" ry="40.75" fill="url(#gry)" opacity="0.95"/>
<ellipse cx="2991.0" cy="1129.2" rx="14.94" ry="15.21" fill="none" stroke="#271f4a" stroke-width="1.25"/>
<path d="M2991.7 1114.3C2995.1 1114.3 2998.8 1115.9 3001.2 1118.1C3003.6 1120.3 3005.5 1124.2 3005.9 1127.6C3006.4 1131.0 3005.6 1135.7 3003.9 1138.5C3002.2 1141.2 2998.7 1143.1 2995.7 1143.9C2992.8 1144.7 2989.2 1144.4 2986.2 1143.2C2983.3 1142.1 2979.7 1139.9 2978.1 1137.1C2976.5 1134.3 2976.3 1129.4 2976.7 1126.2C2977.2 1123.1 2978.3 1120.1 2980.8 1118.1C2983.3 1116.1 2988.3 1114.3 2991.7 1114.3Z" fill="none" stroke="#271f4a" stroke-width="1.25" stroke-linejoin="round"/>
<ellipse cx="2990.3" cy="1130.3" rx="10.60" ry="11.55" fill="none" stroke="#43307a" stroke-width="1.1"/>
<ellipse cx="2990.3" cy="1130.0" rx="11.55" ry="12.90" fill="url(#hot2)"/>
<ellipse cx="2992.4" cy="1130.0" rx="6.11" ry="10.60" fill="url(#hot)"/>
<ellipse cx="2999.8" cy="1083.7" rx="2.99" ry="1.90" fill="none" stroke="#271f4a" stroke-width="1.25"/>
<ellipse cx="2999.8" cy="1083.7" rx="0.82" ry="0.82" fill="#777"/>
<ellipse cx="3028.4" cy="1091.6" rx="5.16" ry="4.89" fill="none" stroke="#271f4a" stroke-width="1.25"/>
<ellipse cx="3034.9" cy="1097.7" rx="1.22" ry="1.22" fill="#221a3a"/>
<ellipse cx="3006.9" cy="1104.8" rx="5.43" ry="5.16" fill="none" stroke="#271f4a" stroke-width="1.25"/>
<ellipse cx="3006.9" cy="1104.8" rx="0.95" ry="0.95" fill="#221a3a"/>
<ellipse cx="3029.0" cy="1082.8" rx="2.99" ry="2.99" fill="url(#blk)" opacity="0.4"/>
<ellipse cx="3071.1" cy="1133.3" rx="2.99" ry="2.99" fill="url(#blk)" opacity="0.3"/>
<path d="M3028.6 1136.8C3029.6 1136.8 3031.5 1139.0 3031.5 1140.1C3031.5 1141.2 3029.6 1143.4 3028.6 1143.4C3027.7 1143.4 3025.9 1141.2 3025.9 1140.1C3025.9 1139.0 3027.7 1136.8 3028.6 1136.8Z" fill="none" stroke="#271f4a" stroke-width="1.25" stroke-linejoin="round"/>
<ellipse cx="3070.9" cy="1144.6" rx="2.04" ry="5.43" fill="none" stroke="#271f4a" stroke-width="1.25" transform="rotate(5 3070.9 1144.6)"/>
<ellipse cx="3042.2" cy="1161.3" rx="1.22" ry="1.22" fill="#221a3a"/>
<path d="M2946.2 1160.9C2946.8 1159.3 2949.8 1155.4 2952.3 1155.4C2954.8 1155.5 2960.9 1159.7 2961.1 1161.3C2961.3 1162.9 2955.8 1164.3 2953.6 1165.0C2951.5 1165.6 2949.4 1165.6 2948.2 1165.0C2947.0 1164.3 2945.5 1162.5 2946.2 1160.9Z" fill="none" stroke="#271f4a" stroke-width="1.25" stroke-linejoin="round"/>
<path d="M2985.8 1156.1C2987.6 1156.1 2990.1 1157.4 2991.0 1158.8C2991.9 1160.3 2991.9 1162.7 2991.0 1165.0C2990.1 1167.2 2987.5 1172.4 2985.8 1172.4C2984.1 1172.4 2981.7 1167.2 2980.8 1165.0C2979.9 1162.7 2979.7 1160.3 2980.5 1158.8C2981.4 1157.4 2984.1 1156.1 2985.8 1156.1Z" fill="none" stroke="#271f4a" stroke-width="1.25" stroke-linejoin="round"/>
<ellipse cx="2985.8" cy="1161.8" rx="1.63" ry="1.77" fill="none" stroke="#43307a" stroke-width="1.1"/>
<ellipse cx="3063.7" cy="1076.0" rx="6.38" ry="6.38" fill="#4a2a6a" stroke="#2a1f4a" stroke-width="1.0"/>
<ellipse cx="3063.7" cy="1076.3" rx="5.43" ry="5.43" fill="url(#pur)"/>
</g>
<rect x="2883.7" y="1024.0" width="211.1" height="211.1" fill="none" stroke="#444" stroke-width="1.3"/>
</svg>
<svg style="left:3120.6px;top:1023.4px" width="212.2" height="212.3" viewBox="3120.6 1023.4 212.2 212.3">
<defs><clipPath id="cp3120_1023"><rect x="3120.6" y="1023.4" width="212.2" height="212.3"/></clipPath><radialGradient id="gd"><stop offset="0" stop-color="#858585"/><stop offset="0.12" stop-color="#9c9c9c"/><stop offset="0.3" stop-color="#b9b9b9"/><stop offset="0.55" stop-color="#d4d4d4"/><stop offset="0.8" stop-color="#e8e8e8"/><stop offset="1" stop-color="#f1f1f1"/></radialGradient></defs>
<rect x="3120.6" y="1023.4" width="212.2" height="212.3" fill="#f1f1f1"/>
<g clip-path="url(#cp3120_1023)">
<ellipse cx="3227.3" cy="1131.7" rx="135.87" ry="135.87" fill="url(#gd)"/>
<ellipse cx="3227.3" cy="1132.4" rx="16.30" ry="18.75" fill="none" stroke="#271f4a" stroke-width="1.25"/>
<path d="M3217.8 1126.3C3218.9 1123.8 3220.8 1120.5 3223.3 1119.5C3225.8 1118.4 3230.5 1118.8 3232.8 1120.1C3235.0 1121.5 3236.4 1124.6 3236.8 1127.6C3237.3 1130.7 3236.8 1135.8 3235.5 1138.5C3234.1 1141.2 3231.2 1143.5 3228.7 1143.9C3226.2 1144.4 3222.5 1142.8 3220.5 1141.2C3218.6 1139.6 3217.2 1136.9 3216.7 1134.4C3216.3 1131.9 3216.7 1128.8 3217.8 1126.3Z" fill="none" stroke="#43307a" stroke-width="1.1" stroke-linejoin="round"/>
<path d="M3219.9 1138.5C3220.7 1139.5 3222.7 1143.8 3224.6 1144.6C3226.5 1145.4 3229.7 1144.3 3231.4 1143.2C3233.1 1142.2 3234.2 1139.3 3234.8 1138.5" fill="none" stroke="#43307a" stroke-width="1.1" stroke-linejoin="round"/>
<ellipse cx="3226.7" cy="1131.0" rx="11.96" ry="12.91" fill="url(#hot2)"/>
<ellipse cx="3225.3" cy="1132.0" rx="4.62" ry="4.08" fill="url(#hot)" opacity="0.6"/>
<path d="M3118.6 1127.6C3120.2 1126.9 3124.8 1124.8 3128.2 1123.5C3131.5 1122.3 3135.6 1119.9 3139.0 1120.1C3142.4 1120.4 3146.3 1122.3 3148.5 1124.9C3150.8 1127.5 3152.4 1131.5 3152.6 1135.8C3152.8 1140.1 3151.5 1147.5 3149.9 1150.7C3148.3 1153.9 3146.0 1153.7 3143.1 1154.8C3140.2 1155.9 3136.3 1157.7 3132.2 1157.5C3128.2 1157.3 3120.9 1154.1 3118.6 1153.4" fill="none" stroke="#271f4a" stroke-width="1.25" stroke-linejoin="round"/>
<path d="M3118.6 1130.3C3120.7 1129.5 3127.0 1126.5 3130.9 1125.6C3134.7 1124.7 3138.9 1123.9 3141.7 1124.9C3144.6 1125.9 3146.9 1128.8 3147.9 1131.7C3148.8 1134.6 3148.4 1139.8 3147.2 1142.6C3145.9 1145.3 3143.1 1146.8 3140.4 1148.0C3137.7 1149.2 3134.5 1150.0 3130.9 1150.0C3127.2 1150.0 3120.7 1148.3 3118.6 1148.0" fill="none" stroke="#43307a" stroke-width="1.1" stroke-linejoin="round"/>
<path d="M3118.6 1131.7C3120.5 1131.1 3125.9 1128.9 3129.5 1128.3C3133.1 1127.7 3137.8 1126.9 3140.4 1127.9C3143.0 1128.9 3144.7 1132.0 3145.1 1134.4C3145.6 1136.9 3145.2 1140.6 3143.1 1142.6C3140.9 1144.5 3136.3 1145.6 3132.2 1146.0C3128.2 1146.3 3120.9 1144.8 3118.6 1144.6" fill="none" stroke="#6a3a9a" stroke-width="0.8" stroke-linejoin="round"/>
<path d="M3118.6 1132.8C3120.5 1132.2 3125.9 1130.1 3129.5 1129.4C3133.1 1128.7 3137.8 1127.9 3140.4 1128.7C3143.0 1129.5 3144.7 1132.2 3145.1 1134.4C3145.6 1136.6 3145.2 1140.1 3143.1 1141.9C3140.9 1143.6 3136.3 1144.6 3132.2 1144.9C3128.2 1145.1 3120.9 1143.7 3118.6 1143.5" fill="none" stroke="#8b44a8" stroke-width="0.8" stroke-linejoin="round"/>
<path d="M3118.6 1133.9C3120.5 1133.3 3125.9 1131.2 3129.5 1130.5C3133.1 1129.7 3137.8 1128.9 3140.4 1129.5C3143.0 1130.2 3144.7 1132.5 3145.1 1134.4C3145.6 1136.4 3145.2 1139.6 3143.1 1141.2C3140.9 1142.8 3136.3 1143.6 3132.2 1143.8C3128.2 1144.0 3120.9 1142.7 3118.6 1142.4" fill="none" stroke="#8b44a8" stroke-width="0.8" stroke-linejoin="round"/>
<path d="M3118.6 1135.0C3120.5 1134.4 3125.9 1132.3 3129.5 1131.6C3133.1 1130.8 3137.8 1129.9 3140.4 1130.3C3143.0 1130.8 3144.7 1132.7 3145.1 1134.4C3145.6 1136.1 3145.2 1139.1 3143.1 1140.5C3140.9 1141.9 3136.3 1142.6 3132.2 1142.7C3128.2 1142.8 3120.9 1141.6 3118.6 1141.3" fill="none" stroke="#a850a8" stroke-width="0.8" stroke-linejoin="round"/>
<path d="M3118.6 1136.0C3120.5 1135.5 3125.9 1133.5 3129.5 1132.6C3133.1 1131.8 3137.8 1130.9 3140.4 1131.2C3143.0 1131.4 3144.7 1133.0 3145.1 1134.4C3145.6 1135.9 3145.2 1138.6 3143.1 1139.8C3140.9 1141.0 3136.3 1141.5 3132.2 1141.6C3128.2 1141.7 3120.9 1140.5 3118.6 1140.3" fill="none" stroke="#a850a8" stroke-width="0.8" stroke-linejoin="round"/>
<ellipse cx="3128.2" cy="1137.8" rx="14.95" ry="7.47" fill="url(#pur)"/>
<ellipse cx="3138.3" cy="1133.1" rx="8.15" ry="7.47" fill="url(#hot)"/>
<path d="M3319.0 1021.6C3318.9 1023.7 3317.4 1031.4 3318.4 1033.9C3319.4 1036.4 3322.4 1036.1 3325.2 1036.6C3327.9 1037.0 3333.1 1036.6 3334.7 1036.6" fill="none" stroke="#271f4a" stroke-width="1.25" stroke-linejoin="round"/>
<path d="M3327.2 1021.6C3327.3 1022.8 3326.6 1027.1 3327.9 1028.4C3329.1 1029.8 3333.5 1029.6 3334.7 1029.8" fill="none" stroke="#43307a" stroke-width="1.1" stroke-linejoin="round"/>
</g>
<rect x="3121.2" y="1024.0" width="211.0" height="211.1" fill="none" stroke="#7a7a7a" stroke-width="1.3"/>
</svg>
</body></html>
